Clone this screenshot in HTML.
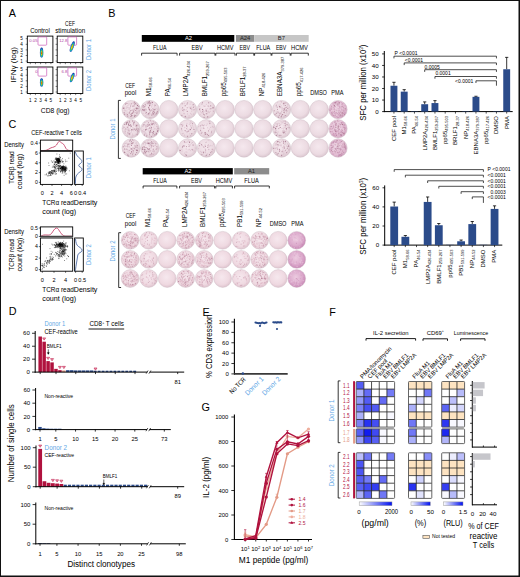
<!DOCTYPE html><html><head><meta charset="utf-8"><style>html,body{margin:0;padding:0;background:#fff;width:520px;height:577px;overflow:hidden}svg{display:block;font-family:"Liberation Sans",sans-serif}</style></head><body><svg width="520" height="577" viewBox="0 0 520 577" font-family="Liberation Sans, sans-serif"><defs><radialGradient id="jet" cx="50%" cy="55%" r="50%"><stop offset="0" stop-color="#e02010"/><stop offset="0.25" stop-color="#f0c010"/><stop offset="0.5" stop-color="#60c040"/><stop offset="0.75" stop-color="#10a0d0"/><stop offset="1" stop-color="#1030a0"/></radialGradient><radialGradient id="well" cx="45%" cy="42%" r="58%"><stop offset="0" stop-color="#f5e8ee"/><stop offset="0.72" stop-color="#ecdbe2"/><stop offset="1" stop-color="#dcc8d1"/></radialGradient><radialGradient id="well2" cx="45%" cy="42%" r="58%"><stop offset="0" stop-color="#f6e8ee"/><stop offset="0.72" stop-color="#efd9e1"/><stop offset="1" stop-color="#dfc5cf"/></radialGradient><radialGradient id="wellp" cx="45%" cy="42%" r="58%"><stop offset="0" stop-color="#f0dce8"/><stop offset="0.7" stop-color="#e6c4d8"/><stop offset="1" stop-color="#d4aac4"/></radialGradient><radialGradient id="wellp2" cx="45%" cy="42%" r="58%"><stop offset="0" stop-color="#eccbe0"/><stop offset="0.65" stop-color="#dcaacc"/><stop offset="1" stop-color="#c888b6"/></radialGradient><linearGradient id="cb"><stop offset="0" stop-color="#ffffff"/><stop offset="1" stop-color="#0010f0"/></linearGradient></defs><rect x="0" y="0" width="520" height="1" fill="#111"/>
<rect x="0" y="0" width="1" height="577" fill="#111"/>
<rect x="518.5" y="0" width="1.5" height="577" fill="#111"/>
<rect x="0" y="575.5" width="520" height="1.5" fill="#111"/>
<text x="8.8" y="16.8" font-size="10.8">A</text>
<text x="108.3" y="16.9" font-size="10.8">B</text>
<text x="8.6" y="127.8" font-size="10.8">C</text>
<text x="8.7" y="315.4" font-size="10.8">D</text>
<text x="202.4" y="315.8" font-size="10.8">E</text>
<text x="201.6" y="411.2" font-size="10.8">G</text>
<text x="329.2" y="315.6" font-size="10.8">F</text>
<text x="40" y="32.9" font-size="7" text-anchor="middle" textLength="19.6" lengthAdjust="spacingAndGlyphs">Control</text>
<text x="70" y="25.7" font-size="6.68" text-anchor="middle" textLength="9.8" lengthAdjust="spacingAndGlyphs">CEF</text>
<text x="70.2" y="32.9" font-size="7" text-anchor="middle" textLength="30" lengthAdjust="spacingAndGlyphs">stimulation</text>
<rect x="27.3" y="36.1" width="25.6" height="26.5" fill="none" stroke="#000" stroke-width="0.9"/>
<line x1="25.7" y1="61.1" x2="27.3" y2="61.1" stroke="#000" stroke-width="0.5"/>
<line x1="25.7" y1="55.5" x2="27.3" y2="55.5" stroke="#000" stroke-width="0.5"/>
<line x1="25.7" y1="49.9" x2="27.3" y2="49.9" stroke="#000" stroke-width="0.5"/>
<line x1="25.7" y1="44.3" x2="27.3" y2="44.3" stroke="#000" stroke-width="0.5"/>
<line x1="25.7" y1="38.7" x2="27.3" y2="38.7" stroke="#000" stroke-width="0.5"/>
<line x1="30.3" y1="62.6" x2="30.3" y2="64.2" stroke="#000" stroke-width="0.5"/>
<line x1="35.45" y1="62.6" x2="35.45" y2="64.2" stroke="#000" stroke-width="0.5"/>
<line x1="40.6" y1="62.6" x2="40.6" y2="64.2" stroke="#000" stroke-width="0.5"/>
<line x1="45.75" y1="62.6" x2="45.75" y2="64.2" stroke="#000" stroke-width="0.5"/>
<line x1="50.9" y1="62.6" x2="50.9" y2="64.2" stroke="#000" stroke-width="0.5"/>
<rect x="38" y="36.9" width="8.7" height="8.3" fill="none" stroke="#cc5ab8" stroke-width="0.7" rx="0.8"/>
<text x="37.5" y="42.2" font-size="4.2" text-anchor="end" fill="#b040a0">0.05</text>
<ellipse cx="41.6" cy="52.6" rx="1.7" ry="5.2" fill="url(#jet)"/>
<rect x="57.2" y="36.1" width="25.6" height="26.5" fill="none" stroke="#000" stroke-width="0.9"/>
<line x1="55.6" y1="61.1" x2="57.2" y2="61.1" stroke="#000" stroke-width="0.5"/>
<line x1="55.6" y1="55.5" x2="57.2" y2="55.5" stroke="#000" stroke-width="0.5"/>
<line x1="55.6" y1="49.9" x2="57.2" y2="49.9" stroke="#000" stroke-width="0.5"/>
<line x1="55.6" y1="44.3" x2="57.2" y2="44.3" stroke="#000" stroke-width="0.5"/>
<line x1="55.6" y1="38.7" x2="57.2" y2="38.7" stroke="#000" stroke-width="0.5"/>
<line x1="60.2" y1="62.6" x2="60.2" y2="64.2" stroke="#000" stroke-width="0.5"/>
<line x1="65.35" y1="62.6" x2="65.35" y2="64.2" stroke="#000" stroke-width="0.5"/>
<line x1="70.5" y1="62.6" x2="70.5" y2="64.2" stroke="#000" stroke-width="0.5"/>
<line x1="75.65" y1="62.6" x2="75.65" y2="64.2" stroke="#000" stroke-width="0.5"/>
<line x1="80.8" y1="62.6" x2="80.8" y2="64.2" stroke="#000" stroke-width="0.5"/>
<rect x="67.9" y="36.9" width="8.7" height="8.3" fill="none" stroke="#cc5ab8" stroke-width="0.7" rx="0.8"/>
<text x="67.4" y="42.2" font-size="4.2" text-anchor="end" fill="#b040a0">12.8</text>
<ellipse cx="72.2" cy="46.6" rx="1.6" ry="5.6" fill="url(#jet)" transform="rotate(20 72.2 46.6)"/>
<rect x="27.3" y="67" width="25.6" height="26.5" fill="none" stroke="#000" stroke-width="0.9"/>
<line x1="25.7" y1="92" x2="27.3" y2="92" stroke="#000" stroke-width="0.5"/>
<line x1="25.7" y1="86.4" x2="27.3" y2="86.4" stroke="#000" stroke-width="0.5"/>
<line x1="25.7" y1="80.8" x2="27.3" y2="80.8" stroke="#000" stroke-width="0.5"/>
<line x1="25.7" y1="75.2" x2="27.3" y2="75.2" stroke="#000" stroke-width="0.5"/>
<line x1="25.7" y1="69.6" x2="27.3" y2="69.6" stroke="#000" stroke-width="0.5"/>
<line x1="30.3" y1="93.5" x2="30.3" y2="95.1" stroke="#000" stroke-width="0.5"/>
<line x1="35.45" y1="93.5" x2="35.45" y2="95.1" stroke="#000" stroke-width="0.5"/>
<line x1="40.6" y1="93.5" x2="40.6" y2="95.1" stroke="#000" stroke-width="0.5"/>
<line x1="45.75" y1="93.5" x2="45.75" y2="95.1" stroke="#000" stroke-width="0.5"/>
<line x1="50.9" y1="93.5" x2="50.9" y2="95.1" stroke="#000" stroke-width="0.5"/>
<rect x="38" y="67.8" width="8.7" height="8.3" fill="none" stroke="#cc5ab8" stroke-width="0.7" rx="0.8"/>
<text x="37.5" y="73.1" font-size="4.2" text-anchor="end" fill="#b040a0">0</text>
<ellipse cx="41.6" cy="82.5" rx="1.7" ry="4.3" fill="url(#jet)"/>
<rect x="57.2" y="67" width="25.6" height="26.5" fill="none" stroke="#000" stroke-width="0.9"/>
<line x1="55.6" y1="92" x2="57.2" y2="92" stroke="#000" stroke-width="0.5"/>
<line x1="55.6" y1="86.4" x2="57.2" y2="86.4" stroke="#000" stroke-width="0.5"/>
<line x1="55.6" y1="80.8" x2="57.2" y2="80.8" stroke="#000" stroke-width="0.5"/>
<line x1="55.6" y1="75.2" x2="57.2" y2="75.2" stroke="#000" stroke-width="0.5"/>
<line x1="55.6" y1="69.6" x2="57.2" y2="69.6" stroke="#000" stroke-width="0.5"/>
<line x1="60.2" y1="93.5" x2="60.2" y2="95.1" stroke="#000" stroke-width="0.5"/>
<line x1="65.35" y1="93.5" x2="65.35" y2="95.1" stroke="#000" stroke-width="0.5"/>
<line x1="70.5" y1="93.5" x2="70.5" y2="95.1" stroke="#000" stroke-width="0.5"/>
<line x1="75.65" y1="93.5" x2="75.65" y2="95.1" stroke="#000" stroke-width="0.5"/>
<line x1="80.8" y1="93.5" x2="80.8" y2="95.1" stroke="#000" stroke-width="0.5"/>
<rect x="67.9" y="67.8" width="8.7" height="8.3" fill="none" stroke="#cc5ab8" stroke-width="0.7" rx="0.8"/>
<text x="67.4" y="73.1" font-size="4.2" text-anchor="end" fill="#b040a0">6.8</text>
<ellipse cx="72.2" cy="77.5" rx="1.6" ry="5" fill="url(#jet)" transform="rotate(20 72.2 77.5)"/>
<text x="22.9" y="62.7" font-size="4.6" text-anchor="end">1</text>
<text x="22.9" y="57.1" font-size="4.6" text-anchor="end">2</text>
<text x="22.9" y="51.5" font-size="4.6" text-anchor="end">3</text>
<text x="22.9" y="45.9" font-size="4.6" text-anchor="end">4</text>
<text x="22.9" y="40.3" font-size="4.6" text-anchor="end">5</text>
<text x="22.9" y="93.6" font-size="4.6" text-anchor="end">1</text>
<text x="22.9" y="88" font-size="4.6" text-anchor="end">2</text>
<text x="22.9" y="82.4" font-size="4.6" text-anchor="end">3</text>
<text x="22.9" y="76.8" font-size="4.6" text-anchor="end">4</text>
<text x="22.9" y="71.2" font-size="4.6" text-anchor="end">5</text>
<text x="30.3" y="102.2" font-size="4.6" text-anchor="middle">1</text>
<text x="35.45" y="102.2" font-size="4.6" text-anchor="middle">2</text>
<text x="40.6" y="102.2" font-size="4.6" text-anchor="middle">3</text>
<text x="45.75" y="102.2" font-size="4.6" text-anchor="middle">4</text>
<text x="50.9" y="102.2" font-size="4.6" text-anchor="middle">5</text>
<text x="60.2" y="102.2" font-size="4.6" text-anchor="middle">1</text>
<text x="65.35" y="102.2" font-size="4.6" text-anchor="middle">2</text>
<text x="70.5" y="102.2" font-size="4.6" text-anchor="middle">3</text>
<text x="75.65" y="102.2" font-size="4.6" text-anchor="middle">4</text>
<text x="80.8" y="102.2" font-size="4.6" text-anchor="middle">5</text>
<text x="55.2" y="112.7" font-size="7.42" text-anchor="middle" textLength="28.8" lengthAdjust="spacingAndGlyphs">CD8 (log)</text>
<text x="16" y="64.8" font-size="7.42" text-anchor="middle" transform="rotate(-90 16 64.8)" textLength="35.5" lengthAdjust="spacingAndGlyphs">IFN&#947; (log)</text>
<text x="91.2" y="49.5" font-size="7" text-anchor="middle" fill="#5fa8e6" transform="rotate(-90 91.2 49.5)" textLength="21" lengthAdjust="spacingAndGlyphs">Donor 1</text>
<text x="91.2" y="80.5" font-size="7" text-anchor="middle" fill="#5fa8e6" transform="rotate(-90 91.2 80.5)" textLength="21" lengthAdjust="spacingAndGlyphs">Donor 2</text>
<rect x="141.8" y="35" width="92.5" height="6.8" fill="#000"/>
<rect x="235.9" y="35" width="18.3" height="6.8" fill="#8c8c8c"/>
<rect x="254.2" y="35" width="54.5" height="6.8" fill="#c6c6c6"/>
<text x="188.5" y="40.4" font-size="5.8" text-anchor="middle" fill="#fff">A2</text>
<text x="245.1" y="40.4" font-size="5.8" text-anchor="middle" fill="#222">A24</text>
<text x="281.4" y="40.4" font-size="5.8" text-anchor="middle" fill="#222">B7</text>
<text x="153" y="49.7" font-size="6.36" textLength="13.5" lengthAdjust="spacingAndGlyphs">FLUA</text>
<text x="191.5" y="49.7" font-size="6.36" textLength="11.1" lengthAdjust="spacingAndGlyphs">EBV</text>
<text x="217" y="49.7" font-size="6.36" textLength="16.4" lengthAdjust="spacingAndGlyphs">HCMV</text>
<text x="239.5" y="49.7" font-size="6.36" textLength="10.5" lengthAdjust="spacingAndGlyphs">EBV</text>
<text x="256.3" y="49.7" font-size="6.36" textLength="13.9" lengthAdjust="spacingAndGlyphs">FLUA</text>
<text x="275.9" y="49.7" font-size="6.36" textLength="10.3" lengthAdjust="spacingAndGlyphs">EBV</text>
<text x="291" y="49.7" font-size="6.36" textLength="16.9" lengthAdjust="spacingAndGlyphs">HCMV</text>
<path d="M141.6 55.6V53.2H177.1V55.6" stroke="#000" stroke-width="0.8" fill="none"/>
<path d="M179.6 55.6V53.2H215V55.6" stroke="#000" stroke-width="0.8" fill="none"/>
<path d="M215.8 55.6V53.2H235V55.6" stroke="#000" stroke-width="0.8" fill="none"/>
<path d="M236.4 55.6V53.2H253.8V55.6" stroke="#000" stroke-width="0.8" fill="none"/>
<path d="M254.6 55.6V53.2H271.1V55.6" stroke="#000" stroke-width="0.8" fill="none"/>
<path d="M271.9 55.6V53.2H290.2V55.6" stroke="#000" stroke-width="0.8" fill="none"/>
<path d="M291 55.6V53.2H308.3V55.6" stroke="#000" stroke-width="0.8" fill="none"/>
<text x="130.2" y="87.6" font-size="6.36" text-anchor="middle" textLength="9.8" lengthAdjust="spacingAndGlyphs">CEF</text>
<text x="130.5" y="95.2" font-size="6.36" text-anchor="middle" textLength="11.6" lengthAdjust="spacingAndGlyphs">pool</text>
<text x="150.9" y="96.3" font-size="6.3" transform="rotate(-90 150.9 96.3)">M1<tspan font-size="4" dy="1.3">58-66</tspan></text>
<text x="169.7" y="96.3" font-size="6.3" transform="rotate(-90 169.7 96.3)">PA<tspan font-size="4" dy="1.3">46-54</tspan></text>
<text x="188.5" y="96.3" font-size="6.3" transform="rotate(-90 188.5 96.3)">LMP2A<tspan font-size="4" dy="1.3">426-434</tspan></text>
<text x="207.3" y="96.3" font-size="6.3" transform="rotate(-90 207.3 96.3)">BMLF1<tspan font-size="4" dy="1.3">259-267</tspan></text>
<text x="226.1" y="96.3" font-size="6.3" transform="rotate(-90 226.1 96.3)">pp65<tspan font-size="4" dy="1.3">495-503</tspan></text>
<text x="244.9" y="96.3" font-size="6.3" transform="rotate(-90 244.9 96.3)">BRLF1<tspan font-size="4" dy="1.3">28-37</tspan></text>
<text x="263.7" y="96.3" font-size="6.3" transform="rotate(-90 263.7 96.3)">NP<tspan font-size="4" dy="1.3">418-426</tspan></text>
<text x="282.5" y="96.3" font-size="6.3" transform="rotate(-90 282.5 96.3)">EBNA3A<tspan font-size="4" dy="1.3">379-387</tspan></text>
<text x="301.3" y="96.3" font-size="6.3" transform="rotate(-90 301.3 96.3)">pp65<tspan font-size="4" dy="1.3">417-426</tspan></text>
<text x="318.6" y="94.6" font-size="6.36" text-anchor="middle" textLength="16.8" lengthAdjust="spacingAndGlyphs">DMSO</text>
<text x="337.4" y="94.6" font-size="6.36" text-anchor="middle" textLength="12.2" lengthAdjust="spacingAndGlyphs">PMA</text>
<circle cx="131.2" cy="109.6" r="9.2" fill="url(#well)" stroke="#cdbcc4" stroke-width="0.45"/>
<path d="M129.8 112.5h0M129.9 107.8h0M126.3 108.5h0M136.7 111.7h0M136.5 110.9h0M133.5 110.7h0M124.5 113.0h0M134.0 112.4h0M125.6 103.8h0M126.6 107.2h0M133.0 109.3h0M134.0 106.1h0M133.0 111.8h0M128.5 116.6h0M133.9 115.3h0M127.9 105.7h0M129.2 109.0h0M134.7 111.0h0M128.9 104.7h0M128.7 115.4h0M126.9 110.9h0M133.1 102.9h0M131.4 115.9h0M123.5 108.4h0M130.6 105.2h0M134.0 109.2h0M124.9 113.2h0M134.6 114.3h0M137.8 111.3h0M131.8 103.3h0M134.5 106.3h0M129.0 103.6h0M126.3 106.9h0M135.5 102.8h0M124.5 110.7h0M137.7 112.2h0M126.2 103.0h0M133.1 105.6h0M126.1 114.1h0M136.8 110.4h0M132.6 112.1h0M138.0 112.2h0M134.0 112.6h0M125.2 114.5h0M136.1 112.3h0M123.8 107.2h0M134.5 102.6h0M130.2 114.9h0M126.3 115.7h0" stroke="#dcc0cd" stroke-opacity="0.7" stroke-width="1.3" stroke-linecap="round"/><path d="M134.3 108.8h0M133.0 113.2h0M131.8 115.3h0M127.6 107.3h0M136.6 109.7h0M126.9 114.2h0M137.8 107.6h0M124.7 109.0h0M130.3 107.9h0M137.1 105.3h0M136.4 104.3h0M127.1 112.9h0M136.5 113.6h0M133.2 110.4h0M132.1 112.8h0M130.2 111.2h0M134.4 109.6h0M135.2 112.6h0M138.9 110.8h0M128.8 107.5h0M131.1 114.5h0M129.3 111.8h0M136.0 102.9h0M125.6 110.8h0M133.5 111.0h0M128.9 113.2h0M132.8 106.7h0M139.2 110.8h0M128.1 109.0h0M129.9 109.2h0M123.1 108.2h0M135.7 104.4h0M130.8 114.6h0" stroke="#b48aa0" stroke-opacity="0.5" stroke-width="0.75" stroke-linecap="round"/><path d="M134.8 115.9h0M124.0 108.1h0M129.3 113.0h0M134.3 102.0h0M135.7 103.6h0M134.2 103.1h0M132.1 115.5h0M130.3 110.7h0M135.5 110.4h0M130.8 116.5h0M136.5 108.1h0M138.8 106.4h0M136.0 108.2h0M131.9 113.5h0M132.4 113.1h0M125.6 104.1h0M134.3 104.8h0M127.0 103.5h0M137.0 113.0h0M137.4 105.7h0M131.2 103.9h0M134.4 116.2h0M127.5 116.1h0M136.3 108.7h0M124.6 114.3h0M130.7 106.2h0M133.5 111.9h0M137.4 105.4h0M135.8 115.6h0M137.9 108.8h0M127.6 114.6h0M131.9 110.3h0M137.8 108.4h0M123.3 108.3h0M124.1 112.7h0M133.0 106.2h0M131.1 114.1h0M131.6 115.9h0" stroke="#7a3a58" stroke-opacity="0.75" stroke-width="0.7" stroke-linecap="round"/>
<circle cx="150" cy="109.6" r="9.2" fill="url(#well)" stroke="#cdbcc4" stroke-width="0.45"/>
<path d="M149.7 115.0h0M155.4 115.4h0M146.6 114.1h0M143.2 105.7h0M143.0 113.4h0M143.9 109.5h0M148.9 109.4h0M146.7 110.9h0M157.4 109.8h0M152.7 114.6h0M149.0 103.5h0M147.3 114.9h0M143.1 107.1h0M154.9 113.4h0M150.0 114.0h0M150.8 103.7h0M143.3 106.9h0M154.7 106.7h0M145.5 105.8h0M143.1 109.1h0M144.2 111.4h0M142.0 110.7h0M147.6 102.2h0M154.0 108.1h0M142.5 106.7h0M151.6 107.0h0M154.0 113.4h0M153.7 111.4h0M156.1 112.6h0M151.7 101.9h0M154.0 115.4h0M148.3 106.9h0M156.0 104.1h0M151.5 117.6h0M145.4 113.1h0M157.6 109.1h0M152.9 114.2h0M145.2 109.1h0M151.6 114.0h0M149.8 108.5h0M144.8 107.8h0M154.7 110.1h0M145.8 105.4h0M157.6 112.8h0M152.0 101.7h0M153.4 112.2h0M157.1 111.4h0M149.6 112.6h0M143.0 113.3h0M151.8 105.8h0M154.7 116.0h0M143.7 106.6h0M151.7 110.7h0M148.0 104.6h0" stroke="#dcc0cd" stroke-opacity="0.7" stroke-width="1.3" stroke-linecap="round"/><path d="M157.2 113.1h0M145.1 104.0h0M156.6 113.5h0M157.0 112.7h0M145.4 111.0h0M142.5 107.0h0M149.7 112.6h0M146.0 108.9h0M152.6 111.7h0M153.5 110.8h0M148.3 113.8h0M150.3 105.1h0M146.5 109.6h0M149.4 110.5h0M150.0 110.6h0M149.3 103.5h0M152.1 114.9h0M152.5 108.5h0M152.3 104.6h0M142.4 109.8h0M145.4 113.3h0M146.9 102.0h0M145.8 115.9h0M148.2 103.2h0M146.0 112.4h0M152.8 110.6h0M156.5 112.7h0M149.9 113.0h0M156.6 113.5h0M154.7 104.7h0M149.2 113.6h0M148.5 115.0h0M153.0 114.2h0M149.3 117.7h0M156.0 108.5h0M150.3 117.8h0" stroke="#b48aa0" stroke-opacity="0.5" stroke-width="0.75" stroke-linecap="round"/><path d="M148.2 114.2h0M155.1 109.6h0M144.2 110.5h0M151.8 115.2h0M154.3 109.7h0M154.4 112.4h0M151.2 109.9h0M148.7 113.4h0M144.8 106.5h0M150.0 102.9h0M148.3 102.0h0M146.4 112.6h0M153.2 109.3h0M148.9 103.0h0M157.3 111.7h0M155.1 105.5h0M149.2 102.2h0M153.8 114.2h0M142.4 109.4h0M152.5 102.5h0M143.2 105.6h0M147.2 103.3h0M150.2 111.1h0M153.3 113.3h0M156.0 114.2h0M143.9 107.2h0M145.2 104.7h0M149.5 109.6h0M152.1 102.7h0M143.9 109.5h0M148.8 107.8h0M149.7 105.4h0M153.8 111.5h0M149.5 105.9h0M149.5 101.4h0M144.9 109.8h0M143.2 110.5h0M150.7 103.1h0M148.6 107.8h0M152.5 112.9h0M149.8 105.0h0M149.2 109.2h0" stroke="#7a3a58" stroke-opacity="0.75" stroke-width="0.7" stroke-linecap="round"/>
<circle cx="168.8" cy="109.6" r="9.2" fill="url(#well)" stroke="#cdbcc4" stroke-width="0.45"/>
<circle cx="187.6" cy="109.6" r="9.2" fill="url(#well)" stroke="#cdbcc4" stroke-width="0.45"/>
<path d="M191.6 111.2h0M184.3 103.5h0M185.6 105.6h0M182.0 109.0h0M184.8 110.2h0M190.5 107.3h0M195.6 108.5h0M193.2 110.2h0M191.1 102.2h0M183.5 110.9h0M189.6 117.4h0M189.1 115.7h0M191.4 114.3h0M190.5 108.7h0M190.1 104.2h0M192.9 105.1h0M188.5 117.4h0M186.3 109.7h0M193.4 109.7h0M183.3 111.0h0" stroke="#dcc0cd" stroke-opacity="0.7" stroke-width="1.3" stroke-linecap="round"/><path d="M190.7 113.4h0M184.5 116.6h0M194.8 109.7h0M189.1 107.2h0M193.9 106.5h0M191.2 107.0h0M184.0 113.3h0M194.0 109.6h0M184.1 113.8h0M187.3 111.4h0M193.7 114.1h0M185.8 117.4h0M187.6 113.9h0" stroke="#b48aa0" stroke-opacity="0.5" stroke-width="0.75" stroke-linecap="round"/><path d="M184.0 109.4h0M181.9 115.4h0M193.2 104.6h0M182.2 103.8h0M193.3 107.4h0M187.2 107.8h0M187.0 104.1h0M187.7 102.9h0M187.2 111.4h0M190.3 108.3h0M182.8 110.4h0M185.5 116.4h0M191.8 109.0h0M185.1 105.8h0M182.7 107.8h0" stroke="#7a3a58" stroke-opacity="0.75" stroke-width="0.7" stroke-linecap="round"/>
<circle cx="206.4" cy="109.6" r="9.2" fill="url(#well)" stroke="#cdbcc4" stroke-width="0.45"/>
<path d="M208.1 112.5h0M208.5 117.2h0M202.5 109.7h0M213.3 105.0h0M203.5 110.6h0M207.3 111.9h0M205.0 111.7h0M206.7 113.8h0M199.3 106.3h0M206.4 104.3h0M201.2 112.7h0M202.9 113.0h0M210.4 111.3h0M209.3 109.0h0M199.8 109.5h0M208.9 106.7h0M205.9 113.7h0M201.9 112.9h0M213.7 107.4h0M207.3 108.7h0M213.2 111.0h0M210.9 106.1h0M206.3 109.5h0M200.2 114.6h0" stroke="#dcc0cd" stroke-opacity="0.7" stroke-width="1.3" stroke-linecap="round"/><path d="M209.9 102.8h0M210.5 108.9h0M208.9 111.7h0M199.6 108.6h0M213.0 107.1h0M202.0 103.8h0M200.5 111.2h0M213.5 111.4h0M207.3 117.5h0M203.6 106.0h0M209.3 112.6h0M201.9 104.4h0M208.1 111.0h0M200.1 108.6h0M203.4 112.1h0M205.7 109.1h0" stroke="#b48aa0" stroke-opacity="0.5" stroke-width="0.75" stroke-linecap="round"/><path d="M204.6 114.9h0M212.8 107.9h0M210.7 105.8h0M206.8 113.7h0M213.2 107.9h0M206.0 110.7h0M199.6 109.7h0M202.7 111.6h0M202.4 102.7h0M206.6 111.1h0M203.6 114.2h0M204.9 106.2h0M208.5 102.8h0M202.6 109.5h0M211.0 108.7h0M208.1 106.0h0M207.7 116.7h0M204.1 117.4h0M202.8 109.7h0" stroke="#7a3a58" stroke-opacity="0.75" stroke-width="0.7" stroke-linecap="round"/>
<circle cx="225.2" cy="109.6" r="9.2" fill="url(#well)" stroke="#cdbcc4" stroke-width="0.45"/>
<circle cx="244" cy="109.6" r="9.2" fill="url(#well)" stroke="#cdbcc4" stroke-width="0.45"/>
<circle cx="262.8" cy="109.6" r="9.2" fill="url(#well)" stroke="#cdbcc4" stroke-width="0.45"/>
<circle cx="281.6" cy="109.6" r="9.2" fill="url(#well)" stroke="#cdbcc4" stroke-width="0.45"/>
<path d="M282.5 114.9h0M277.5 102.6h0M284.8 113.7h0M283.5 117.6h0M282.8 111.1h0M286.4 111.5h0M287.9 104.9h0M280.7 101.4h0M285.9 107.6h0M284.8 117.0h0M281.6 108.1h0M279.0 105.2h0M278.2 113.0h0M281.8 110.0h0M280.7 114.4h0M284.4 108.8h0M285.3 108.8h0M276.9 115.5h0M284.0 104.7h0M287.0 111.3h0M276.1 115.3h0M283.4 114.3h0M282.8 108.7h0M275.3 113.6h0M281.8 107.9h0M283.6 110.1h0M285.3 107.6h0M281.5 101.7h0M279.3 113.3h0M287.9 107.9h0M281.1 116.6h0M279.8 113.6h0M288.8 109.8h0M287.3 106.3h0M282.8 109.1h0M282.2 115.3h0M289.4 107.4h0M278.5 112.3h0" stroke="#dcc0cd" stroke-opacity="0.7" stroke-width="1.3" stroke-linecap="round"/><path d="M276.3 112.1h0M284.8 108.1h0M283.9 102.9h0M284.8 103.1h0M277.9 106.6h0M279.5 114.1h0M282.1 107.3h0M283.9 116.4h0M281.6 111.7h0M287.6 110.9h0M277.8 116.9h0M287.7 104.1h0M281.4 112.0h0M286.4 112.9h0M280.2 104.2h0M282.1 114.9h0M276.6 104.9h0M281.5 102.0h0M280.1 107.1h0M284.0 105.8h0M277.0 107.5h0M281.3 105.9h0M281.7 113.7h0M286.1 116.0h0M277.4 107.4h0" stroke="#b48aa0" stroke-opacity="0.5" stroke-width="0.75" stroke-linecap="round"/><path d="M275.0 114.6h0M277.6 109.4h0M284.0 103.3h0M284.3 109.4h0M274.2 110.8h0M285.9 102.9h0M286.0 110.7h0M284.2 112.1h0M287.8 108.5h0M286.2 107.4h0M285.3 105.5h0M281.1 116.9h0M284.1 108.7h0M276.2 105.9h0M282.6 114.5h0M284.0 112.5h0M281.4 116.0h0M279.4 106.5h0M286.3 109.9h0M280.0 106.4h0M280.2 113.1h0M283.3 103.7h0M284.0 110.6h0M276.7 113.4h0M280.0 107.7h0M285.2 115.5h0M277.9 112.0h0M278.7 117.2h0M279.2 115.4h0" stroke="#7a3a58" stroke-opacity="0.75" stroke-width="0.7" stroke-linecap="round"/>
<circle cx="300.4" cy="109.6" r="9.2" fill="url(#well)" stroke="#cdbcc4" stroke-width="0.45"/>
<circle cx="319.2" cy="109.6" r="9.2" fill="url(#well)" stroke="#cdbcc4" stroke-width="0.45"/>
<circle cx="338" cy="109.6" r="9.2" fill="url(#wellp)" stroke="#cdbcc4" stroke-width="0.45"/>
<path d="M334.7 113.8h0M343.5 103.4h0M335.6 112.4h0M337.5 105.9h0M345.9 109.9h0M331.3 113.1h0M331.5 113.9h0M334.8 110.4h0M344.1 110.2h0M333.0 103.5h0M343.5 113.1h0M333.9 113.9h0M340.7 113.1h0M330.1 108.5h0M342.5 113.3h0M340.8 101.9h0M339.0 112.4h0M345.7 106.7h0M336.1 109.8h0M342.6 107.3h0M343.4 105.9h0M339.5 106.6h0M338.9 105.8h0M331.7 113.9h0M339.7 106.5h0M339.0 114.7h0M332.9 109.0h0M341.0 112.5h0M336.8 101.8h0M344.0 111.2h0M338.1 108.0h0M339.5 107.2h0M333.0 106.0h0M334.8 106.3h0M332.4 112.6h0M332.0 112.6h0M332.8 111.4h0M344.5 110.6h0M334.0 109.9h0M338.6 102.3h0M334.6 110.5h0M335.3 110.1h0M341.8 113.5h0M342.6 112.6h0M336.3 109.5h0M336.4 107.8h0M337.2 102.3h0M336.1 109.5h0M332.9 109.5h0M340.9 108.7h0M343.2 103.1h0M337.2 102.2h0M340.8 117.3h0M329.9 110.0h0M340.9 107.9h0M339.9 101.8h0M342.5 111.6h0M338.1 106.3h0M341.5 107.0h0M339.3 106.7h0M330.0 109.5h0M339.1 113.7h0M333.3 109.4h0M341.4 110.4h0M342.3 116.4h0M334.6 102.5h0M341.6 116.0h0M342.5 113.6h0M334.7 105.8h0M342.3 105.2h0M331.2 105.8h0M344.5 114.7h0M334.4 105.8h0M339.3 105.5h0M344.3 109.2h0M333.4 115.2h0M334.7 110.8h0M337.9 107.8h0M339.8 105.8h0M332.7 103.3h0M332.2 106.1h0M337.9 109.9h0M341.1 110.3h0M333.9 106.0h0M330.2 109.0h0M340.7 112.5h0M337.3 108.6h0M342.9 109.7h0M341.9 112.7h0M339.0 115.9h0M334.8 107.6h0M333.9 105.6h0M343.3 115.6h0M338.1 112.8h0M343.5 113.4h0M343.1 104.3h0M334.5 112.1h0M344.6 110.1h0M333.5 107.7h0M334.6 105.2h0M344.6 106.9h0M338.1 117.5h0M343.8 111.3h0M334.6 111.9h0M344.8 112.2h0M344.1 110.1h0M340.9 108.5h0M340.0 115.7h0M331.4 109.3h0M339.3 106.4h0M336.3 113.8h0M345.5 111.9h0" stroke="#d9a6c4" stroke-opacity="0.5" stroke-width="1.1" stroke-linecap="round"/><path d="M339.4 102.7h0M345.6 109.9h0M337.8 103.9h0M337.7 104.0h0M338.4 112.3h0M338.2 111.2h0M334.3 115.8h0M335.4 102.4h0M337.0 105.4h0M332.8 107.8h0M339.4 103.8h0M337.4 116.2h0M341.8 108.8h0M338.7 108.9h0M337.7 113.6h0M337.7 101.5h0M337.9 104.9h0M341.5 106.3h0M338.5 117.5h0M333.3 104.5h0M333.8 102.5h0M330.5 111.0h0M335.5 102.3h0M331.5 112.3h0M333.8 107.6h0M339.6 116.0h0M345.0 113.3h0M338.8 110.7h0M344.3 114.6h0M336.2 112.2h0M339.7 109.9h0M335.7 103.4h0M335.7 102.9h0M343.8 112.2h0M333.1 115.3h0M341.3 102.5h0M345.1 112.7h0M344.9 105.5h0M340.9 111.9h0M339.2 110.6h0M342.3 103.5h0M333.0 104.0h0M335.0 106.3h0M340.1 111.1h0M338.2 105.8h0M335.7 114.5h0M342.2 110.2h0M336.6 116.5h0M334.8 113.1h0M343.7 108.3h0M341.9 104.4h0M343.2 110.6h0M331.3 112.4h0M334.0 115.3h0M334.2 108.7h0M339.6 107.7h0M339.5 106.5h0M341.7 109.6h0M338.6 101.4h0M343.8 109.8h0M330.6 110.0h0M340.3 114.9h0M333.7 115.8h0M337.5 117.6h0M337.2 113.4h0M336.2 104.0h0M343.1 113.8h0M344.4 113.2h0M335.6 102.6h0M334.6 106.0h0M333.8 112.6h0M339.9 108.1h0M339.0 108.8h0M339.2 113.7h0M342.8 106.2h0M332.3 115.0h0M338.6 115.2h0M330.9 108.2h0M338.1 102.9h0M335.2 113.5h0" stroke="#b4709a" stroke-opacity="0.5" stroke-width="0.7" stroke-linecap="round"/><path d="M342.3 115.9h0M334.2 103.5h0M340.7 114.4h0M338.9 103.4h0M342.0 113.6h0M341.0 106.9h0M339.6 113.9h0M335.8 102.3h0M339.8 112.3h0M338.1 114.3h0M334.7 109.1h0M336.3 112.8h0M345.0 108.5h0M344.5 114.5h0M342.1 112.7h0M345.4 108.8h0M337.4 104.2h0M340.2 115.9h0M341.0 111.9h0M336.8 110.6h0M332.1 114.0h0M336.0 104.1h0M334.2 105.4h0M342.1 114.6h0M332.1 113.6h0M342.6 106.6h0M331.6 106.4h0M334.5 111.5h0M336.6 101.9h0M339.0 102.7h0M342.1 104.1h0M334.5 105.3h0M335.5 115.7h0M342.4 112.7h0M339.4 102.7h0M335.2 106.6h0M333.0 112.2h0M334.2 105.9h0M334.4 102.5h0M340.7 115.7h0M338.9 104.5h0M329.8 110.1h0M343.9 111.1h0M341.9 115.8h0M343.6 107.4h0M343.1 113.3h0M331.2 107.8h0M331.4 109.1h0" stroke="#83465f" stroke-opacity="0.55" stroke-width="0.6" stroke-linecap="round"/>
<circle cx="131.2" cy="128.8" r="9.2" fill="url(#well)" stroke="#cdbcc4" stroke-width="0.45"/>
<path d="M134.1 123.5h0M124.4 133.1h0M132.9 135.5h0M125.5 133.3h0M137.1 134.5h0M130.0 130.4h0M130.4 134.0h0M136.6 129.2h0M125.1 132.1h0M128.6 132.2h0M132.3 135.9h0M136.8 126.6h0M132.6 136.1h0M128.2 131.2h0M136.2 134.1h0M133.6 122.6h0M125.1 130.0h0M132.4 136.9h0M127.2 134.1h0M134.3 122.0h0M126.8 129.7h0M128.4 127.9h0M133.7 124.5h0M133.7 125.3h0M128.2 131.7h0M128.0 130.4h0M138.3 128.9h0M130.4 132.8h0M129.4 134.2h0M125.2 131.7h0M128.5 124.6h0M138.1 125.5h0M138.3 131.5h0M137.3 124.7h0M136.0 134.6h0M130.5 128.0h0M139.3 129.4h0M128.9 125.4h0M133.7 130.7h0M132.0 136.1h0M129.4 131.5h0M137.3 124.6h0M135.1 135.6h0M125.5 124.2h0M127.4 122.0h0M133.0 121.4h0M133.4 135.3h0M124.2 127.4h0M124.0 131.7h0" stroke="#dcc0cd" stroke-opacity="0.7" stroke-width="1.3" stroke-linecap="round"/><path d="M127.2 127.4h0M131.5 131.9h0M129.2 128.9h0M128.1 129.4h0M125.4 129.1h0M123.7 126.9h0M138.8 129.1h0M125.1 130.0h0M127.3 122.2h0M127.4 132.6h0M133.4 128.2h0M126.9 123.8h0M137.6 130.0h0M127.9 121.5h0M127.2 136.0h0M125.4 128.4h0M132.4 127.9h0M129.9 122.4h0M127.1 135.3h0M127.4 133.1h0M124.0 127.6h0M132.5 134.1h0M125.7 131.7h0M133.3 124.8h0M133.7 124.1h0M126.9 128.7h0M123.0 128.5h0M127.0 122.7h0M128.9 132.9h0M129.3 134.9h0M126.3 123.3h0M138.0 130.6h0M135.8 124.8h0" stroke="#b48aa0" stroke-opacity="0.5" stroke-width="0.75" stroke-linecap="round"/><path d="M135.5 130.2h0M134.8 128.9h0M136.9 125.7h0M127.2 122.6h0M136.7 125.3h0M126.3 124.4h0M129.1 122.8h0M129.6 125.3h0M128.4 123.9h0M131.4 126.2h0M131.9 130.2h0M132.4 121.0h0M128.4 124.6h0M134.4 122.2h0M127.3 127.2h0M129.5 133.9h0M128.9 133.8h0M126.2 122.6h0M137.1 130.9h0M134.0 129.5h0M133.5 123.0h0M136.0 126.1h0M136.3 129.3h0M124.5 124.4h0M136.9 128.1h0M128.9 130.2h0M128.8 125.8h0M131.8 129.6h0M138.1 129.0h0M137.1 134.4h0M137.8 132.9h0M132.0 129.6h0M130.4 124.8h0M130.8 125.2h0M138.1 131.1h0M129.5 121.3h0M130.9 126.4h0M126.4 123.7h0" stroke="#7a3a58" stroke-opacity="0.75" stroke-width="0.7" stroke-linecap="round"/>
<circle cx="150" cy="128.8" r="9.2" fill="url(#well)" stroke="#cdbcc4" stroke-width="0.45"/>
<path d="M142.2 130.8h0M149.8 136.9h0M149.8 127.9h0M156.7 129.4h0M151.0 126.7h0M147.3 135.4h0M153.9 135.5h0M148.0 129.0h0M145.8 133.5h0M143.7 131.4h0M154.5 134.7h0M145.6 133.8h0M146.3 124.9h0M144.5 133.6h0M156.9 126.3h0M145.9 127.0h0M157.6 131.8h0M147.8 121.6h0M146.8 134.4h0M157.5 127.7h0M146.3 126.1h0M143.0 132.2h0M145.1 133.6h0M143.7 124.1h0M151.6 124.7h0M154.3 128.8h0M144.4 131.8h0M153.1 121.6h0M157.3 130.8h0M152.9 121.6h0M146.1 126.9h0M154.4 122.8h0M146.8 121.5h0M148.6 130.8h0M143.0 126.3h0M152.2 135.6h0M153.7 127.1h0M144.7 124.5h0M146.3 129.6h0M149.8 136.0h0M151.5 123.4h0M156.4 132.7h0M150.6 124.8h0M143.1 125.0h0M154.5 124.8h0M143.7 129.7h0M151.4 132.2h0M152.9 135.1h0M145.9 133.5h0" stroke="#dcc0cd" stroke-opacity="0.7" stroke-width="1.3" stroke-linecap="round"/><path d="M145.1 132.2h0M151.0 130.2h0M155.1 128.7h0M155.2 132.9h0M150.8 125.6h0M146.0 126.0h0M148.8 128.7h0M158.1 130.5h0M153.9 124.5h0M146.1 127.1h0M151.0 123.5h0M156.9 126.4h0M153.4 121.4h0M150.0 130.4h0M151.1 132.2h0M151.6 129.7h0M142.8 126.1h0M142.2 130.9h0M151.8 127.7h0M145.7 125.8h0M155.9 134.4h0M149.7 135.0h0M144.9 122.5h0M147.5 124.2h0M146.9 129.9h0M158.1 127.0h0M150.3 130.4h0M149.8 133.7h0M156.5 124.3h0M150.9 127.3h0M151.6 122.0h0M145.0 122.2h0M153.0 129.9h0" stroke="#b48aa0" stroke-opacity="0.5" stroke-width="0.75" stroke-linecap="round"/><path d="M150.3 120.8h0M148.0 124.7h0M143.9 124.9h0M153.7 131.7h0M149.9 131.7h0M146.6 129.2h0M150.2 131.9h0M149.6 128.0h0M149.3 125.2h0M157.8 130.6h0M151.5 136.7h0M155.2 123.0h0M153.5 133.1h0M156.6 133.4h0M153.6 123.3h0M145.4 130.2h0M152.5 123.7h0M147.8 126.5h0M150.4 130.7h0M148.6 122.8h0M154.8 134.9h0M149.5 134.1h0M152.4 132.4h0M152.6 124.7h0M152.9 133.9h0M146.7 136.0h0M156.2 134.2h0M157.4 131.5h0M148.1 125.5h0M145.6 129.4h0M149.8 132.5h0M144.6 135.0h0M158.0 128.7h0M153.7 131.4h0M151.6 127.6h0M149.3 124.4h0M151.0 128.7h0M151.7 124.3h0" stroke="#7a3a58" stroke-opacity="0.75" stroke-width="0.7" stroke-linecap="round"/>
<circle cx="168.8" cy="128.8" r="9.2" fill="url(#well)" stroke="#cdbcc4" stroke-width="0.45"/>
<circle cx="187.6" cy="128.8" r="9.2" fill="url(#well)" stroke="#cdbcc4" stroke-width="0.45"/>
<path d="M187.8 129.1h0M190.6 123.6h0M189.7 133.8h0M190.9 126.8h0M184.8 127.5h0M190.7 135.4h0M186.7 125.2h0M189.8 130.0h0M183.1 125.1h0M187.0 132.5h0M182.3 124.3h0M190.0 122.9h0M188.2 130.8h0M187.0 123.5h0M187.3 126.9h0M189.4 124.3h0M191.8 122.3h0M186.6 128.8h0M192.4 125.7h0M190.6 125.7h0" stroke="#dcc0cd" stroke-opacity="0.7" stroke-width="1.3" stroke-linecap="round"/><path d="M190.6 135.8h0M185.3 131.3h0M183.2 133.4h0M193.6 129.0h0M182.0 130.8h0M192.7 133.6h0M190.7 121.7h0M184.6 135.1h0M182.3 133.7h0M194.8 131.7h0M193.2 127.1h0M181.6 128.3h0M186.4 128.5h0" stroke="#b48aa0" stroke-opacity="0.5" stroke-width="0.75" stroke-linecap="round"/><path d="M191.4 128.0h0M188.7 131.2h0M187.6 136.3h0M190.1 129.3h0M186.4 125.3h0M194.0 129.5h0M182.3 126.0h0M186.8 126.3h0M192.4 123.7h0M190.4 129.6h0M181.7 129.0h0M187.1 131.6h0M185.1 130.5h0M181.1 124.6h0M191.4 133.8h0" stroke="#7a3a58" stroke-opacity="0.75" stroke-width="0.7" stroke-linecap="round"/>
<circle cx="206.4" cy="128.8" r="9.2" fill="url(#well)" stroke="#cdbcc4" stroke-width="0.45"/>
<path d="M206.3 125.4h0M210.1 121.7h0M202.3 132.3h0M209.6 123.7h0M200.0 133.7h0M207.2 124.0h0M206.7 133.6h0M198.8 132.0h0M209.1 121.3h0M209.4 121.8h0M212.0 130.8h0M214.1 126.7h0M206.4 134.2h0M203.0 125.1h0M204.3 128.4h0M201.0 131.2h0M209.5 129.2h0M213.6 127.4h0" stroke="#dcc0cd" stroke-opacity="0.7" stroke-width="1.3" stroke-linecap="round"/><path d="M212.5 126.3h0M209.2 121.5h0M207.6 127.8h0M203.7 125.5h0M204.5 124.9h0M198.7 126.7h0M203.4 125.9h0M201.0 128.1h0M210.6 127.4h0M204.1 135.1h0M211.1 133.2h0M212.1 127.2h0" stroke="#b48aa0" stroke-opacity="0.5" stroke-width="0.75" stroke-linecap="round"/><path d="M205.7 134.4h0M203.3 128.1h0M208.5 130.9h0M205.0 133.9h0M205.4 132.8h0M211.6 132.0h0M209.9 123.3h0M200.3 125.9h0M208.5 135.5h0M200.4 130.3h0M202.1 125.1h0M204.9 132.6h0M207.5 134.6h0M201.7 133.1h0" stroke="#7a3a58" stroke-opacity="0.75" stroke-width="0.7" stroke-linecap="round"/>
<circle cx="225.2" cy="128.8" r="9.2" fill="url(#well)" stroke="#cdbcc4" stroke-width="0.45"/>
<circle cx="244" cy="128.8" r="9.2" fill="url(#well)" stroke="#cdbcc4" stroke-width="0.45"/>
<circle cx="262.8" cy="128.8" r="9.2" fill="url(#well)" stroke="#cdbcc4" stroke-width="0.45"/>
<path d="" stroke="#dcc0cd" stroke-opacity="0.7" stroke-width="1.3" stroke-linecap="round"/><path d="" stroke="#b48aa0" stroke-opacity="0.5" stroke-width="0.75" stroke-linecap="round"/><path d="" stroke="#7a3a58" stroke-opacity="0.75" stroke-width="0.7" stroke-linecap="round"/>
<circle cx="281.6" cy="128.8" r="9.2" fill="url(#well)" stroke="#cdbcc4" stroke-width="0.45"/>
<path d="M286.5 129.2h0M284.2 125.7h0M276.1 126.8h0M279.8 136.9h0M279.5 135.8h0M282.8 130.6h0M285.4 124.8h0M286.4 130.8h0M275.0 131.4h0M284.6 131.3h0M288.5 127.0h0M284.3 132.8h0M277.5 134.3h0M275.9 123.7h0M284.2 123.4h0M281.1 121.7h0M281.9 123.1h0M283.1 122.0h0M284.1 127.3h0M282.0 128.4h0M282.2 122.5h0M273.5 128.9h0M276.8 126.5h0M283.2 121.2h0M277.6 125.6h0M276.2 130.5h0M280.8 124.4h0M276.8 132.7h0M278.1 131.9h0M283.4 121.4h0M276.1 128.8h0" stroke="#dcc0cd" stroke-opacity="0.7" stroke-width="1.3" stroke-linecap="round"/><path d="M283.4 133.0h0M285.5 133.8h0M279.5 127.6h0M285.7 126.5h0M285.8 122.5h0M285.2 127.8h0M274.5 132.3h0M283.4 128.9h0M276.2 126.5h0M288.0 125.3h0M273.5 126.8h0M275.7 128.1h0M279.5 124.0h0M277.6 133.8h0M276.8 135.3h0M278.9 123.4h0M285.7 131.8h0M276.5 132.4h0M274.6 125.3h0M287.2 127.5h0M275.5 131.2h0" stroke="#b48aa0" stroke-opacity="0.5" stroke-width="0.75" stroke-linecap="round"/><path d="M286.5 128.7h0M274.2 127.4h0M283.8 132.9h0M289.1 127.8h0M278.8 128.6h0M287.0 124.6h0M285.1 121.3h0M285.7 125.3h0M284.1 132.5h0M275.7 128.4h0M282.9 132.1h0M277.2 124.1h0M276.6 135.4h0M280.5 127.5h0M275.3 132.7h0M279.2 135.3h0M286.2 128.9h0M285.1 123.5h0M279.8 125.6h0M275.4 128.9h0M280.9 135.4h0M273.5 127.2h0M276.9 126.4h0M284.0 131.1h0" stroke="#7a3a58" stroke-opacity="0.75" stroke-width="0.7" stroke-linecap="round"/>
<circle cx="300.4" cy="128.8" r="9.2" fill="url(#well)" stroke="#cdbcc4" stroke-width="0.45"/>
<circle cx="319.2" cy="128.8" r="9.2" fill="url(#well)" stroke="#cdbcc4" stroke-width="0.45"/>
<circle cx="338" cy="128.8" r="9.2" fill="url(#wellp)" stroke="#cdbcc4" stroke-width="0.45"/>
<path d="M338.2 126.1h0M340.8 130.8h0M330.5 127.7h0M332.3 123.9h0M338.9 129.2h0M338.6 124.1h0M336.9 124.0h0M340.1 132.5h0M344.4 133.4h0M333.7 126.4h0M333.1 130.4h0M345.4 131.4h0M330.9 124.8h0M331.9 131.2h0M338.0 130.5h0M345.0 125.6h0M334.9 136.0h0M339.8 124.6h0M331.5 123.9h0M329.9 129.0h0M338.2 134.0h0M337.2 125.0h0M335.2 136.0h0M330.6 129.5h0M338.1 132.3h0M335.7 131.6h0M342.4 128.0h0M335.4 127.7h0M333.0 127.7h0M336.3 130.0h0M343.4 134.1h0M335.6 132.1h0M339.6 132.9h0M338.1 130.3h0M335.5 124.6h0M341.9 134.6h0M341.6 131.2h0M339.5 126.2h0M330.9 131.4h0M339.1 125.7h0M333.7 134.4h0M332.2 134.5h0M340.1 136.6h0M334.0 128.7h0M335.1 129.7h0M336.9 124.7h0M343.1 125.0h0M335.2 131.8h0M335.0 126.4h0M340.0 126.7h0M331.9 128.3h0M337.1 136.0h0M333.0 133.3h0M333.8 126.9h0M336.1 130.4h0M341.4 135.7h0M335.1 134.9h0M342.8 132.7h0M334.2 133.3h0M337.4 130.8h0M336.5 132.5h0M342.9 133.8h0M336.9 134.0h0M344.1 124.8h0M343.7 123.6h0M340.9 132.0h0M344.7 130.1h0M335.5 124.6h0M332.3 132.3h0M336.7 124.9h0M340.8 124.8h0M335.6 126.2h0M343.9 134.1h0M337.3 121.8h0M339.6 129.2h0M339.9 131.9h0M336.3 133.6h0M342.5 129.9h0M335.7 126.1h0M341.3 123.5h0M337.1 124.7h0M331.7 131.5h0M337.8 129.0h0M341.7 122.5h0M337.6 130.5h0M341.9 123.7h0M341.9 130.0h0M343.7 133.5h0M340.0 136.5h0M338.0 126.4h0M336.2 123.9h0M337.9 121.2h0M337.5 131.2h0M343.1 127.0h0M344.2 125.9h0M337.5 121.3h0M334.1 124.8h0M344.5 131.1h0M332.7 131.4h0M340.7 127.5h0M338.1 127.1h0M335.8 121.7h0M337.6 134.9h0M344.5 127.5h0M334.0 127.7h0M342.6 130.6h0M334.8 130.8h0M336.9 131.6h0M336.2 122.3h0M338.3 132.9h0M332.5 128.3h0M342.5 126.9h0" stroke="#d9a6c4" stroke-opacity="0.5" stroke-width="1.1" stroke-linecap="round"/><path d="M335.6 136.2h0M341.9 133.6h0M334.2 135.3h0M331.1 126.6h0M341.3 134.7h0M333.4 125.5h0M338.8 121.3h0M341.4 131.7h0M335.6 131.7h0M342.1 130.4h0M340.3 135.4h0M335.4 129.7h0M335.4 133.9h0M335.8 131.4h0M338.8 129.2h0M345.2 128.4h0M344.1 132.3h0M344.2 128.0h0M342.5 132.5h0M334.7 130.3h0M337.3 128.6h0M343.8 125.6h0M332.4 123.0h0M335.6 125.4h0M338.1 131.9h0M345.2 130.1h0M340.4 125.0h0M340.6 134.9h0M342.5 122.2h0M341.6 135.2h0M341.5 122.5h0M336.3 132.0h0M340.1 124.6h0M333.8 133.3h0M332.8 134.3h0M338.1 130.5h0M332.0 126.1h0M341.0 122.5h0M344.7 124.3h0M332.1 129.0h0M340.5 132.6h0M335.9 127.7h0M336.7 125.7h0M330.3 131.7h0M339.4 129.7h0M334.6 130.1h0M337.9 128.4h0M342.1 122.3h0M339.2 123.5h0M336.6 135.4h0M332.6 128.3h0M335.1 133.5h0M334.2 122.3h0M340.8 126.9h0M336.4 134.1h0M333.5 126.9h0M338.8 131.1h0M335.5 133.8h0M345.8 127.4h0M343.4 122.7h0M344.3 127.2h0M338.8 126.9h0M335.1 123.0h0M336.2 134.8h0M343.5 127.1h0M335.3 125.2h0M333.7 135.3h0M341.6 129.4h0M335.6 123.8h0M343.8 132.2h0M333.6 133.4h0M332.8 131.8h0M333.2 126.7h0M340.7 131.1h0M342.7 124.9h0M343.9 133.8h0M337.9 131.4h0M333.9 128.0h0M331.8 129.2h0M338.9 135.0h0" stroke="#b4709a" stroke-opacity="0.5" stroke-width="0.7" stroke-linecap="round"/><path d="M342.5 132.7h0M336.0 127.6h0M336.1 130.0h0M330.8 131.7h0M331.3 126.6h0M338.1 126.0h0M345.0 128.4h0M344.1 133.3h0M335.3 131.0h0M344.0 127.3h0M338.5 125.8h0M338.3 126.8h0M338.4 133.8h0M344.4 129.4h0M339.0 133.2h0M336.6 123.6h0M343.0 124.6h0M342.3 124.3h0M344.7 125.0h0M341.5 135.0h0M334.1 134.9h0M334.8 122.0h0M341.6 132.3h0M337.4 120.7h0M337.7 127.1h0M335.9 127.2h0M330.9 126.6h0M344.1 134.0h0M336.1 125.1h0M339.9 134.0h0M341.3 123.4h0M338.9 129.6h0M343.7 133.5h0M340.4 134.5h0M336.3 135.5h0M335.7 130.9h0M342.3 124.5h0M335.2 121.9h0M338.9 128.5h0M336.2 131.5h0M330.2 128.7h0M338.5 127.3h0M341.1 135.6h0M335.8 124.1h0M334.7 129.3h0M340.9 124.5h0M342.5 124.2h0M342.2 131.0h0" stroke="#83465f" stroke-opacity="0.55" stroke-width="0.6" stroke-linecap="round"/>
<circle cx="131.2" cy="148" r="9.2" fill="url(#well)" stroke="#cdbcc4" stroke-width="0.45"/>
<path d="M132.8 155.7h0M129.7 147.1h0M133.6 152.4h0M125.0 149.3h0M127.4 151.2h0M137.5 148.2h0M130.6 149.0h0M123.2 150.1h0M134.2 148.9h0M129.1 144.2h0M130.3 153.8h0M130.7 154.2h0M123.2 146.6h0M132.7 147.9h0M124.4 145.3h0M136.3 142.8h0M126.8 143.1h0M128.3 151.3h0M133.4 140.6h0M137.5 145.4h0M128.8 154.8h0M130.8 142.1h0M128.0 144.3h0M126.2 146.3h0M135.7 149.8h0M127.5 155.4h0M126.2 148.6h0M131.4 152.0h0M129.4 150.5h0M138.9 148.4h0M125.9 149.6h0M127.1 146.1h0M132.2 149.9h0M129.7 152.4h0M130.3 141.9h0M135.7 146.1h0M136.8 145.0h0M134.3 149.7h0M124.0 144.0h0M126.7 153.7h0M124.2 151.4h0M136.5 150.4h0M134.7 145.4h0M131.1 149.3h0M133.4 151.7h0" stroke="#dcc0cd" stroke-opacity="0.7" stroke-width="1.3" stroke-linecap="round"/><path d="M130.1 144.3h0M128.2 150.2h0M125.0 143.4h0M129.0 145.0h0M130.4 139.9h0M129.3 146.6h0M134.0 140.8h0M129.5 150.6h0M133.5 153.6h0M135.9 143.3h0M134.6 146.2h0M127.9 154.4h0M128.1 143.7h0M129.1 143.6h0M136.2 149.9h0M137.5 149.9h0M128.2 153.0h0M127.8 145.6h0M130.3 148.2h0M136.8 145.2h0M133.2 147.8h0M125.9 143.4h0M130.0 150.2h0M132.9 150.6h0M131.5 145.5h0M133.3 143.0h0M125.0 146.5h0M124.9 145.7h0M127.4 145.2h0M131.0 143.8h0" stroke="#b48aa0" stroke-opacity="0.5" stroke-width="0.75" stroke-linecap="round"/><path d="M129.5 141.0h0M132.0 143.4h0M132.4 139.9h0M127.0 149.3h0M123.2 146.8h0M131.7 148.6h0M124.6 149.0h0M132.0 143.1h0M135.2 147.7h0M131.3 145.5h0M134.2 148.5h0M136.7 150.2h0M127.9 146.8h0M135.9 146.1h0M133.3 150.8h0M130.6 140.1h0M131.9 149.2h0M131.9 144.0h0M137.0 147.4h0M128.0 144.3h0M133.0 142.7h0M127.7 155.1h0M136.7 152.5h0M137.3 150.7h0M124.9 152.5h0M137.0 150.3h0M124.5 152.3h0M137.4 145.8h0M131.9 152.1h0M130.8 153.5h0M131.6 151.7h0M131.6 141.4h0M128.7 155.9h0M132.5 154.1h0M135.5 154.4h0" stroke="#7a3a58" stroke-opacity="0.75" stroke-width="0.7" stroke-linecap="round"/>
<circle cx="150" cy="148" r="9.2" fill="url(#well)" stroke="#cdbcc4" stroke-width="0.45"/>
<path d="M152.9 144.9h0M150.1 140.5h0M149.0 152.7h0M142.2 148.7h0M153.6 153.8h0M145.4 144.8h0M143.1 144.3h0M151.9 155.6h0M145.3 153.6h0M152.3 145.3h0M155.4 141.8h0M149.6 149.2h0M156.3 153.3h0M157.9 148.5h0M154.2 153.8h0M152.8 150.0h0M149.0 145.7h0M145.8 154.7h0M148.4 140.4h0M151.5 147.8h0M150.7 155.4h0M149.4 146.5h0M146.0 147.9h0M147.6 149.1h0M158.2 149.0h0M146.8 155.1h0M154.2 152.0h0M153.6 152.1h0M153.0 154.2h0M154.3 153.7h0M147.2 148.0h0M146.5 152.7h0M154.3 145.6h0M151.8 156.0h0M155.3 143.2h0M149.5 151.5h0M149.8 150.2h0M155.7 149.6h0M144.8 151.4h0M149.4 148.6h0M147.5 141.8h0M144.1 146.3h0M147.0 140.3h0M154.9 143.0h0M146.2 150.8h0M142.8 152.0h0M146.1 151.4h0M147.3 149.7h0M150.6 148.0h0" stroke="#dcc0cd" stroke-opacity="0.7" stroke-width="1.3" stroke-linecap="round"/><path d="M143.8 143.0h0M149.8 154.5h0M147.1 150.8h0M150.9 150.7h0M154.1 141.9h0M151.6 147.0h0M148.4 143.6h0M146.3 143.1h0M146.7 155.5h0M157.2 148.0h0M153.6 143.3h0M143.1 143.5h0M150.6 154.6h0M149.8 142.9h0M148.8 142.9h0M143.6 146.9h0M147.9 143.8h0M145.8 143.6h0M151.1 154.4h0M149.3 155.9h0M143.0 149.2h0M144.3 147.2h0M150.6 151.1h0M155.4 145.3h0M144.0 147.1h0M151.6 144.3h0M153.5 154.6h0M143.6 149.6h0M153.7 141.1h0M151.2 146.7h0M144.4 153.1h0M151.2 145.3h0M152.4 151.4h0" stroke="#b48aa0" stroke-opacity="0.5" stroke-width="0.75" stroke-linecap="round"/><path d="M154.0 151.0h0M152.0 142.3h0M147.6 148.7h0M143.4 153.1h0M148.1 142.8h0M142.7 149.0h0M150.2 144.8h0M147.9 143.4h0M146.0 147.5h0M146.7 151.5h0M149.2 148.8h0M151.9 154.0h0M153.3 149.2h0M149.1 143.7h0M148.2 151.6h0M151.3 145.8h0M145.0 142.2h0M151.6 153.2h0M151.7 141.7h0M148.8 149.3h0M145.3 149.8h0M148.9 143.6h0M144.4 151.7h0M151.8 143.4h0M145.3 152.2h0M153.2 146.3h0M156.9 146.7h0M145.3 152.9h0M148.9 149.9h0M150.2 142.9h0M144.2 147.1h0M155.9 143.8h0M156.3 149.0h0M144.5 149.3h0M152.9 143.5h0M142.3 149.3h0M144.6 150.1h0M142.5 147.4h0" stroke="#7a3a58" stroke-opacity="0.75" stroke-width="0.7" stroke-linecap="round"/>
<circle cx="168.8" cy="148" r="9.2" fill="url(#well)" stroke="#cdbcc4" stroke-width="0.45"/>
<circle cx="187.6" cy="148" r="9.2" fill="url(#well)" stroke="#cdbcc4" stroke-width="0.45"/>
<path d="M184.2 141.7h0M186.2 149.0h0M185.0 142.4h0M188.5 140.8h0M190.5 150.6h0M194.2 151.5h0M189.6 149.5h0M187.7 141.8h0M194.0 150.3h0M186.2 142.4h0M194.1 150.3h0M182.1 151.1h0M195.1 147.9h0M189.8 145.7h0M184.6 153.2h0M195.8 148.3h0M186.9 152.2h0M186.0 151.9h0" stroke="#dcc0cd" stroke-opacity="0.7" stroke-width="1.3" stroke-linecap="round"/><path d="M191.5 143.2h0M182.2 147.6h0M191.9 149.4h0M192.6 142.5h0M190.2 144.7h0M188.2 149.8h0M182.7 146.8h0M181.9 149.3h0M183.3 145.5h0M188.8 144.5h0M193.0 145.0h0M192.0 149.5h0" stroke="#b48aa0" stroke-opacity="0.5" stroke-width="0.75" stroke-linecap="round"/><path d="M182.4 146.9h0M183.3 146.1h0M186.5 155.3h0M185.8 154.8h0M189.7 142.0h0M179.9 150.3h0M180.3 150.6h0M192.7 149.9h0M186.4 146.6h0M189.0 146.3h0M184.7 146.0h0M193.1 145.1h0M189.4 142.4h0M184.5 141.9h0" stroke="#7a3a58" stroke-opacity="0.75" stroke-width="0.7" stroke-linecap="round"/>
<circle cx="206.4" cy="148" r="9.2" fill="url(#well)" stroke="#cdbcc4" stroke-width="0.45"/>
<path d="M205.3 151.7h0M208.1 145.3h0M209.7 146.1h0M208.5 149.5h0M208.1 140.1h0M200.6 151.4h0M206.0 155.9h0M205.1 145.0h0M212.9 150.4h0M213.7 150.0h0M205.3 151.9h0M202.3 145.7h0M203.4 146.8h0M210.4 145.5h0M208.2 145.3h0M208.9 140.2h0M205.2 148.9h0M201.6 152.5h0M207.4 154.0h0M211.1 151.1h0" stroke="#dcc0cd" stroke-opacity="0.7" stroke-width="1.3" stroke-linecap="round"/><path d="M205.7 142.6h0M205.2 145.5h0M207.8 145.4h0M213.7 144.2h0M212.0 145.8h0M205.2 152.7h0M206.4 142.2h0M208.7 146.9h0M198.7 148.7h0M201.4 144.5h0M209.0 149.6h0M205.4 155.8h0M208.6 144.7h0" stroke="#b48aa0" stroke-opacity="0.5" stroke-width="0.75" stroke-linecap="round"/><path d="M207.7 147.3h0M199.8 143.3h0M201.9 154.7h0M205.4 146.5h0M203.6 152.8h0M206.5 155.2h0M209.6 154.6h0M205.7 150.1h0M204.0 147.1h0M199.4 145.7h0M201.7 144.8h0M212.2 149.3h0M211.9 151.8h0M210.7 152.7h0M203.3 152.1h0" stroke="#7a3a58" stroke-opacity="0.75" stroke-width="0.7" stroke-linecap="round"/>
<circle cx="225.2" cy="148" r="9.2" fill="url(#well)" stroke="#cdbcc4" stroke-width="0.45"/>
<circle cx="244" cy="148" r="9.2" fill="url(#well)" stroke="#cdbcc4" stroke-width="0.45"/>
<circle cx="262.8" cy="148" r="9.2" fill="url(#well)" stroke="#cdbcc4" stroke-width="0.45"/>
<circle cx="281.6" cy="148" r="9.2" fill="url(#well)" stroke="#cdbcc4" stroke-width="0.45"/>
<path d="M279.9 145.1h0M285.5 155.1h0M277.9 154.6h0M285.6 143.9h0M283.1 150.0h0M283.7 146.0h0M275.5 148.1h0M285.8 151.8h0M284.7 153.2h0M276.6 147.8h0M283.3 153.0h0M282.5 150.8h0M282.1 155.7h0M273.8 147.9h0M289.6 148.8h0M274.2 148.5h0M275.4 145.1h0M282.5 155.1h0M284.0 151.5h0M286.7 149.0h0M277.1 147.5h0M283.5 146.5h0M278.1 146.1h0M275.5 143.9h0M281.1 146.0h0M281.8 154.4h0M283.3 147.8h0M276.5 143.3h0M283.5 143.5h0M283.7 142.8h0M282.4 147.6h0M286.6 146.0h0M279.5 149.4h0" stroke="#dcc0cd" stroke-opacity="0.7" stroke-width="1.3" stroke-linecap="round"/><path d="M281.8 155.1h0M280.2 145.1h0M279.9 150.6h0M282.8 151.7h0M277.6 155.2h0M289.0 147.9h0M275.8 148.7h0M283.0 140.2h0M281.7 141.4h0M283.7 154.2h0M285.8 141.9h0M287.5 151.9h0M279.6 150.7h0M288.3 146.5h0M281.5 145.0h0M285.4 140.9h0M287.5 144.0h0M285.3 141.5h0M277.0 145.1h0M284.9 141.5h0M284.7 144.7h0M287.5 146.5h0" stroke="#b48aa0" stroke-opacity="0.5" stroke-width="0.75" stroke-linecap="round"/><path d="M284.3 147.1h0M288.8 146.5h0M281.5 155.6h0M282.0 151.7h0M277.7 149.1h0M273.7 148.4h0M278.8 141.6h0M275.9 152.6h0M283.5 141.4h0M288.6 145.3h0M279.6 149.4h0M277.2 141.8h0M278.2 153.4h0M285.4 141.7h0M287.4 148.2h0M284.3 148.3h0M283.7 143.0h0M277.2 144.6h0M279.6 151.3h0M277.0 154.1h0M278.3 144.9h0M285.3 150.3h0M279.9 142.7h0M277.6 141.7h0M286.6 152.7h0M288.9 149.9h0" stroke="#7a3a58" stroke-opacity="0.75" stroke-width="0.7" stroke-linecap="round"/>
<circle cx="300.4" cy="148" r="9.2" fill="url(#well)" stroke="#cdbcc4" stroke-width="0.45"/>
<circle cx="319.2" cy="148" r="9.2" fill="url(#well)" stroke="#cdbcc4" stroke-width="0.45"/>
<circle cx="338" cy="148" r="9.2" fill="url(#wellp)" stroke="#cdbcc4" stroke-width="0.45"/>
<path d="M339.7 152.0h0M342.8 146.7h0M339.3 155.7h0M332.0 143.0h0M333.4 151.6h0M343.7 146.4h0M341.6 147.7h0M339.6 145.1h0M337.8 148.0h0M341.6 155.2h0M330.8 150.1h0M338.0 152.9h0M343.0 151.7h0M341.9 143.5h0M332.3 153.6h0M343.3 143.8h0M343.8 151.0h0M330.4 150.8h0M333.6 153.2h0M334.6 144.2h0M331.2 147.1h0M342.9 144.8h0M332.6 154.2h0M345.1 150.7h0M335.5 142.3h0M331.2 150.3h0M343.5 143.5h0M338.0 146.4h0M336.6 150.7h0M345.5 145.7h0M341.9 153.0h0M336.4 147.2h0M332.4 152.5h0M335.2 144.6h0M338.4 143.5h0M332.8 146.5h0M344.6 147.1h0M340.3 141.6h0M332.0 153.6h0M336.3 141.3h0M337.4 151.3h0M331.3 144.6h0M339.3 143.3h0M341.8 152.6h0M340.4 145.7h0M337.7 144.6h0M337.3 149.8h0M336.5 152.9h0M346.0 146.3h0M339.8 152.3h0M341.5 146.7h0M335.6 153.0h0M341.3 150.7h0M333.9 151.2h0M342.2 147.0h0M340.3 155.6h0M330.8 150.3h0M333.2 142.4h0M336.7 151.0h0M338.3 142.3h0M331.7 145.5h0M338.1 143.6h0M332.8 154.0h0M333.6 147.2h0M335.1 144.9h0M338.2 146.3h0M340.9 142.5h0M333.1 154.4h0M337.6 152.1h0M343.6 150.6h0M338.2 141.2h0M331.6 151.9h0M341.5 151.0h0M333.0 141.6h0M333.4 142.9h0M338.8 142.8h0M344.7 145.4h0M335.2 152.4h0M339.7 143.4h0M341.0 155.1h0M332.1 146.8h0M334.2 141.1h0M341.2 151.6h0M342.9 150.1h0M330.3 147.9h0M334.9 142.5h0M332.8 151.6h0M336.9 155.5h0M339.8 140.6h0M342.0 153.5h0M338.2 142.1h0M344.3 143.3h0M337.7 140.5h0M333.4 141.7h0M342.7 153.1h0M336.1 141.8h0M337.7 150.1h0M332.0 143.4h0M337.4 151.8h0M338.4 150.5h0M334.3 140.7h0M339.6 143.3h0M337.3 145.9h0M340.5 144.0h0M344.6 148.1h0M340.8 151.3h0M343.2 150.0h0M331.0 145.5h0M345.3 149.9h0M341.0 150.5h0M334.7 144.5h0M334.9 153.5h0" stroke="#d9a6c4" stroke-opacity="0.5" stroke-width="1.1" stroke-linecap="round"/><path d="M339.5 155.2h0M339.9 155.4h0M340.2 142.3h0M345.2 149.4h0M343.8 149.0h0M336.1 149.0h0M333.2 142.8h0M333.5 145.3h0M331.6 147.5h0M339.1 155.6h0M345.4 147.8h0M342.6 146.9h0M340.2 147.8h0M335.0 148.4h0M331.4 150.0h0M336.6 142.6h0M336.0 151.0h0M334.4 150.5h0M340.4 154.7h0M332.5 147.4h0M340.2 154.6h0M339.4 152.0h0M331.5 145.4h0M345.1 146.8h0M345.5 145.5h0M336.8 141.1h0M341.5 149.4h0M345.7 148.6h0M336.8 141.5h0M337.6 152.9h0M341.4 153.7h0M342.6 147.8h0M341.3 149.0h0M333.2 154.2h0M339.9 142.7h0M340.2 149.6h0M342.2 154.0h0M329.9 149.5h0M344.3 144.1h0M330.6 149.1h0M339.9 150.0h0M332.5 145.7h0M339.1 152.0h0M345.8 149.1h0M336.0 140.2h0M343.4 147.3h0M337.4 142.9h0M340.9 141.0h0M338.6 148.7h0M339.4 154.2h0M337.4 148.5h0M341.6 141.6h0M336.3 148.4h0M342.7 144.1h0M342.3 150.0h0M332.5 142.5h0M331.4 148.6h0M339.1 151.9h0M342.3 145.1h0M343.1 151.9h0M340.6 150.6h0M331.9 149.7h0M333.4 142.7h0M336.0 148.8h0M337.7 146.1h0M332.8 149.0h0M334.7 141.8h0M338.4 154.7h0M336.0 142.7h0M343.0 154.2h0M336.3 146.8h0M338.6 156.2h0M338.7 153.2h0M339.8 140.7h0M333.2 142.7h0M340.5 148.6h0M345.4 146.9h0M339.8 148.4h0M338.5 156.0h0M339.3 154.7h0" stroke="#b4709a" stroke-opacity="0.5" stroke-width="0.7" stroke-linecap="round"/><path d="M344.0 145.2h0M341.7 145.9h0M338.6 148.9h0M338.1 145.3h0M344.9 146.8h0M340.9 154.9h0M341.1 153.1h0M343.8 152.5h0M344.1 142.9h0M345.7 148.1h0M330.9 145.4h0M331.5 147.9h0M331.9 143.8h0M339.7 148.9h0M333.7 146.7h0M337.4 148.4h0M338.0 146.7h0M341.6 141.4h0M335.2 148.8h0M335.8 144.9h0M335.5 149.2h0M344.1 147.1h0M336.5 150.0h0M337.0 140.4h0M339.5 145.8h0M334.9 151.4h0M338.2 144.8h0M331.6 142.9h0M338.1 147.3h0M340.5 149.3h0M335.7 142.0h0M332.4 147.3h0M332.6 151.6h0M333.3 141.6h0M337.2 140.6h0M344.5 144.0h0M337.7 146.6h0M334.8 141.1h0M330.9 151.3h0M341.4 155.3h0M331.5 150.5h0M337.9 152.5h0M335.3 151.9h0M342.6 151.1h0M344.7 147.2h0M344.6 145.0h0M342.3 140.9h0M338.1 143.7h0" stroke="#83465f" stroke-opacity="0.55" stroke-width="0.6" stroke-linecap="round"/>
<path d="M120.8 100.4H118.4V158.4H120.8" stroke="#000" stroke-width="0.8" fill="none"/>
<text x="114.6" y="129" font-size="7" text-anchor="middle" fill="#5fa8e6" transform="rotate(-90 114.6 129)" textLength="21" lengthAdjust="spacingAndGlyphs">Donor 1</text>
<rect x="142.7" y="168.1" width="90.1" height="6.3" fill="#000"/>
<rect x="234.2" y="168.1" width="35" height="6.3" fill="#8c8c8c"/>
<text x="188" y="173.3" font-size="5.8" text-anchor="middle" fill="#fff">A2</text>
<text x="251.5" y="173.3" font-size="5.8" text-anchor="middle" fill="#222">A1</text>
<text x="153.3" y="182.7" font-size="6.36" textLength="13.5" lengthAdjust="spacingAndGlyphs">FLUA</text>
<text x="191" y="182.7" font-size="6.36" textLength="11" lengthAdjust="spacingAndGlyphs">EBV</text>
<text x="215.7" y="182.7" font-size="6.36" textLength="16.6" lengthAdjust="spacingAndGlyphs">HCMV</text>
<text x="244.3" y="182.7" font-size="6.36" textLength="14.5" lengthAdjust="spacingAndGlyphs">FLUA</text>
<path d="M143.1 188.4V186H176.9V188.4" stroke="#000" stroke-width="0.8" fill="none"/>
<path d="M179.6 188.4V186H214.6V188.4" stroke="#000" stroke-width="0.8" fill="none"/>
<path d="M215.8 188.4V186H232.4V188.4" stroke="#000" stroke-width="0.8" fill="none"/>
<path d="M234.6 188.4V186H269.3V188.4" stroke="#000" stroke-width="0.8" fill="none"/>
<text x="130.6" y="218.4" font-size="6.36" text-anchor="middle" textLength="9.8" lengthAdjust="spacingAndGlyphs">CEF</text>
<text x="130.6" y="226" font-size="6.36" text-anchor="middle" textLength="11.6" lengthAdjust="spacingAndGlyphs">pool</text>
<text x="149.6" y="227" font-size="6.3" transform="rotate(-90 149.6 227)">M1<tspan font-size="4" dy="1.3">58-66</tspan></text>
<text x="168.1" y="227" font-size="6.3" transform="rotate(-90 168.1 227)">PA<tspan font-size="4" dy="1.3">46-54</tspan></text>
<text x="186.6" y="227" font-size="6.3" transform="rotate(-90 186.6 227)">LMP2A<tspan font-size="4" dy="1.3">426-434</tspan></text>
<text x="205.1" y="227" font-size="6.3" transform="rotate(-90 205.1 227)">BMLF1<tspan font-size="4" dy="1.3">259-267</tspan></text>
<text x="223.6" y="227" font-size="6.3" transform="rotate(-90 223.6 227)">pp65<tspan font-size="4" dy="1.3">495-503</tspan></text>
<text x="242.1" y="227" font-size="6.3" transform="rotate(-90 242.1 227)">PB1<tspan font-size="4" dy="1.3">591-599</tspan></text>
<text x="260.6" y="227" font-size="6.3" transform="rotate(-90 260.6 227)">NP<tspan font-size="4" dy="1.3">44-52</tspan></text>
<text x="278.1" y="226.2" font-size="6.36" text-anchor="middle" textLength="16.8" lengthAdjust="spacingAndGlyphs">DMSO</text>
<text x="297.3" y="226.2" font-size="6.36" text-anchor="middle" textLength="12.2" lengthAdjust="spacingAndGlyphs">PMA</text>
<circle cx="130.2" cy="240.3" r="8.9" fill="url(#well2)" stroke="#cdbcc4" stroke-width="0.45"/>
<path d="M130.2 245.4h0M134.0 240.8h0M136.0 235.3h0M126.9 246.5h0M131.4 232.8h0M131.8 234.7h0M135.9 244.7h0M127.7 246.1h0M126.3 244.6h0M133.3 239.6h0M123.9 239.1h0M122.7 238.4h0M123.8 244.5h0M127.3 233.0h0M133.3 242.3h0M128.4 247.7h0M134.3 240.6h0M128.5 232.5h0M132.6 245.0h0M127.6 234.2h0M130.0 233.4h0M130.2 244.4h0M136.8 241.5h0M131.2 244.2h0M136.5 238.9h0M124.8 236.8h0M124.8 236.5h0M129.5 242.2h0M131.1 240.7h0M128.3 242.6h0M134.5 244.0h0M136.7 239.0h0M129.2 247.2h0M131.3 242.6h0M128.5 245.1h0M128.2 235.3h0M129.9 237.9h0M134.5 238.4h0M130.9 239.1h0M132.0 237.0h0M134.6 234.6h0M128.2 236.6h0M133.7 240.5h0M132.8 238.5h0M126.9 235.1h0M128.4 237.4h0M131.7 242.3h0M135.1 239.8h0M126.7 235.4h0M130.5 242.3h0M137.6 241.0h0M135.6 246.0h0M125.7 245.4h0M134.8 245.7h0M130.1 245.1h0M127.6 239.9h0M130.3 247.4h0M129.1 245.1h0M130.6 236.5h0M131.5 243.8h0" stroke="#e2bccb" stroke-opacity="0.7" stroke-width="1.4" stroke-linecap="round"/><path d="M126.6 243.5h0M126.7 236.0h0M131.4 239.0h0M126.4 234.0h0M130.3 241.7h0M127.7 241.3h0M123.7 242.0h0M132.5 241.8h0M126.9 240.7h0M130.8 245.6h0M131.7 241.7h0M126.7 244.5h0M135.7 238.0h0M133.6 241.9h0M130.0 234.3h0M135.6 234.6h0M131.9 238.2h0M135.6 238.3h0M130.4 243.6h0M132.6 237.5h0M133.8 242.4h0M135.0 237.8h0M129.9 238.1h0M125.9 241.6h0M132.0 246.6h0M128.4 242.4h0M135.7 239.7h0M130.6 241.1h0M126.9 235.6h0M135.6 241.1h0M129.8 234.4h0M130.8 245.9h0M125.1 236.3h0M134.6 246.0h0M136.7 238.0h0M133.2 236.5h0M133.0 238.3h0M131.1 246.4h0M132.1 239.0h0M130.5 241.8h0M127.4 241.4h0M132.7 246.8h0" stroke="#c48ca4" stroke-opacity="0.55" stroke-width="0.8" stroke-linecap="round"/><path d="M123.5 236.4h0M124.8 244.1h0M138.0 240.9h0M130.8 245.8h0M122.4 239.7h0M122.2 240.7h0M127.5 237.7h0M132.0 237.2h0M135.6 240.3h0M131.4 248.1h0M128.0 244.9h0M126.6 245.8h0M135.0 241.0h0M134.0 246.5h0M136.4 240.3h0M129.9 245.7h0M124.0 237.7h0M132.7 243.3h0M135.9 245.7h0M132.0 242.7h0M124.2 239.5h0M131.6 239.1h0M130.5 243.6h0M125.6 237.5h0M123.9 244.4h0M126.3 234.0h0M134.2 239.2h0M135.0 238.5h0M137.5 242.7h0M131.0 240.9h0M129.1 244.5h0M137.5 238.8h0M125.1 243.1h0M134.4 234.5h0M126.9 235.6h0M133.1 242.9h0" stroke="#94506e" stroke-opacity="0.65" stroke-width="0.65" stroke-linecap="round"/>
<circle cx="148.7" cy="240.3" r="8.9" fill="url(#well2)" stroke="#cdbcc4" stroke-width="0.45"/>
<path d="M145.4 235.2h0M151.1 233.1h0M152.1 239.5h0M155.4 243.8h0M145.6 238.8h0M147.3 236.5h0M149.1 245.1h0M142.2 239.3h0M154.9 243.4h0M144.8 236.4h0M145.3 234.0h0M154.2 240.6h0M145.8 234.2h0M146.7 237.6h0M155.6 238.5h0M149.3 245.5h0M152.2 239.3h0" stroke="#e2bccb" stroke-opacity="0.7" stroke-width="1.4" stroke-linecap="round"/><path d="M142.1 244.5h0M151.8 238.0h0M148.3 235.5h0M145.1 234.3h0M151.3 243.0h0M149.6 244.3h0M151.6 241.0h0M144.4 243.2h0M154.1 243.2h0M154.4 238.1h0M144.6 245.6h0M145.6 241.6h0" stroke="#c48ca4" stroke-opacity="0.55" stroke-width="0.8" stroke-linecap="round"/><path d="M147.6 240.4h0M147.3 237.4h0M143.3 246.0h0M149.5 233.0h0M144.7 235.3h0M146.5 232.7h0M151.0 246.9h0M147.4 244.1h0M151.4 234.7h0M153.1 234.2h0" stroke="#94506e" stroke-opacity="0.65" stroke-width="0.65" stroke-linecap="round"/>
<circle cx="167.2" cy="240.3" r="8.9" fill="url(#well2)" stroke="#cdbcc4" stroke-width="0.45"/>
<circle cx="185.7" cy="240.3" r="8.9" fill="url(#well2)" stroke="#cdbcc4" stroke-width="0.45"/>
<path d="M182.7 238.4h0M191.5 240.9h0M185.1 236.2h0M186.2 240.5h0M188.8 246.2h0M189.5 240.4h0M185.1 247.0h0M186.8 240.2h0M191.5 245.4h0M188.7 239.7h0M182.7 245.3h0M183.5 245.0h0M181.7 240.8h0M187.9 241.1h0M187.0 242.4h0M181.0 235.6h0M185.1 247.4h0M185.1 235.7h0M182.2 240.5h0M191.1 237.7h0M188.7 241.3h0M183.9 235.7h0M184.9 236.6h0M187.8 233.4h0M190.8 243.7h0M188.1 246.6h0M188.1 233.6h0M186.0 242.7h0M182.6 235.2h0M188.0 243.0h0M183.4 239.0h0M183.1 237.4h0M185.4 245.5h0M179.0 238.9h0M192.4 241.6h0M186.5 244.5h0M181.5 235.2h0M180.0 235.3h0M187.0 244.6h0M183.6 236.8h0M187.8 243.5h0M186.7 233.1h0M184.1 232.6h0M186.9 236.0h0M183.0 246.5h0M191.6 242.4h0M187.2 241.2h0M182.6 240.0h0M192.5 237.2h0M182.2 241.1h0M189.9 244.2h0M180.9 239.7h0M184.5 234.6h0M186.1 237.7h0M190.2 242.4h0" stroke="#e2bccb" stroke-opacity="0.7" stroke-width="1.4" stroke-linecap="round"/><path d="M181.7 240.7h0M183.9 237.0h0M183.4 245.3h0M184.1 233.5h0M182.0 244.2h0M192.6 236.9h0M183.8 238.5h0M179.6 242.1h0M185.4 241.8h0M193.3 239.4h0M189.5 244.3h0M182.5 237.3h0M192.0 243.2h0M186.4 235.1h0M190.0 242.9h0M192.2 244.7h0M189.8 241.7h0M186.0 237.4h0M187.4 241.6h0M188.7 245.3h0M187.3 237.4h0M188.9 246.5h0M181.5 242.4h0M188.5 243.1h0M188.4 239.8h0M185.3 247.2h0M191.6 235.5h0M178.0 241.6h0M182.3 237.7h0M179.1 241.8h0M185.4 237.4h0M188.4 247.6h0M191.3 244.8h0M183.6 243.7h0M185.5 245.8h0M188.8 240.1h0M188.5 236.7h0M188.9 246.4h0" stroke="#c48ca4" stroke-opacity="0.55" stroke-width="0.8" stroke-linecap="round"/><path d="M183.8 243.2h0M179.4 243.9h0M189.7 235.7h0M192.7 240.8h0M179.8 235.6h0M190.1 238.9h0M189.9 234.4h0M185.2 245.1h0M182.3 243.7h0M183.8 242.1h0M186.8 247.9h0M180.3 243.7h0M191.0 235.8h0M186.0 248.0h0M188.4 232.8h0M184.7 233.4h0M187.3 236.6h0M182.9 236.2h0M187.3 237.8h0M181.2 239.2h0M187.7 236.1h0M189.8 234.2h0M187.9 238.2h0M192.1 237.7h0M182.8 234.5h0M192.8 242.5h0M180.5 238.7h0M181.9 246.3h0M187.2 233.0h0M186.7 244.8h0M185.7 242.8h0M185.1 241.4h0M186.8 236.6h0" stroke="#94506e" stroke-opacity="0.65" stroke-width="0.65" stroke-linecap="round"/>
<circle cx="204.2" cy="240.3" r="8.9" fill="url(#well2)" stroke="#cdbcc4" stroke-width="0.45"/>
<path d="M206.1 241.2h0M204.0 236.7h0M199.3 241.5h0M206.7 232.9h0M201.9 246.2h0M208.5 236.9h0M209.7 236.3h0M201.4 247.2h0M201.9 239.1h0M198.0 236.5h0M198.7 239.7h0M197.7 244.1h0M202.4 237.2h0M201.1 244.0h0M210.6 238.6h0M209.6 245.7h0M210.2 241.6h0M198.0 243.1h0M202.0 241.3h0M197.0 239.2h0M205.4 235.7h0M205.4 247.1h0M205.4 236.8h0M210.1 235.0h0M199.7 242.3h0M202.3 232.8h0M205.5 244.5h0M200.9 246.3h0M206.5 245.8h0M197.7 240.3h0M209.1 246.4h0M210.2 240.3h0M205.2 237.0h0M209.2 237.1h0M204.6 232.9h0M199.2 246.2h0M204.5 241.5h0M196.6 240.2h0M210.5 235.7h0M196.5 239.8h0M201.4 239.2h0M199.3 235.0h0M198.7 243.2h0M204.0 244.5h0M199.2 243.1h0" stroke="#e2bccb" stroke-opacity="0.7" stroke-width="1.4" stroke-linecap="round"/><path d="M201.8 240.8h0M208.9 240.5h0M202.8 233.5h0M204.5 244.3h0M200.9 239.9h0M198.1 235.7h0M206.0 246.1h0M202.9 233.5h0M202.6 233.7h0M203.2 247.6h0M205.8 239.5h0M209.2 238.5h0M206.0 241.4h0M206.1 234.0h0M207.6 244.5h0M199.1 234.2h0M200.6 246.3h0M204.3 243.9h0M206.9 244.6h0M201.0 237.3h0M206.2 243.5h0M207.2 242.1h0M201.9 245.5h0M206.4 245.4h0M196.9 243.2h0M196.5 241.0h0M200.7 240.9h0M201.7 238.6h0M205.3 242.2h0M201.8 232.8h0M200.3 243.0h0" stroke="#c48ca4" stroke-opacity="0.55" stroke-width="0.8" stroke-linecap="round"/><path d="M200.0 242.5h0M202.4 235.6h0M208.5 246.4h0M203.6 240.0h0M208.2 234.8h0M200.3 245.3h0M208.6 237.9h0M200.2 242.1h0M198.1 238.1h0M203.5 232.5h0M207.2 244.1h0M208.4 234.6h0M198.6 236.8h0M200.0 246.9h0M199.4 238.8h0M205.3 242.8h0M209.9 236.0h0M208.7 241.1h0M198.6 241.0h0M199.3 246.0h0M200.8 245.0h0M210.0 237.6h0M199.6 241.0h0M199.5 244.4h0M205.1 236.3h0M200.8 243.9h0M199.2 246.1h0" stroke="#94506e" stroke-opacity="0.65" stroke-width="0.65" stroke-linecap="round"/>
<circle cx="222.7" cy="240.3" r="8.9" fill="url(#well2)" stroke="#cdbcc4" stroke-width="0.45"/>
<circle cx="241.2" cy="240.3" r="8.9" fill="url(#well2)" stroke="#cdbcc4" stroke-width="0.45"/>
<path d="M237.1 239.3h0M237.6 246.6h0M244.8 245.9h0M244.7 240.8h0M247.9 242.9h0M243.5 243.3h0M245.0 241.8h0M240.5 233.5h0M247.8 236.1h0M233.9 237.9h0M247.7 244.4h0M238.0 241.7h0" stroke="#e2bccb" stroke-opacity="0.7" stroke-width="1.4" stroke-linecap="round"/><path d="M241.1 232.9h0M239.4 241.9h0M246.0 235.3h0M234.7 235.8h0M243.0 240.7h0M242.0 241.1h0M239.6 234.2h0M243.7 242.4h0" stroke="#c48ca4" stroke-opacity="0.55" stroke-width="0.8" stroke-linecap="round"/><path d="M243.8 246.0h0M237.5 233.3h0M236.1 246.4h0M236.6 242.3h0M241.1 244.2h0M249.1 239.0h0M240.3 237.1h0" stroke="#94506e" stroke-opacity="0.65" stroke-width="0.65" stroke-linecap="round"/>
<circle cx="259.7" cy="240.3" r="8.9" fill="url(#well2)" stroke="#cdbcc4" stroke-width="0.45"/>
<path d="M261.0 243.1h0M255.6 245.8h0M265.1 242.4h0M259.1 239.0h0M253.1 242.9h0M254.9 237.8h0M264.3 236.1h0M257.1 244.6h0M266.7 237.7h0M264.9 237.2h0M261.8 242.9h0M254.8 244.7h0M266.9 240.5h0M261.0 234.7h0M266.8 240.6h0M254.1 243.7h0M253.5 237.4h0M253.1 244.6h0M267.1 238.2h0M256.3 237.3h0M256.7 243.2h0M265.6 236.3h0M261.4 233.3h0M266.3 239.9h0M256.8 246.6h0M259.2 246.5h0M263.7 246.5h0M255.5 240.6h0M261.7 239.2h0M266.0 237.3h0M263.8 245.9h0M252.9 236.9h0M255.2 237.6h0M261.9 239.3h0M260.1 237.8h0M259.3 243.0h0M263.4 236.5h0M259.1 236.3h0M258.9 233.9h0M264.3 243.5h0" stroke="#e2bccb" stroke-opacity="0.7" stroke-width="1.4" stroke-linecap="round"/><path d="M259.0 236.7h0M257.3 236.8h0M254.4 245.9h0M267.2 237.5h0M254.3 243.0h0M262.2 233.8h0M252.5 242.3h0M253.4 244.8h0M257.0 240.8h0M259.7 237.3h0M258.9 238.6h0M265.6 239.9h0M259.5 237.4h0M256.5 236.6h0M259.7 247.5h0M265.1 241.4h0M266.0 244.1h0M260.9 239.4h0M254.4 241.5h0M258.4 233.6h0M255.4 246.7h0M260.9 243.0h0M260.8 237.8h0M261.9 245.5h0M258.0 243.1h0M264.7 238.0h0M260.6 236.4h0M262.9 238.3h0" stroke="#c48ca4" stroke-opacity="0.55" stroke-width="0.8" stroke-linecap="round"/><path d="M264.9 236.8h0M266.6 239.0h0M255.7 236.0h0M263.0 236.1h0M265.9 244.7h0M262.0 234.1h0M259.6 236.4h0M252.6 242.0h0M267.2 238.5h0M263.2 245.9h0M254.9 238.6h0M261.2 242.9h0M254.2 241.3h0M259.2 245.1h0M253.1 238.0h0M257.0 238.6h0M263.4 237.1h0M267.4 238.3h0M263.6 245.0h0M264.6 239.3h0M255.4 239.0h0M263.3 240.9h0M262.7 243.3h0M255.6 235.9h0" stroke="#94506e" stroke-opacity="0.65" stroke-width="0.65" stroke-linecap="round"/>
<circle cx="278.2" cy="240.3" r="8.9" fill="url(#well2)" stroke="#cdbcc4" stroke-width="0.45"/>
<circle cx="296.7" cy="240.3" r="8.9" fill="url(#wellp2)" stroke="#cdbcc4" stroke-width="0.45"/>
<path d="M303.0 238.2h0M291.6 246.2h0M292.8 235.9h0M301.0 235.3h0M292.7 245.1h0M294.3 247.8h0M297.0 248.2h0M297.4 240.6h0M293.3 239.1h0M294.0 240.2h0M300.1 234.7h0M293.6 233.2h0M303.3 240.0h0M296.6 240.0h0M301.7 241.9h0M301.1 239.4h0M296.0 240.0h0M290.1 244.1h0M290.6 236.4h0M300.3 240.6h0M299.8 246.9h0" stroke="#f0d0e4" stroke-opacity="0.45" stroke-width="1.4" stroke-linecap="round"/><path d="M302.9 244.9h0M295.9 247.8h0M292.2 239.9h0M301.7 239.2h0M296.0 238.3h0M300.5 233.4h0M302.0 244.7h0M296.3 243.4h0M292.4 245.2h0M304.3 238.0h0M303.0 240.0h0M294.9 237.7h0M295.8 234.4h0M291.9 246.2h0M296.6 243.3h0" stroke="#c07aaa" stroke-opacity="0.35" stroke-width="1" stroke-linecap="round"/>
<circle cx="130.2" cy="259.4" r="8.9" fill="url(#well2)" stroke="#cdbcc4" stroke-width="0.45"/>
<path d="M131.9 262.0h0M124.1 255.6h0M133.2 264.2h0M124.9 256.7h0M125.2 262.5h0M132.1 259.6h0M126.8 261.2h0M130.4 255.5h0M132.0 255.9h0M134.8 262.4h0M126.7 262.4h0M130.6 255.6h0M126.7 253.0h0M124.8 261.1h0M135.7 256.5h0M131.1 261.3h0M134.2 261.7h0M135.7 262.8h0M126.3 261.5h0M122.5 258.8h0M130.3 262.5h0M128.6 263.7h0M135.9 255.8h0M127.3 260.8h0M132.9 260.2h0M133.9 254.1h0M133.7 264.7h0M135.5 261.4h0M128.9 261.6h0M129.9 252.6h0M126.9 259.2h0M127.7 254.8h0M128.9 257.3h0M130.6 259.1h0M131.1 264.4h0M131.0 261.6h0M127.1 252.0h0M128.1 263.0h0M128.4 256.1h0M124.8 263.3h0M127.3 260.7h0M135.5 261.9h0M137.9 258.9h0M134.8 262.7h0M126.7 259.7h0M127.5 254.5h0M131.8 255.4h0M136.8 256.5h0M127.2 259.9h0M127.4 259.7h0M127.6 253.3h0M123.2 255.7h0M136.7 261.3h0M131.0 256.8h0M129.4 261.1h0" stroke="#e2bccb" stroke-opacity="0.7" stroke-width="1.4" stroke-linecap="round"/><path d="M124.3 256.0h0M126.3 264.8h0M125.7 264.4h0M128.9 267.2h0M129.8 259.6h0M135.9 263.1h0M134.4 254.6h0M134.4 265.6h0M129.6 256.7h0M125.4 263.9h0M131.8 259.4h0M125.7 265.4h0M134.7 259.3h0M136.2 255.6h0M134.3 254.8h0M136.5 258.2h0M135.9 257.5h0M132.1 264.8h0M125.6 259.9h0M126.2 263.5h0M127.0 257.4h0M129.2 265.0h0M125.0 259.3h0M128.4 256.4h0M126.1 258.6h0M131.0 252.7h0M131.3 253.8h0M130.3 267.1h0M125.3 259.1h0M128.9 264.3h0M128.3 252.4h0M123.4 260.1h0M131.4 264.6h0M127.4 262.8h0M125.8 264.8h0M129.8 255.8h0M130.9 266.4h0M126.5 254.0h0" stroke="#c48ca4" stroke-opacity="0.55" stroke-width="0.8" stroke-linecap="round"/><path d="M125.8 254.4h0M129.9 261.4h0M129.3 260.5h0M135.8 258.0h0M126.4 252.5h0M131.5 255.8h0M128.8 261.7h0M132.1 252.8h0M125.4 259.8h0M129.5 264.9h0M128.4 252.0h0M134.5 253.3h0M125.4 261.3h0M127.1 266.7h0M131.5 262.3h0M128.7 266.9h0M133.0 255.7h0M134.7 253.3h0M127.1 260.9h0M130.9 254.6h0M135.8 264.6h0M125.5 261.3h0M126.9 257.1h0M135.2 260.0h0M129.6 260.0h0M125.4 264.4h0M126.9 265.1h0M127.7 257.0h0M136.7 260.2h0M126.9 256.6h0M132.5 266.4h0M133.5 257.3h0M125.0 256.3h0" stroke="#94506e" stroke-opacity="0.65" stroke-width="0.65" stroke-linecap="round"/>
<circle cx="148.7" cy="259.4" r="8.9" fill="url(#well2)" stroke="#cdbcc4" stroke-width="0.45"/>
<path d="M148.0 260.8h0M145.8 265.1h0M144.1 256.0h0M151.4 262.0h0M146.8 264.2h0M143.7 265.2h0M154.6 264.7h0M149.1 266.8h0M148.9 265.5h0M147.6 260.5h0M150.8 252.5h0M147.9 266.4h0M140.8 260.4h0M153.3 261.1h0M149.6 265.7h0M150.0 252.2h0M143.9 257.9h0M149.5 256.9h0M148.3 266.3h0M141.3 262.3h0" stroke="#e2bccb" stroke-opacity="0.7" stroke-width="1.4" stroke-linecap="round"/><path d="M153.3 262.3h0M148.8 259.8h0M150.7 260.7h0M145.1 263.3h0M144.4 259.2h0M147.0 253.9h0M152.0 259.0h0M143.1 259.0h0M143.6 264.8h0M150.6 266.7h0M145.8 263.0h0M144.2 255.4h0M148.2 261.7h0M153.4 258.1h0" stroke="#c48ca4" stroke-opacity="0.55" stroke-width="0.8" stroke-linecap="round"/><path d="M153.6 263.7h0M144.2 258.5h0M145.2 265.9h0M146.0 263.8h0M153.3 258.1h0M146.1 261.3h0M145.3 253.8h0M143.9 261.1h0M149.5 266.5h0M141.7 261.3h0M143.9 264.2h0M152.4 260.1h0" stroke="#94506e" stroke-opacity="0.65" stroke-width="0.65" stroke-linecap="round"/>
<circle cx="167.2" cy="259.4" r="8.9" fill="url(#well2)" stroke="#cdbcc4" stroke-width="0.45"/>
<path d="" stroke="#e2bccb" stroke-opacity="0.7" stroke-width="1.4" stroke-linecap="round"/><path d="" stroke="#c48ca4" stroke-opacity="0.55" stroke-width="0.8" stroke-linecap="round"/><path d="" stroke="#94506e" stroke-opacity="0.65" stroke-width="0.65" stroke-linecap="round"/>
<circle cx="185.7" cy="259.4" r="8.9" fill="url(#well2)" stroke="#cdbcc4" stroke-width="0.45"/>
<path d="M192.1 257.8h0M183.2 254.4h0M182.2 260.0h0M188.7 265.1h0M184.3 255.6h0M183.9 257.1h0M183.2 257.2h0M181.2 259.1h0M182.9 258.5h0M179.5 260.1h0M188.6 262.7h0M183.1 254.1h0M180.5 254.7h0M182.3 257.8h0M178.9 262.0h0M179.4 256.6h0M182.2 263.4h0M192.8 258.0h0M184.2 257.3h0M184.6 258.5h0M192.9 256.2h0M185.1 255.3h0M187.6 256.6h0M188.4 254.3h0M193.2 260.1h0M178.9 262.1h0M183.5 254.0h0M188.0 256.7h0M189.4 256.6h0M190.3 260.2h0M187.7 260.3h0M183.7 257.4h0M188.0 263.0h0M184.3 266.9h0M191.9 255.2h0M191.0 259.1h0M186.9 255.3h0M192.1 256.2h0M185.3 255.6h0M192.2 263.6h0M179.8 257.4h0M187.7 257.1h0M184.0 254.2h0M186.9 254.1h0M188.3 266.8h0M184.4 266.2h0M187.6 255.9h0M184.0 254.7h0M186.3 263.1h0M190.4 258.0h0" stroke="#e2bccb" stroke-opacity="0.7" stroke-width="1.4" stroke-linecap="round"/><path d="M180.0 259.0h0M192.5 260.6h0M185.5 251.9h0M183.4 262.3h0M181.8 265.0h0M182.9 255.1h0M182.6 258.9h0M190.5 256.7h0M178.6 259.1h0M187.9 265.8h0M181.3 265.1h0M189.2 261.7h0M182.0 255.2h0M181.3 263.7h0M186.8 264.6h0M192.8 259.5h0M185.5 266.7h0M179.8 257.4h0M183.7 257.4h0M186.4 255.1h0M190.3 254.0h0M182.5 252.9h0M179.6 261.9h0M189.0 258.4h0M189.8 262.4h0M182.6 259.2h0M187.0 266.7h0M183.3 261.4h0M188.2 264.9h0M187.7 264.5h0M180.5 258.2h0M178.4 259.2h0M193.4 260.2h0M186.2 260.9h0M186.4 253.4h0" stroke="#c48ca4" stroke-opacity="0.55" stroke-width="0.8" stroke-linecap="round"/><path d="M182.1 258.5h0M186.6 255.1h0M185.1 255.6h0M179.9 256.6h0M181.9 263.4h0M191.6 262.0h0M184.6 256.5h0M179.2 257.3h0M191.6 263.7h0M186.9 258.1h0M185.7 261.7h0M185.7 261.7h0M181.7 259.7h0M184.0 264.6h0M180.8 264.5h0M185.2 256.7h0M185.8 260.1h0M184.4 261.7h0M183.4 252.7h0M189.4 259.3h0M192.5 261.0h0M179.1 263.5h0M182.2 262.2h0M192.7 262.8h0M180.4 259.0h0M179.2 262.1h0M188.4 254.6h0M187.9 264.0h0M189.7 256.2h0M182.5 254.3h0" stroke="#94506e" stroke-opacity="0.65" stroke-width="0.65" stroke-linecap="round"/>
<circle cx="204.2" cy="259.4" r="8.9" fill="url(#well2)" stroke="#cdbcc4" stroke-width="0.45"/>
<path d="M198.3 260.9h0M204.4 265.4h0M205.7 257.7h0M199.1 264.9h0M205.1 259.3h0M199.8 254.8h0M207.2 254.8h0M207.2 262.6h0M202.6 252.8h0M206.0 265.6h0M200.6 254.0h0M209.5 260.1h0M201.4 264.9h0M202.7 261.8h0M202.1 255.6h0M205.3 255.1h0M197.3 257.4h0M209.3 263.9h0M211.2 262.6h0M210.9 260.5h0M201.9 261.9h0M199.7 262.9h0M201.8 260.8h0M199.9 258.8h0M209.0 258.4h0M200.7 260.9h0M208.7 258.5h0M199.8 253.6h0M198.8 263.7h0M203.7 262.0h0M209.4 260.8h0M206.7 256.8h0M197.7 262.0h0M203.7 262.5h0M199.0 258.8h0M211.2 256.5h0M204.6 265.4h0M202.9 260.1h0M197.0 262.0h0M202.2 265.2h0" stroke="#e2bccb" stroke-opacity="0.7" stroke-width="1.4" stroke-linecap="round"/><path d="M203.7 257.5h0M206.5 258.2h0M202.0 265.8h0M209.1 260.0h0M208.1 263.3h0M207.3 259.7h0M204.6 261.6h0M207.2 261.3h0M201.3 259.1h0M206.4 254.7h0M204.2 263.3h0M205.1 257.9h0M204.1 256.9h0M209.0 257.7h0M198.1 255.1h0M205.8 260.6h0M202.1 253.6h0M203.4 255.3h0M200.7 259.5h0M200.3 261.0h0M200.4 257.2h0M203.2 265.7h0M210.4 263.1h0M200.4 259.5h0M208.5 263.2h0M197.4 259.2h0M200.6 263.1h0M207.5 256.8h0" stroke="#c48ca4" stroke-opacity="0.55" stroke-width="0.8" stroke-linecap="round"/><path d="M211.7 258.5h0M212.0 258.9h0M203.9 266.6h0M201.4 257.1h0M210.6 259.3h0M206.4 253.8h0M210.7 263.0h0M206.0 263.0h0M201.6 257.0h0M197.6 261.0h0M209.6 263.1h0M208.6 262.8h0M200.3 254.0h0M207.6 260.3h0M209.0 258.2h0M199.8 261.6h0M201.9 252.9h0M201.2 255.3h0M199.0 257.0h0M207.2 266.6h0M211.1 257.9h0M209.7 259.1h0M206.3 256.1h0M203.9 252.6h0" stroke="#94506e" stroke-opacity="0.65" stroke-width="0.65" stroke-linecap="round"/>
<circle cx="222.7" cy="259.4" r="8.9" fill="url(#well2)" stroke="#cdbcc4" stroke-width="0.45"/>
<path d="" stroke="#e2bccb" stroke-opacity="0.7" stroke-width="1.4" stroke-linecap="round"/><path d="" stroke="#c48ca4" stroke-opacity="0.55" stroke-width="0.8" stroke-linecap="round"/><path d="" stroke="#94506e" stroke-opacity="0.65" stroke-width="0.65" stroke-linecap="round"/>
<circle cx="241.2" cy="259.4" r="8.9" fill="url(#well2)" stroke="#cdbcc4" stroke-width="0.45"/>
<path d="M248.0 256.7h0M244.2 256.6h0M242.5 254.0h0M239.3 263.9h0M243.4 252.4h0M244.9 254.0h0M242.7 262.2h0M237.8 257.9h0M239.9 261.6h0M245.0 265.0h0M242.4 266.7h0M237.7 265.9h0M239.9 263.3h0M240.5 259.9h0M236.7 261.3h0" stroke="#e2bccb" stroke-opacity="0.7" stroke-width="1.4" stroke-linecap="round"/><path d="M248.6 260.0h0M241.1 259.5h0M244.9 258.5h0M241.2 260.6h0M246.7 263.3h0M236.3 256.6h0M241.3 263.7h0M246.0 258.5h0M248.7 258.9h0M246.4 264.6h0" stroke="#c48ca4" stroke-opacity="0.55" stroke-width="0.8" stroke-linecap="round"/><path d="M247.9 260.3h0M243.6 253.2h0M234.3 257.2h0M244.5 264.2h0M240.7 264.4h0M243.6 265.7h0M234.9 256.3h0M236.9 254.9h0M247.6 256.0h0" stroke="#94506e" stroke-opacity="0.65" stroke-width="0.65" stroke-linecap="round"/>
<circle cx="259.7" cy="259.4" r="8.9" fill="url(#well2)" stroke="#cdbcc4" stroke-width="0.45"/>
<path d="M255.5 257.5h0M264.1 257.3h0M263.4 262.2h0M257.6 252.0h0M255.7 254.2h0M266.2 256.7h0M254.6 261.2h0M260.0 254.9h0M264.6 263.4h0M261.1 255.7h0M256.6 252.5h0M261.7 261.5h0M255.1 259.6h0M267.3 256.9h0M253.0 261.8h0M257.4 256.9h0M263.0 258.8h0M264.5 261.9h0M265.2 260.0h0M253.0 263.5h0M253.4 263.2h0M260.8 253.4h0M260.0 263.8h0M254.7 259.7h0M256.2 254.9h0M256.9 265.0h0M263.3 259.3h0M259.3 260.2h0M261.3 260.4h0M253.2 262.8h0M257.2 252.0h0M262.9 254.2h0M258.9 259.0h0M256.7 262.1h0M258.2 258.0h0M255.0 258.1h0M254.6 259.7h0M265.2 263.5h0M261.6 253.5h0M264.3 263.5h0M265.2 253.6h0M259.8 257.7h0" stroke="#e2bccb" stroke-opacity="0.7" stroke-width="1.4" stroke-linecap="round"/><path d="M264.4 254.9h0M258.4 267.0h0M263.2 252.7h0M259.8 265.5h0M256.5 262.4h0M260.1 253.1h0M256.8 264.5h0M265.1 256.8h0M264.9 256.3h0M261.1 259.3h0M253.9 260.9h0M258.6 251.6h0M255.7 255.5h0M255.8 255.0h0M257.5 251.9h0M264.2 259.8h0M261.1 258.0h0M260.1 258.0h0M255.4 253.7h0M260.1 264.3h0M260.7 266.0h0M253.6 258.3h0M256.9 264.9h0M266.5 257.4h0M263.5 258.2h0M254.8 258.9h0M255.6 265.3h0M262.4 264.7h0M260.9 251.8h0" stroke="#c48ca4" stroke-opacity="0.55" stroke-width="0.8" stroke-linecap="round"/><path d="M263.8 259.9h0M252.0 259.7h0M263.5 265.7h0M255.0 263.0h0M261.5 258.5h0M258.2 262.2h0M262.6 262.7h0M257.8 253.6h0M264.9 264.4h0M256.7 259.3h0M262.8 252.9h0M261.3 267.0h0M261.1 255.8h0M267.2 259.4h0M260.8 257.2h0M260.4 252.4h0M254.8 254.0h0M264.3 259.0h0M263.6 252.8h0M257.1 265.5h0M256.7 252.6h0M255.9 257.7h0M259.6 265.3h0M264.6 265.0h0M262.7 256.9h0" stroke="#94506e" stroke-opacity="0.65" stroke-width="0.65" stroke-linecap="round"/>
<circle cx="278.2" cy="259.4" r="8.9" fill="url(#well2)" stroke="#cdbcc4" stroke-width="0.45"/>
<circle cx="296.7" cy="259.4" r="8.9" fill="url(#wellp2)" stroke="#cdbcc4" stroke-width="0.45"/>
<path d="M294.6 253.2h0M301.8 264.3h0M297.2 255.0h0M300.2 261.9h0M297.4 254.0h0M298.0 256.5h0M300.4 262.3h0M299.0 257.2h0M302.9 262.5h0M302.2 262.9h0M300.1 261.4h0M292.8 253.0h0M292.2 262.3h0M301.3 260.3h0M297.1 266.5h0M295.1 252.5h0M290.1 258.1h0M300.2 263.0h0M295.6 263.5h0M296.4 255.7h0M294.8 263.2h0" stroke="#f0d0e4" stroke-opacity="0.45" stroke-width="1.4" stroke-linecap="round"/><path d="M300.9 254.6h0M291.8 260.0h0M303.5 255.7h0M291.0 261.3h0M299.3 256.3h0M296.6 262.0h0M289.7 259.3h0M299.6 263.8h0M302.2 259.1h0M291.3 264.3h0M300.5 256.3h0M301.3 263.9h0M296.2 251.7h0M294.3 255.7h0M292.4 259.0h0" stroke="#c07aaa" stroke-opacity="0.35" stroke-width="1" stroke-linecap="round"/>
<circle cx="130.2" cy="278.5" r="8.9" fill="url(#well2)" stroke="#cdbcc4" stroke-width="0.45"/>
<path d="M125.0 280.3h0M136.7 274.5h0M135.1 276.0h0M133.1 277.8h0M135.8 275.5h0M133.8 274.8h0M131.5 278.4h0M134.4 272.6h0M125.1 283.7h0M131.8 285.3h0M125.2 279.5h0M132.6 285.3h0M129.9 276.1h0M133.9 278.0h0M126.6 282.1h0M123.5 275.0h0M136.2 276.3h0M128.5 280.5h0M135.4 280.9h0M125.6 275.8h0M135.3 277.9h0M127.1 282.7h0M133.9 285.3h0M125.2 275.3h0M126.6 280.3h0M128.0 283.7h0M122.7 281.1h0M126.8 277.1h0M133.2 279.6h0M126.2 284.3h0M133.2 276.0h0M131.2 273.3h0M124.5 277.1h0M132.2 279.0h0M126.9 272.7h0M124.6 283.7h0M132.1 274.5h0M135.6 280.9h0M128.1 275.4h0M135.6 280.0h0M136.9 280.0h0M127.2 275.5h0M126.6 279.8h0M131.5 281.6h0M132.4 273.6h0M129.2 273.9h0M132.4 272.7h0M127.4 274.4h0M127.0 277.2h0M136.7 277.4h0M123.9 277.2h0M133.9 281.2h0M131.1 285.8h0M135.5 278.9h0M135.0 273.3h0" stroke="#e2bccb" stroke-opacity="0.7" stroke-width="1.4" stroke-linecap="round"/><path d="M129.3 274.2h0M130.9 285.2h0M128.2 285.0h0M126.1 284.1h0M123.7 275.3h0M135.1 278.1h0M131.0 278.4h0M131.2 277.5h0M125.4 277.1h0M130.8 274.0h0M132.0 285.3h0M123.6 276.3h0M128.7 278.6h0M130.7 274.8h0M130.0 278.5h0M129.8 285.0h0M130.8 272.1h0M123.8 280.9h0M128.4 275.3h0M124.2 277.1h0M129.7 275.0h0M128.5 282.8h0M134.1 281.2h0M129.4 272.5h0M133.4 284.6h0M135.3 283.1h0M131.7 280.5h0M130.1 284.2h0M129.3 286.0h0M134.1 276.9h0M130.2 271.8h0M126.5 277.0h0M137.6 276.1h0M134.8 278.9h0M128.7 281.7h0M123.3 281.7h0M137.4 279.6h0M129.9 279.4h0" stroke="#c48ca4" stroke-opacity="0.55" stroke-width="0.8" stroke-linecap="round"/><path d="M133.6 276.0h0M130.8 281.2h0M128.3 280.5h0M131.9 282.1h0M125.5 276.0h0M128.2 284.0h0M131.2 271.8h0M126.0 284.9h0M131.7 272.7h0M125.7 279.2h0M135.2 284.1h0M128.2 276.9h0M136.9 275.1h0M136.7 279.9h0M130.6 284.3h0M132.6 274.4h0M123.7 278.6h0M132.4 284.4h0M123.1 282.1h0M132.8 284.7h0M134.2 279.6h0M132.5 280.6h0M126.9 277.9h0M130.9 276.1h0M124.9 273.3h0M132.8 281.2h0M130.7 273.0h0M134.4 276.6h0M123.9 283.2h0M125.8 285.0h0M133.0 276.2h0M122.8 276.3h0M135.7 283.5h0" stroke="#94506e" stroke-opacity="0.65" stroke-width="0.65" stroke-linecap="round"/>
<circle cx="148.7" cy="278.5" r="8.9" fill="url(#well2)" stroke="#cdbcc4" stroke-width="0.45"/>
<path d="M149.7 271.7h0M146.7 277.0h0M151.2 277.8h0M150.1 271.8h0M146.0 284.5h0M142.8 282.2h0M156.1 280.6h0M143.3 283.3h0M141.6 279.8h0M146.8 284.1h0M154.2 279.4h0M155.2 282.0h0M146.4 273.8h0M156.4 277.2h0M150.9 277.9h0M146.8 272.0h0M147.9 277.9h0" stroke="#e2bccb" stroke-opacity="0.7" stroke-width="1.4" stroke-linecap="round"/><path d="M153.4 276.1h0M142.7 274.4h0M148.5 279.9h0M152.4 276.6h0M151.6 279.3h0M155.6 278.3h0M149.5 281.5h0M153.9 274.6h0M146.2 277.1h0M142.0 282.5h0M153.9 278.6h0M156.2 281.3h0" stroke="#c48ca4" stroke-opacity="0.55" stroke-width="0.8" stroke-linecap="round"/><path d="M154.9 283.3h0M152.4 272.8h0M155.1 280.3h0M143.1 278.7h0M152.2 283.0h0M149.6 275.8h0M152.4 274.9h0M148.3 282.4h0M142.5 280.1h0M141.9 275.3h0" stroke="#94506e" stroke-opacity="0.65" stroke-width="0.65" stroke-linecap="round"/>
<circle cx="167.2" cy="278.5" r="8.9" fill="url(#well2)" stroke="#cdbcc4" stroke-width="0.45"/>
<circle cx="185.7" cy="278.5" r="8.9" fill="url(#well2)" stroke="#cdbcc4" stroke-width="0.45"/>
<path d="M180.0 278.1h0M189.4 278.2h0M190.3 279.0h0M184.6 281.1h0M184.4 279.2h0M190.6 275.8h0M190.5 273.9h0M184.8 271.6h0M183.5 285.0h0M187.3 284.2h0M179.9 274.5h0M188.0 282.6h0M188.9 272.1h0M188.4 278.1h0M186.3 281.0h0M184.6 271.7h0M181.5 272.8h0M179.7 277.9h0M191.4 275.4h0M182.3 273.4h0M178.7 278.8h0M183.1 277.2h0M181.1 280.8h0M180.2 281.0h0M182.5 282.3h0M181.3 280.7h0M188.1 278.1h0M192.5 279.2h0M181.5 281.8h0M181.6 275.9h0M185.8 279.5h0M191.1 273.0h0M184.5 283.8h0M184.8 280.2h0M191.4 273.9h0M185.9 282.5h0M183.4 271.7h0M180.8 279.4h0M186.4 285.6h0M190.5 272.9h0M190.3 282.6h0M192.4 277.9h0M182.8 279.3h0M192.1 281.0h0M192.2 281.5h0M182.9 273.8h0M191.7 273.6h0M183.8 276.8h0M181.3 275.8h0M185.7 286.2h0" stroke="#e2bccb" stroke-opacity="0.7" stroke-width="1.4" stroke-linecap="round"/><path d="M185.4 275.7h0M186.3 283.1h0M181.6 276.5h0M179.0 281.2h0M188.5 284.7h0M181.9 285.3h0M190.1 277.1h0M183.6 276.9h0M180.4 281.9h0M182.7 274.9h0M188.5 279.1h0M182.6 277.3h0M183.5 284.4h0M190.4 275.1h0M185.5 284.6h0M184.6 285.5h0M188.0 281.9h0M178.6 281.4h0M187.5 281.5h0M188.2 281.2h0M183.2 282.9h0M186.0 273.4h0M180.7 279.3h0M186.9 271.0h0M178.8 282.0h0M185.7 286.4h0M179.2 277.5h0M182.6 281.3h0M190.7 284.2h0M181.5 283.7h0M180.1 279.9h0M186.6 281.7h0M182.3 284.2h0M185.3 278.4h0M184.4 273.4h0" stroke="#c48ca4" stroke-opacity="0.55" stroke-width="0.8" stroke-linecap="round"/><path d="M189.4 280.2h0M187.4 285.5h0M181.4 277.1h0M185.7 282.8h0M184.8 283.1h0M187.5 271.6h0M183.3 271.4h0M184.2 276.3h0M188.8 279.4h0M185.4 284.3h0M188.4 273.0h0M182.1 280.2h0M192.6 277.7h0M184.8 279.9h0M189.7 278.0h0M187.3 276.3h0M183.0 274.6h0M189.0 275.7h0M188.6 280.6h0M188.4 271.1h0M181.6 273.3h0M184.9 282.6h0M192.5 282.6h0M191.7 280.2h0M183.7 281.3h0M178.6 281.5h0M185.7 281.7h0M181.2 273.8h0M182.3 278.3h0M187.6 276.6h0" stroke="#94506e" stroke-opacity="0.65" stroke-width="0.65" stroke-linecap="round"/>
<circle cx="204.2" cy="278.5" r="8.9" fill="url(#well2)" stroke="#cdbcc4" stroke-width="0.45"/>
<path d="M206.0 282.0h0M198.7 278.0h0M197.8 276.2h0M208.5 275.1h0M211.2 280.4h0M208.7 279.0h0M208.1 283.4h0M204.8 275.7h0M202.2 285.6h0M203.2 276.1h0M201.4 271.9h0M201.6 280.2h0M201.8 274.7h0M206.4 280.9h0M201.9 280.1h0M199.7 282.4h0M199.4 276.9h0M204.9 276.2h0M200.5 285.3h0M209.3 272.7h0M204.8 272.7h0M205.6 272.6h0M207.2 281.2h0M210.3 282.8h0M202.0 283.1h0M201.7 277.9h0M202.2 271.6h0M206.3 271.3h0M202.9 281.3h0M204.7 271.9h0M201.0 281.9h0M208.4 284.5h0M197.2 280.3h0M201.8 282.3h0M197.3 277.9h0M207.7 275.3h0M202.4 273.7h0M208.7 273.2h0M199.7 276.9h0M203.1 285.9h0M205.6 274.3h0M207.2 280.3h0" stroke="#e2bccb" stroke-opacity="0.7" stroke-width="1.4" stroke-linecap="round"/><path d="M205.7 278.1h0M206.3 273.1h0M198.7 276.5h0M199.2 281.7h0M210.7 282.6h0M206.6 280.3h0M201.2 272.8h0M206.5 272.3h0M205.8 277.7h0M208.1 278.8h0M204.8 275.4h0M197.3 277.1h0M207.4 283.3h0M209.8 274.5h0M199.8 281.8h0M202.8 286.2h0M205.5 272.0h0M201.9 285.0h0M197.1 279.1h0M199.3 284.2h0M202.1 273.6h0M197.6 275.7h0M196.5 277.1h0M211.8 278.8h0M202.9 273.0h0M206.0 276.0h0M200.7 284.3h0M206.4 274.1h0M210.6 278.3h0" stroke="#c48ca4" stroke-opacity="0.55" stroke-width="0.8" stroke-linecap="round"/><path d="M206.9 279.3h0M209.6 281.3h0M202.4 282.2h0M202.1 279.2h0M210.4 274.5h0M199.2 276.6h0M202.0 284.3h0M199.7 285.0h0M210.8 276.6h0M205.2 276.6h0M207.6 281.8h0M207.9 282.2h0M211.5 277.9h0M207.8 277.5h0M204.4 279.7h0M203.9 280.4h0M199.9 277.7h0M201.4 273.2h0M200.6 276.0h0M203.6 271.9h0M203.0 273.1h0M200.0 279.5h0M209.5 279.9h0M201.6 276.2h0M209.0 272.7h0" stroke="#94506e" stroke-opacity="0.65" stroke-width="0.65" stroke-linecap="round"/>
<circle cx="222.7" cy="278.5" r="8.9" fill="url(#well2)" stroke="#cdbcc4" stroke-width="0.45"/>
<circle cx="241.2" cy="278.5" r="8.9" fill="url(#well2)" stroke="#cdbcc4" stroke-width="0.45"/>
<path d="M245.6 272.8h0M237.9 278.7h0M240.3 285.3h0M243.9 278.2h0M246.0 278.7h0M237.6 283.5h0M246.8 283.3h0M237.2 285.0h0M239.1 282.4h0M244.7 285.5h0M235.0 274.6h0M246.6 280.8h0" stroke="#e2bccb" stroke-opacity="0.7" stroke-width="1.4" stroke-linecap="round"/><path d="M240.4 270.6h0M243.6 277.5h0M235.6 284.2h0M233.6 276.8h0M241.2 279.8h0M245.1 277.1h0M236.7 276.7h0M234.4 274.9h0" stroke="#c48ca4" stroke-opacity="0.55" stroke-width="0.8" stroke-linecap="round"/><path d="M248.3 276.0h0M240.9 285.7h0M246.3 279.1h0M245.0 277.1h0M237.1 283.0h0M241.8 285.2h0M239.8 276.5h0" stroke="#94506e" stroke-opacity="0.65" stroke-width="0.65" stroke-linecap="round"/>
<circle cx="259.7" cy="278.5" r="8.9" fill="url(#well2)" stroke="#cdbcc4" stroke-width="0.45"/>
<path d="M261.6 277.5h0M258.1 274.0h0M261.1 280.3h0M266.9 278.4h0M252.8 280.3h0M267.3 277.0h0M255.6 277.6h0M251.8 277.6h0M258.9 272.0h0M262.5 274.2h0M252.8 275.8h0M262.0 285.5h0M265.5 279.4h0M257.0 277.1h0M264.4 276.0h0M261.7 283.2h0M255.3 275.7h0M262.1 278.5h0M259.0 275.7h0M259.5 285.7h0M264.5 272.8h0M260.0 279.0h0M259.9 272.3h0M259.0 279.3h0M256.2 280.1h0M253.0 274.3h0M260.3 280.6h0M258.8 276.0h0M260.6 283.7h0M264.2 278.1h0M257.5 283.5h0M262.4 282.8h0M258.3 274.2h0M260.7 275.2h0M264.8 282.3h0M252.4 280.7h0M265.2 282.7h0M257.3 274.2h0M264.0 283.0h0M260.0 273.0h0M253.2 279.6h0M255.7 275.2h0M261.8 283.5h0M252.5 276.2h0M265.7 278.3h0" stroke="#e2bccb" stroke-opacity="0.7" stroke-width="1.4" stroke-linecap="round"/><path d="M257.9 281.8h0M255.0 273.5h0M259.8 285.1h0M264.7 278.5h0M264.6 276.5h0M255.4 272.4h0M261.1 283.0h0M261.7 278.3h0M257.8 283.7h0M259.5 272.2h0M265.6 275.7h0M261.8 278.5h0M264.8 279.7h0M265.4 279.5h0M257.3 275.8h0M262.9 274.5h0M264.3 277.3h0M255.4 274.5h0M259.1 285.5h0M263.7 278.6h0M256.5 285.3h0M258.2 278.5h0M257.8 284.5h0M260.7 276.0h0M260.6 273.6h0M254.6 277.7h0M252.3 281.5h0M266.4 274.8h0M259.1 271.8h0M260.6 279.7h0M262.9 272.8h0" stroke="#c48ca4" stroke-opacity="0.55" stroke-width="0.8" stroke-linecap="round"/><path d="M256.7 275.2h0M258.9 286.1h0M258.6 278.3h0M257.2 282.5h0M266.9 281.8h0M265.6 274.4h0M264.9 278.6h0M264.9 282.9h0M262.3 271.9h0M260.4 275.8h0M262.1 278.7h0M263.7 272.4h0M255.8 278.1h0M261.4 276.3h0M259.5 278.8h0M264.8 277.9h0M260.6 271.4h0M252.8 274.6h0M260.9 270.9h0M261.9 278.0h0M259.7 274.7h0M257.6 282.7h0M261.7 278.4h0M257.1 279.6h0M265.3 278.4h0M258.0 273.0h0M260.2 273.9h0" stroke="#94506e" stroke-opacity="0.65" stroke-width="0.65" stroke-linecap="round"/>
<circle cx="278.2" cy="278.5" r="8.9" fill="url(#well2)" stroke="#cdbcc4" stroke-width="0.45"/>
<circle cx="296.7" cy="278.5" r="8.9" fill="url(#wellp2)" stroke="#cdbcc4" stroke-width="0.45"/>
<path d="M290.8 282.1h0M294.5 271.3h0M294.0 285.4h0M296.2 272.5h0M291.7 281.8h0M298.9 279.7h0M295.6 281.1h0M303.2 280.5h0M296.0 272.3h0M298.6 285.0h0M299.6 272.9h0M297.5 284.5h0M293.4 281.0h0M301.1 284.5h0M291.5 272.8h0M298.6 282.1h0M294.8 278.4h0M294.8 284.1h0M289.1 279.4h0M291.1 275.5h0M290.6 274.9h0" stroke="#f0d0e4" stroke-opacity="0.45" stroke-width="1.4" stroke-linecap="round"/><path d="M296.6 278.6h0M303.8 277.6h0M298.6 280.4h0M297.8 284.9h0M297.5 279.3h0M296.1 278.5h0M296.4 283.4h0M296.8 278.9h0M296.5 282.4h0M294.4 283.1h0M293.8 282.0h0M304.0 279.4h0M296.3 272.9h0M300.6 278.6h0M301.1 275.3h0" stroke="#c07aaa" stroke-opacity="0.35" stroke-width="1" stroke-linecap="round"/>
<path d="M121.1 232.7H118.7V287.5H121.1" stroke="#000" stroke-width="0.8" fill="none"/>
<text x="114.6" y="251" font-size="7" text-anchor="middle" fill="#5fa8e6" transform="rotate(-90 114.6 251)" textLength="21" lengthAdjust="spacingAndGlyphs">Donor 2</text>
<line x1="384.3" y1="51" x2="384.3" y2="112.1" stroke="#000" stroke-width="1"/>
<line x1="383.8" y1="111.6" x2="512.7" y2="111.6" stroke="#000" stroke-width="1"/>
<line x1="382.1" y1="111.6" x2="384.3" y2="111.6" stroke="#000" stroke-width="0.8"/>
<text x="378.7" y="113.8" font-size="6.2" text-anchor="end">0</text>
<line x1="382.1" y1="100.06" x2="384.3" y2="100.06" stroke="#000" stroke-width="0.8"/>
<text x="378.7" y="102.26" font-size="6.2" text-anchor="end">10</text>
<line x1="382.1" y1="88.52" x2="384.3" y2="88.52" stroke="#000" stroke-width="0.8"/>
<text x="378.7" y="90.72" font-size="6.2" text-anchor="end">20</text>
<line x1="382.1" y1="76.98" x2="384.3" y2="76.98" stroke="#000" stroke-width="0.8"/>
<text x="378.7" y="79.18" font-size="6.2" text-anchor="end">30</text>
<line x1="382.1" y1="65.44" x2="384.3" y2="65.44" stroke="#000" stroke-width="0.8"/>
<text x="378.7" y="67.64" font-size="6.2" text-anchor="end">40</text>
<line x1="382.1" y1="53.9" x2="384.3" y2="53.9" stroke="#000" stroke-width="0.8"/>
<text x="378.7" y="56.1" font-size="6.2" text-anchor="end">50</text>
<line x1="393.95" y1="111.6" x2="393.95" y2="113.6" stroke="#000" stroke-width="0.7"/>
<line x1="393.95" y1="82.29" x2="393.95" y2="85.75" stroke="#000" stroke-width="0.8"/>
<line x1="392.35" y1="82.29" x2="395.55" y2="82.29" stroke="#000" stroke-width="0.8"/>
<rect x="390.5" y="85.75" width="6.9" height="25.85" fill="#2b4b8a"/>
<line x1="404.2" y1="111.6" x2="404.2" y2="113.6" stroke="#000" stroke-width="0.7"/>
<line x1="404.2" y1="89.67" x2="404.2" y2="91.64" stroke="#000" stroke-width="0.8"/>
<line x1="402.6" y1="89.67" x2="405.8" y2="89.67" stroke="#000" stroke-width="0.8"/>
<rect x="400.75" y="91.64" width="6.9" height="19.96" fill="#2b4b8a"/>
<line x1="414.45" y1="111.6" x2="414.45" y2="113.6" stroke="#000" stroke-width="0.7"/>
<rect x="411" y="111.25" width="6.9" height="0.35" fill="#2b4b8a"/>
<line x1="424.7" y1="111.6" x2="424.7" y2="113.6" stroke="#000" stroke-width="0.7"/>
<line x1="424.7" y1="101.91" x2="424.7" y2="104.21" stroke="#000" stroke-width="0.8"/>
<line x1="423.1" y1="101.91" x2="426.3" y2="101.91" stroke="#000" stroke-width="0.8"/>
<rect x="421.25" y="104.21" width="6.9" height="7.39" fill="#2b4b8a"/>
<line x1="434.95" y1="111.6" x2="434.95" y2="113.6" stroke="#000" stroke-width="0.7"/>
<line x1="434.95" y1="100.64" x2="434.95" y2="103.06" stroke="#000" stroke-width="0.8"/>
<line x1="433.35" y1="100.64" x2="436.55" y2="100.64" stroke="#000" stroke-width="0.8"/>
<rect x="431.5" y="103.06" width="6.9" height="8.54" fill="#2b4b8a"/>
<line x1="445.2" y1="111.6" x2="445.2" y2="113.6" stroke="#000" stroke-width="0.7"/>
<line x1="455.45" y1="111.6" x2="455.45" y2="113.6" stroke="#000" stroke-width="0.7"/>
<line x1="465.7" y1="111.6" x2="465.7" y2="113.6" stroke="#000" stroke-width="0.7"/>
<rect x="462.25" y="111.25" width="6.9" height="0.35" fill="#2b4b8a"/>
<line x1="475.95" y1="111.6" x2="475.95" y2="113.6" stroke="#000" stroke-width="0.7"/>
<line x1="475.95" y1="96.25" x2="475.95" y2="96.83" stroke="#000" stroke-width="0.8"/>
<line x1="474.35" y1="96.25" x2="477.55" y2="96.25" stroke="#000" stroke-width="0.8"/>
<rect x="472.5" y="96.83" width="6.9" height="14.77" fill="#2b4b8a"/>
<line x1="486.2" y1="111.6" x2="486.2" y2="113.6" stroke="#000" stroke-width="0.7"/>
<line x1="496.45" y1="111.6" x2="496.45" y2="113.6" stroke="#000" stroke-width="0.7"/>
<rect x="493" y="111.25" width="6.9" height="0.35" fill="#2b4b8a"/>
<line x1="506.7" y1="111.6" x2="506.7" y2="113.6" stroke="#000" stroke-width="0.7"/>
<line x1="506.7" y1="57.36" x2="506.7" y2="69.25" stroke="#000" stroke-width="0.8"/>
<line x1="505.1" y1="57.36" x2="508.3" y2="57.36" stroke="#000" stroke-width="0.8"/>
<rect x="503.25" y="69.25" width="6.9" height="42.35" fill="#2b4b8a"/>
<path d="M393.95 58.4V56.2H496.45V58.4" stroke="#000" stroke-width="0.7" fill="none"/>
<text x="394.6" y="55" font-size="5">P &lt;0.0001</text>
<path d="M404.2 65.1V62.9H496.45V65.1" stroke="#000" stroke-width="0.7" fill="none"/>
<text x="404.8" y="61.7" font-size="5">&lt;0.0001</text>
<path d="M424.7 71.9V69.7H496.45V71.9" stroke="#000" stroke-width="0.7" fill="none"/>
<text x="424.6" y="68.5" font-size="5">0.0005</text>
<path d="M434.95 78.7V76.5H496.45V78.7" stroke="#000" stroke-width="0.7" fill="none"/>
<text x="435.4" y="75.3" font-size="5">0.0001</text>
<path d="M475.95 83V80.8H496.45V85.7" stroke="#000" stroke-width="0.7" fill="none"/>
<text x="473.3" y="83.4" font-size="5" text-anchor="end">&lt;0.0001</text>
<text x="395.85" y="116" font-size="6.0" text-anchor="end" transform="rotate(-90 395.85 116)">CEF pool</text>
<text x="406.1" y="116" font-size="6.0" text-anchor="end" transform="rotate(-90 406.1 116)">M1<tspan font-size="4.0" dy="1.3">58-66</tspan></text>
<text x="416.35" y="116" font-size="6.0" text-anchor="end" transform="rotate(-90 416.35 116)">PA<tspan font-size="4.0" dy="1.3">46-54</tspan></text>
<text x="426.6" y="116" font-size="6.0" text-anchor="end" transform="rotate(-90 426.6 116)">LMP2A<tspan font-size="4.0" dy="1.3">426-434</tspan></text>
<text x="436.85" y="116" font-size="6.0" text-anchor="end" transform="rotate(-90 436.85 116)">BMLF1<tspan font-size="4.0" dy="1.3">259-267</tspan></text>
<text x="447.1" y="116" font-size="6.0" text-anchor="end" transform="rotate(-90 447.1 116)">pp65<tspan font-size="4.0" dy="1.3">495-503</tspan></text>
<text x="457.35" y="116" font-size="6.0" text-anchor="end" transform="rotate(-90 457.35 116)">BRLF1<tspan font-size="4.0" dy="1.3">28-37</tspan></text>
<text x="467.6" y="116" font-size="6.0" text-anchor="end" transform="rotate(-90 467.6 116)">NP<tspan font-size="4.0" dy="1.3">418-426</tspan></text>
<text x="477.85" y="116" font-size="6.0" text-anchor="end" transform="rotate(-90 477.85 116)">EBNA3A<tspan font-size="4.0" dy="1.3">379-387</tspan></text>
<text x="488.1" y="116" font-size="6.0" text-anchor="end" transform="rotate(-90 488.1 116)">pp65<tspan font-size="4.0" dy="1.3">417-426</tspan></text>
<text x="498.35" y="116" font-size="6.0" text-anchor="end" transform="rotate(-90 498.35 116)">DMSO</text>
<text x="508.6" y="116" font-size="6.0" text-anchor="end" transform="rotate(-90 508.6 116)">PMA</text>
<text x="366.2" y="82.6" font-size="8.9" text-anchor="middle" transform="rotate(-90 366.2 82.6)" textLength="76.2" lengthAdjust="spacingAndGlyphs">SFC per million (x10<tspan font-size="5.2" dy="-3.2">3</tspan><tspan dy="3.2">)</tspan></text>
<line x1="384.7" y1="185.4" x2="384.7" y2="245.6" stroke="#000" stroke-width="1"/>
<line x1="384.2" y1="245.1" x2="502.3" y2="245.1" stroke="#000" stroke-width="1"/>
<line x1="382.5" y1="245.1" x2="384.7" y2="245.1" stroke="#000" stroke-width="0.8"/>
<text x="379.1" y="247.3" font-size="6.2" text-anchor="end">0</text>
<line x1="382.5" y1="226" x2="384.7" y2="226" stroke="#000" stroke-width="0.8"/>
<text x="379.1" y="228.2" font-size="6.2" text-anchor="end">20</text>
<line x1="382.5" y1="206.9" x2="384.7" y2="206.9" stroke="#000" stroke-width="0.8"/>
<text x="379.1" y="209.1" font-size="6.2" text-anchor="end">40</text>
<line x1="382.5" y1="187.8" x2="384.7" y2="187.8" stroke="#000" stroke-width="0.8"/>
<text x="379.1" y="190" font-size="6.2" text-anchor="end">60</text>
<line x1="394.2" y1="245.1" x2="394.2" y2="247.1" stroke="#000" stroke-width="0.7"/>
<line x1="394.2" y1="202.12" x2="394.2" y2="206.52" stroke="#000" stroke-width="0.8"/>
<line x1="392.6" y1="202.12" x2="395.8" y2="202.12" stroke="#000" stroke-width="0.8"/>
<rect x="390.3" y="206.52" width="7.8" height="38.58" fill="#2b4b8a"/>
<line x1="405.35" y1="245.1" x2="405.35" y2="247.1" stroke="#000" stroke-width="0.7"/>
<line x1="405.35" y1="235.55" x2="405.35" y2="236.79" stroke="#000" stroke-width="0.8"/>
<line x1="403.75" y1="235.55" x2="406.95" y2="235.55" stroke="#000" stroke-width="0.8"/>
<rect x="401.45" y="236.79" width="7.8" height="8.31" fill="#2b4b8a"/>
<line x1="416.5" y1="245.1" x2="416.5" y2="247.1" stroke="#000" stroke-width="0.7"/>
<line x1="427.65" y1="245.1" x2="427.65" y2="247.1" stroke="#000" stroke-width="0.7"/>
<line x1="427.65" y1="196.97" x2="427.65" y2="201.93" stroke="#000" stroke-width="0.8"/>
<line x1="426.05" y1="196.97" x2="429.25" y2="196.97" stroke="#000" stroke-width="0.8"/>
<rect x="423.75" y="201.93" width="7.8" height="43.17" fill="#2b4b8a"/>
<line x1="438.8" y1="245.1" x2="438.8" y2="247.1" stroke="#000" stroke-width="0.7"/>
<line x1="438.8" y1="223.52" x2="438.8" y2="225.24" stroke="#000" stroke-width="0.8"/>
<line x1="437.2" y1="223.52" x2="440.4" y2="223.52" stroke="#000" stroke-width="0.8"/>
<rect x="434.9" y="225.24" width="7.8" height="19.86" fill="#2b4b8a"/>
<line x1="449.95" y1="245.1" x2="449.95" y2="247.1" stroke="#000" stroke-width="0.7"/>
<rect x="446.05" y="244.81" width="7.8" height="0.29" fill="#2b4b8a"/>
<line x1="461.1" y1="245.1" x2="461.1" y2="247.1" stroke="#000" stroke-width="0.7"/>
<line x1="461.1" y1="240.04" x2="461.1" y2="241.28" stroke="#000" stroke-width="0.8"/>
<line x1="459.5" y1="240.04" x2="462.7" y2="240.04" stroke="#000" stroke-width="0.8"/>
<rect x="457.2" y="241.28" width="7.8" height="3.82" fill="#2b4b8a"/>
<line x1="472.25" y1="245.1" x2="472.25" y2="247.1" stroke="#000" stroke-width="0.7"/>
<line x1="472.25" y1="221.51" x2="472.25" y2="224.09" stroke="#000" stroke-width="0.8"/>
<line x1="470.65" y1="221.51" x2="473.85" y2="221.51" stroke="#000" stroke-width="0.8"/>
<rect x="468.35" y="224.09" width="7.8" height="21.01" fill="#2b4b8a"/>
<line x1="483.4" y1="245.1" x2="483.4" y2="247.1" stroke="#000" stroke-width="0.7"/>
<rect x="479.5" y="244.81" width="7.8" height="0.29" fill="#2b4b8a"/>
<line x1="494.55" y1="245.1" x2="494.55" y2="247.1" stroke="#000" stroke-width="0.7"/>
<line x1="494.55" y1="205.85" x2="494.55" y2="208.91" stroke="#000" stroke-width="0.8"/>
<line x1="492.95" y1="205.85" x2="496.15" y2="205.85" stroke="#000" stroke-width="0.8"/>
<rect x="490.65" y="208.91" width="7.8" height="36.19" fill="#2b4b8a"/>
<path d="M394.2 171.8V169.6H483.4V171.8" stroke="#000" stroke-width="0.7" fill="none"/>
<text x="487.6" y="171.4" font-size="5">P &lt;0.0001</text>
<path d="M405.35 177.4V175.2H483.4V177.4" stroke="#000" stroke-width="0.7" fill="none"/>
<text x="487.6" y="177" font-size="5">&lt;0.0001</text>
<path d="M427.65 183V180.8H483.4V183" stroke="#000" stroke-width="0.7" fill="none"/>
<text x="487.6" y="182.6" font-size="5">&lt;0.0001</text>
<path d="M438.8 188.5V186.3H483.4V188.5" stroke="#000" stroke-width="0.7" fill="none"/>
<text x="487.6" y="188.1" font-size="5">&lt;0.0001</text>
<path d="M461.1 193.9V191.7H483.4V193.9" stroke="#000" stroke-width="0.7" fill="none"/>
<text x="490.6" y="193.5" font-size="5">0.0003</text>
<path d="M472.25 199.1V196.9H483.4V202.9" stroke="#000" stroke-width="0.7" fill="none"/>
<text x="487.6" y="198.7" font-size="5">&lt;0.0001</text>
<text x="396.1" y="249.6" font-size="6.0" text-anchor="end" transform="rotate(-90 396.1 249.6)">CEF pool</text>
<text x="407.25" y="249.6" font-size="6.0" text-anchor="end" transform="rotate(-90 407.25 249.6)">M1<tspan font-size="4.0" dy="1.3">58-66</tspan></text>
<text x="418.4" y="249.6" font-size="6.0" text-anchor="end" transform="rotate(-90 418.4 249.6)">PA<tspan font-size="4.0" dy="1.3">46-54</tspan></text>
<text x="429.55" y="249.6" font-size="6.0" text-anchor="end" transform="rotate(-90 429.55 249.6)">LMP2A<tspan font-size="4.0" dy="1.3">426-434</tspan></text>
<text x="440.7" y="249.6" font-size="6.0" text-anchor="end" transform="rotate(-90 440.7 249.6)">BMLF1<tspan font-size="4.0" dy="1.3">259-267</tspan></text>
<text x="451.85" y="249.6" font-size="6.0" text-anchor="end" transform="rotate(-90 451.85 249.6)">pp65<tspan font-size="4.0" dy="1.3">495-503</tspan></text>
<text x="463" y="249.6" font-size="6.0" text-anchor="end" transform="rotate(-90 463 249.6)">PB1<tspan font-size="4.0" dy="1.3">591-599</tspan></text>
<text x="474.15" y="249.6" font-size="6.0" text-anchor="end" transform="rotate(-90 474.15 249.6)">NP<tspan font-size="4.0" dy="1.3">44-52</tspan></text>
<text x="485.3" y="249.6" font-size="6.0" text-anchor="end" transform="rotate(-90 485.3 249.6)">DMSO</text>
<text x="496.45" y="249.6" font-size="6.0" text-anchor="end" transform="rotate(-90 496.45 249.6)">PMA</text>
<text x="366.2" y="216.3" font-size="8.9" text-anchor="middle" transform="rotate(-90 366.2 216.3)" textLength="77" lengthAdjust="spacingAndGlyphs">SFC per million (x10<tspan font-size="5.2" dy="-3.2">3</tspan><tspan dy="3.2">)</tspan></text>
<text x="56.5" y="135.4" font-size="6.78" text-anchor="middle" textLength="50.5" lengthAdjust="spacingAndGlyphs">CEF-reactive T cells</text>
<rect x="40.4" y="140.1" width="32.3" height="10.8" fill="none" stroke="#000" stroke-width="0.9"/>
<path d="M41 150.6 L46 150.4 C48 150 49 148.6 51 147.8 C53 147.2 55 147 56.5 145 C57.5 143.5 58.5 141.4 59.3 141.3 C60.3 141.4 61 142.8 62.5 143.4 C64 144 64.8 146.5 66 148.5 C67 150 68 150.6 72 150.6" stroke="#c0305a" stroke-width="0.8" fill="none"/>
<line x1="40.4" y1="150.9" x2="72.7" y2="150.9" stroke="#444" stroke-width="1.4"/>
<rect x="40.4" y="151" width="32.3" height="33.4" fill="none" stroke="#000" stroke-width="0.9"/>
<rect x="74.6" y="151" width="8.7" height="33.4" fill="none" stroke="#000" stroke-width="0.9"/>
<path d="M75.4 152 C76 155 78 157 80.5 159 C82.5 160.5 82.3 162.5 80 163.8 C78.3 164.8 78.3 166.2 80 167 C82.5 168.2 82.6 170 80.5 171.5 C78 173.2 76 175 75.6 178 L75.4 183.8" stroke="#3a5a9a" stroke-width="0.8" fill="none"/>
<path d="M58.9 163.0h0M58.8 160.1h0M56.8 160.0h0M59.1 161.4h0M57.0 158.7h0M57.1 158.8h0M58.0 160.7h0M60.6 161.2h0M60.0 158.6h0M60.1 161.9h0M58.8 161.6h0M59.0 163.2h0M59.3 158.3h0M56.2 162.1h0M58.2 162.2h0M57.9 159.4h0M57.9 160.7h0M58.5 159.6h0M58.9 161.4h0M57.2 158.6h0M56.0 159.4h0M58.3 159.5h0M57.6 160.1h0M58.3 161.2h0M59.3 161.2h0M59.6 159.4h0M59.0 161.1h0M57.1 159.2h0M58.8 160.6h0M56.8 159.3h0M60.1 162.0h0M58.4 162.2h0M57.2 159.9h0M59.4 160.2h0M57.0 160.9h0M60.2 157.4h0M58.5 158.7h0M57.9 158.4h0M61.4 160.2h0M58.4 159.5h0M57.1 159.5h0M58.5 162.8h0M58.6 162.6h0M57.0 160.2h0M57.8 158.2h0M62.7 161.1h0M58.6 159.4h0M57.6 158.8h0M59.5 160.1h0M58.1 160.6h0M56.8 160.4h0M58.1 161.0h0M57.8 160.3h0M58.9 161.9h0M57.5 161.5h0M57.1 159.9h0M58.5 160.6h0M55.3 158.4h0M58.1 161.6h0M57.5 162.3h0M56.2 160.0h0M58.9 160.6h0M58.6 161.7h0M57.3 161.0h0M59.6 160.4h0M55.6 158.1h0M57.3 158.7h0M58.8 159.4h0M61.2 161.9h0M56.8 159.7h0M60.1 161.7h0M57.1 161.5h0M57.7 163.3h0M57.6 161.1h0M59.0 160.0h0M58.1 161.9h0M58.9 160.5h0M58.8 162.9h0M59.4 161.3h0M58.7 158.4h0M58.5 159.8h0M59.2 159.8h0M58.8 159.1h0M59.4 159.7h0M58.3 161.2h0M57.9 160.3h0M59.6 163.1h0M56.2 158.7h0M59.1 161.9h0M57.7 160.4h0M58.1 163.4h0M58.1 158.7h0M56.5 158.2h0M59.8 160.2h0M60.6 161.8h0M58.8 161.4h0M59.2 161.9h0M57.1 159.4h0M57.7 160.4h0M58.0 158.7h0M57.5 162.6h0M60.8 159.8h0M58.8 160.5h0M57.3 161.1h0M58.2 162.6h0M58.8 160.1h0M55.2 159.5h0M59.3 159.7h0M59.3 161.6h0M56.2 159.6h0M58.7 161.5h0M58.5 160.4h0M57.9 159.9h0M58.3 159.0h0M59.1 160.1h0M58.9 159.9h0M58.8 160.7h0M59.4 161.3h0M59.4 160.4h0M58.2 160.0h0M60.8 168.0h0M65.2 170.0h0M61.6 168.8h0M64.6 166.9h0M63.9 169.2h0M64.6 169.2h0M59.9 165.2h0M66.9 168.6h0M65.6 170.8h0M63.4 167.0h0M65.8 169.0h0M64.2 169.4h0M65.0 170.4h0M60.5 166.1h0M63.5 168.7h0M64.7 168.6h0M62.9 171.5h0M65.8 170.7h0M65.1 167.8h0M63.0 168.5h0M61.1 167.0h0M63.5 166.9h0M64.2 169.4h0M62.8 168.0h0M64.3 169.5h0M63.9 166.9h0M60.2 171.1h0M62.0 167.9h0M59.8 166.9h0M61.8 169.5h0M58.2 165.8h0M62.4 167.8h0M61.7 167.7h0M60.2 168.5h0M65.4 169.2h0M62.2 170.3h0M64.1 167.3h0M62.1 167.5h0M63.1 170.3h0M61.9 168.2h0M63.4 166.9h0M62.3 169.3h0M65.3 166.2h0M64.5 168.4h0M65.6 169.9h0M66.9 169.6h0M62.5 167.3h0M60.5 169.0h0M64.2 169.9h0M63.9 166.5h0M62.4 168.1h0M63.5 169.8h0M65.9 169.4h0M59.3 166.5h0M59.2 166.9h0M60.9 168.6h0M62.8 170.1h0M65.2 168.3h0M65.0 168.9h0M64.1 170.7h0M61.0 168.2h0M66.1 168.0h0M63.6 168.9h0M62.4 166.6h0M61.9 167.0h0M65.2 169.3h0M64.5 167.1h0M64.1 169.0h0M65.2 167.9h0M64.7 170.8h0M66.6 167.8h0M61.1 166.2h0M65.0 169.7h0M63.8 167.5h0M65.6 171.3h0M63.1 168.4h0M65.4 169.7h0M65.7 168.4h0M63.8 168.2h0M62.1 168.0h0M62.7 169.2h0M62.6 168.6h0M61.7 166.6h0M65.9 167.6h0M66.6 170.5h0M58.9 167.0h0M62.4 168.5h0M62.9 167.7h0M65.6 168.8h0M65.0 167.9h0M61.9 170.3h0M62.7 166.9h0M62.9 170.1h0M62.9 167.5h0M64.4 170.2h0M62.8 168.1h0M62.5 172.4h0M62.8 171.1h0M62.9 169.1h0M59.4 168.3h0M63.3 168.2h0M62.4 166.5h0M60.4 168.4h0M62.0 168.3h0M62.9 167.8h0M61.8 171.1h0M61.1 167.5h0M62.6 166.9h0M61.4 169.6h0M65.0 169.1h0M69.3 170.8h0M65.5 167.8h0M65.2 171.3h0M62.5 171.1h0M61.7 166.7h0M63.1 167.4h0M64.4 167.2h0M63.4 165.8h0M63.1 170.1h0M62.7 169.0h0M65.3 167.3h0M60.8 168.3h0M63.7 168.3h0M61.4 170.1h0M61.0 167.9h0M63.1 169.6h0M62.4 167.3h0M67.0 168.0h0M64.7 168.6h0M62.3 168.4h0M56.6 166.8h0M48.7 163.0h0M57.8 162.6h0M56.2 173.8h0M63.9 170.4h0M58.3 165.2h0M62.3 166.0h0M54.7 167.5h0M54.2 162.1h0M62.5 162.0h0M57.3 166.4h0M58.4 161.1h0M56.7 164.6h0M64.2 171.7h0M54.9 168.2h0M59.8 166.3h0M56.7 164.8h0M52.2 162.0h0M60.7 172.2h0M63.9 166.8h0M59.6 158.2h0M56.6 161.2h0M60.4 161.1h0M53.9 160.9h0M58.9 169.4h0M54.3 171.4h0M58.1 163.2h0M58.7 166.3h0M60.4 168.2h0M65.1 172.6h0M55.3 168.1h0M60.1 163.3h0M54.9 162.3h0M49.0 165.5h0M56.8 170.1h0M55.6 165.6h0M60.0 170.2h0M58.6 162.7h0M65.1 171.6h0M62.2 173.3h0M62.4 169.1h0M59.2 168.8h0M52.3 167.2h0M54.2 166.4h0M54.0 167.4h0M55.8 174.3h0M58.2 168.0h0M54.4 164.0h0M57.3 164.9h0M56.0 162.4h0M60.2 165.5h0M54.7 166.4h0M54.7 164.5h0M55.8 162.2h0M56.7 162.8h0M53.2 165.8h0M56.5 160.5h0M56.2 166.2h0M59.0 167.8h0M58.4 168.4h0M55.8 162.6h0M59.6 165.3h0M57.6 168.3h0M60.8 171.4h0M55.2 163.9h0M59.4 161.6h0M53.2 166.7h0M55.4 162.1h0M60.3 168.8h0M60.7 165.9h0M56.5 164.5h0M58.6 159.2h0M55.1 167.7h0M54.8 164.9h0M58.0 168.0h0M55.9 161.5h0M66.1 166.3h0M63.4 161.7h0M57.9 165.4h0M64.1 175.3h0M54.2 169.9h0M49.3 172.7h0M50.1 173.5h0M49.4 173.3h0M55.6 172.2h0M46.4 173.9h0M50.5 174.6h0M50.6 175.3h0M52.5 173.7h0M49.2 173.3h0M54.3 171.8h0M46.4 174.8h0M52.0 173.0h0M49.8 175.5h0M51.9 174.0h0M52.6 172.0h0M50.6 171.5h0M53.9 172.2h0M54.1 170.7h0M48.8 173.4h0M50.7 172.9h0M54.2 170.0h0M50.2 174.0h0M54.0 173.9h0M53.0 170.7h0M48.7 173.0h0M51.7 172.7h0M51.3 171.8h0M51.0 172.7h0M53.2 171.8h0M49.3 172.2h0M55.6 170.3h0M51.0 172.7h0M54.6 170.5h0M52.0 172.0h0M53.1 170.4h0M52.1 173.5h0M54.8 171.6h0M52.3 174.0h0M53.5 173.2h0M48.2 172.8h0M53.7 171.0h0M50.3 171.9h0M55.6 169.0h0M51.8 170.6h0M51.1 175.5h0M58.2 168.5h0M48.8 175.9h0M49.2 171.5h0M52.5 170.7h0M47.6 175.9h0M49.5 172.2h0M52.0 172.0h0M54.6 171.0h0M55.9 171.6h0M56.4 171.4h0M51.7 173.0h0M51.6 170.6h0M48.3 175.0h0M45.1 174.8h0M52.5 162.3h0M54.0 164.2h0M58.9 161.4h0M60.5 157.4h0M58.4 165.6h0M66.2 168.8h0M68.8 158.2h0M64.1 172.9h0M62.4 158.7h0M62.4 161.8h0M56.3 168.9h0M59.0 158.0h0M56.1 173.5h0M55.1 166.6h0M61.1 170.3h0M58.5 158.8h0M56.3 158.0h0M58.2 170.2h0M63.9 163.8h0M63.7 166.1h0M66.7 173.9h0M58.3 163.5h0M59.0 170.2h0M62.3 168.5h0M65.4 161.7h0M60.9 171.4h0M65.5 169.3h0M58.5 161.9h0M55.1 161.7h0M59.7 156.5h0M66.9 161.3h0M61.6 167.4h0M56.9 154.0h0M65.8 167.2h0M58.6 169.7h0M65.3 160.0h0M59.6 154.8h0M58.6 171.1h0M55.2 167.4h0M51.3 160.9h0M65.6 174.0h0M62.8 168.5h0M70.2 153.2h0" stroke="#000" stroke-opacity="0.7" stroke-width="0.8" stroke-linecap="round"/>
<line x1="38.8" y1="182.4" x2="40.4" y2="182.4" stroke="#000" stroke-width="0.6"/>
<text x="37.8" y="184.2" font-size="5.2" text-anchor="end">0</text>
<line x1="38.8" y1="172.6" x2="40.4" y2="172.6" stroke="#000" stroke-width="0.6"/>
<text x="37.8" y="174.4" font-size="5.2" text-anchor="end">2</text>
<line x1="38.8" y1="162.8" x2="40.4" y2="162.8" stroke="#000" stroke-width="0.6"/>
<text x="37.8" y="164.6" font-size="5.2" text-anchor="end">4</text>
<line x1="38.8" y1="153" x2="40.4" y2="153" stroke="#000" stroke-width="0.6"/>
<text x="37.8" y="154.8" font-size="5.2" text-anchor="end">6</text>
<line x1="42.3" y1="184.4" x2="42.3" y2="186" stroke="#000" stroke-width="0.6"/>
<text x="42.3" y="195.2" font-size="5.6" text-anchor="middle">0</text>
<line x1="52" y1="184.4" x2="52" y2="186" stroke="#000" stroke-width="0.6"/>
<text x="52" y="195.2" font-size="5.6" text-anchor="middle">2</text>
<line x1="61.6" y1="184.4" x2="61.6" y2="186" stroke="#000" stroke-width="0.6"/>
<text x="61.6" y="195.2" font-size="5.6" text-anchor="middle">4</text>
<line x1="71.2" y1="184.4" x2="71.2" y2="186" stroke="#000" stroke-width="0.6"/>
<text x="71.2" y="195.2" font-size="5.6" text-anchor="middle">6</text>
<line x1="38.8" y1="143" x2="40.4" y2="143" stroke="#000" stroke-width="0.6"/>
<text x="37.8" y="144.8" font-size="5.2" text-anchor="end">0.4</text>
<line x1="75.6" y1="184.4" x2="75.6" y2="186" stroke="#000" stroke-width="0.6"/>
<text x="75.6" y="195.2" font-size="5.6" text-anchor="middle">0</text>
<line x1="82.2" y1="184.4" x2="82.2" y2="186" stroke="#000" stroke-width="0.6"/>
<text x="82.2" y="195.2" font-size="5.6" text-anchor="middle">0.4</text>
<text x="4.2" y="147" font-size="7.42" textLength="19.8" lengthAdjust="spacingAndGlyphs">Density</text>
<text x="13.6" y="167.6" font-size="7.42" text-anchor="middle" transform="rotate(-90 13.6 167.6)" textLength="32.7" lengthAdjust="spacingAndGlyphs">TCR&#946; read</text>
<text x="21.9" y="171.5" font-size="7.42" text-anchor="middle" transform="rotate(-90 21.9 171.5)" textLength="35.4" lengthAdjust="spacingAndGlyphs">count (log)</text>
<text x="90.6" y="167.7" font-size="7" text-anchor="middle" fill="#5fa8e6" transform="rotate(-90 90.6 167.7)" textLength="21" lengthAdjust="spacingAndGlyphs">Donor 1</text>
<text x="42.3" y="205.4" font-size="7.42" textLength="31.5" lengthAdjust="spacingAndGlyphs">TCR&#945; read</text>
<text x="73.8" y="205.4" font-size="7.42" textLength="23.6" lengthAdjust="spacingAndGlyphs">Density</text>
<text x="42.3" y="213.5" font-size="7.42" textLength="33.9" lengthAdjust="spacingAndGlyphs">count (log)</text>
<rect x="40.4" y="226.9" width="32.3" height="9.6" fill="none" stroke="#000" stroke-width="0.9"/>
<path d="M41 236.2 C42.5 235 44.5 234.8 47 235 C49 235.2 50 235 51.5 233.5 C53 231.5 54.5 228.2 56.5 228 C58 228 59 230.5 60.5 232.5 C62 234.5 63 236 65 236.2 L72 236.2" stroke="#c0305a" stroke-width="0.8" fill="none"/>
<line x1="40.4" y1="236.5" x2="72.7" y2="236.5" stroke="#444" stroke-width="1.4"/>
<rect x="40.4" y="238" width="32.3" height="33.2" fill="none" stroke="#000" stroke-width="0.9"/>
<rect x="74.6" y="238" width="8.7" height="33.2" fill="none" stroke="#000" stroke-width="0.9"/>
<path d="M75.5 239 C76 243 76.3 245 78.5 246.5 C81 248 82.5 249.5 82 251 C81.5 252.5 78.5 252.5 77.8 255 C77.2 258 76.8 262 76.2 265 C75.8 267.5 75.6 269 75.4 270.8" stroke="#3a5a9a" stroke-width="0.8" fill="none"/>
<path d="M55.5 247.5h0M67.8 246.3h0M60.7 245.6h0M60.6 244.4h0M60.5 245.0h0M62.5 246.2h0M63.4 246.1h0M57.7 246.9h0M52.7 245.0h0M61.5 244.5h0M66.0 244.0h0M57.1 244.4h0M61.8 246.3h0M60.9 246.1h0M58.5 244.3h0M60.9 243.4h0M61.1 244.7h0M62.5 243.9h0M59.0 244.4h0M59.5 243.8h0M59.8 243.4h0M62.1 246.2h0M60.5 245.0h0M58.0 243.8h0M59.9 244.0h0M57.1 245.3h0M60.5 244.7h0M58.2 245.0h0M58.5 244.5h0M61.1 246.2h0M62.8 244.5h0M64.1 243.8h0M60.0 246.9h0M67.5 245.7h0M59.5 244.7h0M57.0 244.8h0M59.3 244.1h0M64.0 244.3h0M65.5 246.6h0M62.4 244.5h0M59.1 242.5h0M61.3 244.9h0M61.7 244.4h0M62.0 243.3h0M54.2 245.5h0M63.7 241.1h0M64.3 244.9h0M60.1 243.1h0M57.6 246.0h0M58.4 245.1h0M60.1 247.9h0M63.1 243.5h0M59.2 243.6h0M56.5 244.1h0M63.7 245.4h0M62.5 245.1h0M59.3 245.3h0M60.3 247.8h0M65.8 246.0h0M62.3 242.6h0M60.2 248.4h0M58.2 246.2h0M64.1 244.8h0M59.9 244.6h0M62.9 245.3h0M64.9 247.0h0M60.5 248.7h0M59.6 244.3h0M59.9 244.0h0M59.3 245.1h0M63.1 243.2h0M56.5 244.0h0M59.7 245.8h0M58.3 247.1h0M59.0 244.8h0M60.7 246.8h0M61.4 245.3h0M59.0 245.4h0M61.7 244.8h0M60.5 242.7h0M59.0 246.7h0M64.7 245.3h0M54.3 247.4h0M60.0 248.6h0M59.3 246.5h0M58.8 247.0h0M63.9 243.9h0M64.3 249.2h0M59.9 243.5h0M61.3 244.7h0M56.2 243.6h0M61.2 243.2h0M63.7 246.0h0M60.0 247.1h0M57.9 246.0h0M56.6 244.6h0M62.4 244.6h0M60.2 246.1h0M64.9 247.2h0M61.9 244.9h0M56.4 247.3h0M66.0 242.5h0M63.0 245.3h0M62.6 245.7h0M60.0 245.2h0M60.4 246.8h0M59.8 244.4h0M62.4 246.2h0M61.8 245.6h0M64.8 246.9h0M61.1 244.9h0M62.4 242.8h0M59.0 244.2h0M61.0 244.7h0M67.6 246.5h0M61.7 248.3h0M60.5 244.8h0M64.1 246.5h0M63.2 247.0h0M59.5 244.3h0M58.5 245.2h0M63.4 243.9h0M59.0 243.3h0M66.3 246.6h0M61.2 243.6h0M57.6 244.2h0M60.6 243.5h0M59.9 246.8h0M60.6 245.3h0M54.5 244.6h0M60.1 244.2h0M56.5 244.9h0M57.6 244.3h0M55.9 244.9h0M63.2 244.2h0M61.5 243.2h0M62.2 246.0h0M59.4 246.3h0M58.0 245.1h0M65.4 245.4h0M57.3 246.6h0M62.1 244.9h0M55.3 242.4h0M56.1 247.0h0M61.4 244.1h0M63.8 247.3h0M58.1 245.7h0M55.8 245.5h0M65.8 243.5h0M60.7 244.3h0M60.3 245.3h0M61.3 246.4h0M62.0 246.7h0M63.5 246.8h0M58.6 245.7h0M59.5 244.0h0M66.2 245.9h0M60.7 242.3h0M59.9 246.2h0M59.9 244.4h0M64.8 245.0h0M59.6 245.0h0M59.8 246.6h0M62.2 245.2h0M59.5 244.8h0M65.4 245.0h0M62.4 243.1h0M61.5 246.2h0M64.2 245.8h0M62.2 245.7h0M64.8 256.1h0M62.9 250.1h0M63.8 251.4h0M63.9 253.5h0M62.8 251.2h0M63.2 248.9h0M63.1 249.8h0M63.5 252.1h0M62.1 249.8h0M62.6 250.7h0M62.2 254.5h0M64.5 247.9h0M64.5 254.6h0M64.9 251.6h0M62.3 257.0h0M61.8 249.1h0M62.7 253.1h0M60.3 250.9h0M66.7 249.9h0M64.2 249.9h0M59.3 254.2h0M65.3 248.9h0M58.8 254.6h0M61.9 252.9h0M60.3 253.2h0M61.4 255.5h0M62.8 254.5h0M62.4 247.1h0M58.4 256.6h0M64.4 253.4h0M62.4 248.1h0M61.5 254.2h0M65.4 249.6h0M61.3 251.3h0M64.7 253.2h0M58.7 258.2h0M60.6 250.1h0M59.2 252.9h0M67.4 255.6h0M59.9 252.6h0M62.9 253.3h0M61.5 249.2h0M61.7 251.3h0M58.8 255.4h0M59.4 250.2h0M65.7 252.7h0M65.6 250.7h0M61.7 252.9h0M59.6 256.3h0M63.1 251.3h0M58.6 254.9h0M66.0 253.8h0M64.4 250.3h0M62.8 253.7h0M62.9 254.9h0M61.1 247.6h0M57.4 253.7h0M59.6 256.2h0M64.8 250.9h0M63.7 251.9h0M62.9 251.0h0M61.7 256.1h0M62.0 252.8h0M65.0 253.3h0M61.7 253.7h0M60.4 254.3h0M63.2 252.0h0M62.9 253.2h0M57.2 254.0h0M62.7 251.1h0M60.5 253.3h0M65.9 249.6h0M61.2 252.2h0M60.0 255.4h0M60.4 256.2h0M64.4 252.6h0M64.7 250.8h0M58.8 254.8h0M63.9 247.6h0M60.0 257.0h0M63.4 255.3h0M63.9 251.7h0M63.4 254.0h0M62.5 252.0h0M63.2 251.2h0M67.6 247.1h0M59.3 251.4h0M64.7 249.9h0M62.9 251.7h0M63.1 248.4h0M47.4 260.6h0M51.4 259.9h0M42.0 263.9h0M49.3 262.5h0M50.1 259.4h0M51.5 254.3h0M44.9 261.7h0M42.9 266.0h0M48.2 261.7h0M46.5 263.5h0M50.2 258.6h0M50.8 257.5h0M54.2 254.4h0M45.9 260.8h0M47.2 264.3h0M44.0 267.5h0M52.8 258.5h0M44.7 265.4h0M50.9 259.1h0M57.1 253.4h0M41.7 265.5h0M49.4 263.4h0M52.2 257.0h0M45.2 261.1h0M50.2 261.2h0M49.4 260.7h0M51.1 258.8h0M50.0 261.4h0M52.3 259.1h0M47.4 263.0h0M53.6 257.4h0M42.8 264.0h0M46.4 262.5h0M43.9 266.1h0M42.6 268.3h0M49.8 256.8h0M42.1 265.7h0M48.2 260.4h0M47.1 262.2h0M42.4 265.5h0M56.3 254.0h0M42.9 266.2h0M52.6 259.9h0M44.5 263.7h0M47.9 261.0h0M48.7 262.8h0M49.3 260.3h0M46.2 265.9h0M42.0 269.4h0M50.1 259.9h0M44.0 267.6h0M52.0 260.0h0M55.6 252.4h0M47.5 261.1h0M44.1 264.3h0M49.3 261.3h0M55.3 245.5h0M59.4 255.0h0M68.5 256.6h0M56.2 246.3h0M57.2 255.7h0M59.0 258.6h0M50.0 248.6h0M57.1 245.9h0M52.5 258.8h0M57.8 251.5h0M52.7 252.2h0M55.9 246.7h0M60.7 245.7h0M63.6 250.3h0M42.6 244.3h0M57.8 247.7h0M66.8 258.8h0M68.5 256.4h0M64.1 249.0h0M63.8 249.8h0M55.8 245.3h0M56.4 254.0h0M55.7 246.5h0M61.4 256.5h0M55.6 255.9h0M61.9 247.1h0M55.9 242.8h0M49.9 254.1h0M50.9 253.9h0M58.2 241.8h0M53.2 259.5h0M56.2 252.6h0M51.9 244.1h0M46.6 266.3h0M55.0 247.7h0M56.7 242.4h0M64.4 260.5h0M51.6 253.6h0M50.7 256.3h0M51.1 251.3h0M63.9 254.6h0M54.1 244.5h0M46.6 258.0h0M59.1 252.3h0" stroke="#000" stroke-opacity="0.7" stroke-width="0.8" stroke-linecap="round"/>
<line x1="38.8" y1="269.6" x2="40.4" y2="269.6" stroke="#000" stroke-width="0.6"/>
<text x="37.8" y="271.4" font-size="5.2" text-anchor="end">0</text>
<line x1="38.8" y1="258.1" x2="40.4" y2="258.1" stroke="#000" stroke-width="0.6"/>
<text x="37.8" y="259.9" font-size="5.2" text-anchor="end">2</text>
<line x1="38.8" y1="246.6" x2="40.4" y2="246.6" stroke="#000" stroke-width="0.6"/>
<text x="37.8" y="248.4" font-size="5.2" text-anchor="end">4</text>
<line x1="42.3" y1="271.2" x2="42.3" y2="272.8" stroke="#000" stroke-width="0.6"/>
<text x="42.3" y="282" font-size="5.6" text-anchor="middle">0</text>
<line x1="54" y1="271.2" x2="54" y2="272.8" stroke="#000" stroke-width="0.6"/>
<text x="54" y="282" font-size="5.6" text-anchor="middle">2</text>
<line x1="65.6" y1="271.2" x2="65.6" y2="272.8" stroke="#000" stroke-width="0.6"/>
<text x="65.6" y="282" font-size="5.6" text-anchor="middle">4</text>
<line x1="38.8" y1="236.5" x2="40.4" y2="236.5" stroke="#000" stroke-width="0.6"/>
<text x="37.8" y="238.3" font-size="5.2" text-anchor="end">0</text>
<line x1="38.8" y1="228" x2="40.4" y2="228" stroke="#000" stroke-width="0.6"/>
<text x="37.8" y="229.8" font-size="5.2" text-anchor="end">0.5</text>
<line x1="75.6" y1="271.2" x2="75.6" y2="272.8" stroke="#000" stroke-width="0.6"/>
<text x="75.6" y="282" font-size="5.6" text-anchor="middle">0</text>
<line x1="82.2" y1="271.2" x2="82.2" y2="272.8" stroke="#000" stroke-width="0.6"/>
<text x="82.2" y="282" font-size="5.6" text-anchor="middle">0.5</text>
<text x="4.2" y="234" font-size="7.42" textLength="19.8" lengthAdjust="spacingAndGlyphs">Density</text>
<text x="13.6" y="255" font-size="7.42" text-anchor="middle" transform="rotate(-90 13.6 255)" textLength="31.4" lengthAdjust="spacingAndGlyphs">TCR&#946; read</text>
<text x="21.9" y="254.5" font-size="7.42" text-anchor="middle" transform="rotate(-90 21.9 254.5)" textLength="34" lengthAdjust="spacingAndGlyphs">count (log)</text>
<text x="90.6" y="254.6" font-size="7" text-anchor="middle" fill="#5fa8e6" transform="rotate(-90 90.6 254.6)" textLength="21" lengthAdjust="spacingAndGlyphs">Donor 2</text>
<text x="42.3" y="291.6" font-size="7.42" textLength="31.5" lengthAdjust="spacingAndGlyphs">TCR&#945; read</text>
<text x="73.8" y="291.6" font-size="7.42" textLength="23.6" lengthAdjust="spacingAndGlyphs">Density</text>
<text x="42.3" y="300.9" font-size="7.42" textLength="33.9" lengthAdjust="spacingAndGlyphs">count (log)</text>
<text x="44.5" y="326.1" font-size="7" fill="#5fa8e6" textLength="20.8" lengthAdjust="spacingAndGlyphs">Donor 1</text>
<text x="44.5" y="333.6" font-size="6.78" textLength="33.2" lengthAdjust="spacingAndGlyphs">CEF-reactive</text>
<text x="89.5" y="326" font-size="6.78" textLength="34.5" lengthAdjust="spacingAndGlyphs">CD8<tspan font-size="3.8" dy="-2.4">+</tspan><tspan dy="2.4"> T cells</tspan></text>
<line x1="88.5" y1="329" x2="124.2" y2="329" stroke="#000" stroke-width="0.9"/>
<line x1="35.2" y1="331" x2="35.2" y2="372.7" stroke="#000" stroke-width="1"/>
<line x1="32" y1="372.1" x2="35.2" y2="372.1" stroke="#000" stroke-width="0.8"/>
<text x="29.8" y="374.2" font-size="6" text-anchor="end">0</text>
<line x1="32" y1="359.16" x2="35.2" y2="359.16" stroke="#000" stroke-width="0.8"/>
<text x="29.8" y="361.26" font-size="6" text-anchor="end">20</text>
<line x1="32" y1="346.22" x2="35.2" y2="346.22" stroke="#000" stroke-width="0.8"/>
<text x="29.8" y="348.32" font-size="6" text-anchor="end">40</text>
<line x1="32" y1="333.28" x2="35.2" y2="333.28" stroke="#000" stroke-width="0.8"/>
<text x="29.8" y="335.38" font-size="6" text-anchor="end">60</text>
<rect x="38.43" y="336.52" width="3.5" height="35.59" fill="#b0123e"/>
<rect x="42.38" y="341.69" width="3.5" height="30.41" fill="#b0123e"/>
<rect x="46.33" y="361.1" width="3.5" height="11" fill="#b0123e"/>
<rect x="50.28" y="362.4" width="3.5" height="9.71" fill="#b0123e"/>
<rect x="54.23" y="368.87" width="3.5" height="3.24" fill="#b0123e"/>
<rect x="58.18" y="370.16" width="3.5" height="1.94" fill="#b0123e"/>
<rect x="62.13" y="370.48" width="3.5" height="1.62" fill="#e39a86"/>
<rect x="66.08" y="370.16" width="3.5" height="1.94" fill="#2b4b8a"/>
<rect x="70.03" y="370.16" width="3.5" height="1.94" fill="#2b4b8a"/>
<rect x="73.98" y="370.42" width="3.5" height="1.68" fill="#2b4b8a"/>
<rect x="77.92" y="370.42" width="3.5" height="1.68" fill="#2b4b8a"/>
<rect x="81.88" y="370.42" width="3.5" height="1.68" fill="#2b4b8a"/>
<rect x="85.83" y="370.42" width="3.5" height="1.68" fill="#2b4b8a"/>
<rect x="89.78" y="370.42" width="3.5" height="1.68" fill="#2b4b8a"/>
<rect x="93.73" y="370.7" width="2.9" height="1.4" fill="#2b4b8a"/>
<rect x="97.68" y="370.7" width="2.9" height="1.4" fill="#2b4b8a"/>
<rect x="101.63" y="370.7" width="2.9" height="1.4" fill="#2b4b8a"/>
<rect x="105.58" y="370.7" width="2.9" height="1.4" fill="#2b4b8a"/>
<rect x="109.53" y="370.7" width="2.9" height="1.4" fill="#2b4b8a"/>
<rect x="113.48" y="370.7" width="2.9" height="1.4" fill="#2b4b8a"/>
<rect x="117.43" y="370.7" width="2.9" height="1.4" fill="#2b4b8a"/>
<rect x="121.38" y="370.7" width="2.9" height="1.4" fill="#2b4b8a"/>
<rect x="125.33" y="370.7" width="2.9" height="1.4" fill="#2b4b8a"/>
<rect x="129.28" y="370.7" width="2.9" height="1.4" fill="#2b4b8a"/>
<rect x="133.23" y="370.7" width="2.9" height="1.4" fill="#2b4b8a"/>
<line x1="34.7" y1="372.1" x2="147.3" y2="372.1" stroke="#000" stroke-width="1"/>
<line x1="149.7" y1="372.1" x2="184.2" y2="372.1" stroke="#000" stroke-width="1"/>
<line x1="146.1" y1="373.7" x2="148.1" y2="370.5" stroke="#000" stroke-width="0.7"/>
<line x1="148.9" y1="373.7" x2="150.9" y2="370.5" stroke="#000" stroke-width="0.7"/>
<line x1="40.2" y1="372.1" x2="40.2" y2="374.1" stroke="#000" stroke-width="0.8"/>
<line x1="56" y1="372.1" x2="56" y2="374.1" stroke="#000" stroke-width="0.8"/>
<line x1="75.75" y1="372.1" x2="75.75" y2="374.1" stroke="#000" stroke-width="0.8"/>
<line x1="95.5" y1="372.1" x2="95.5" y2="374.1" stroke="#000" stroke-width="0.8"/>
<line x1="115.25" y1="372.1" x2="115.25" y2="374.1" stroke="#000" stroke-width="0.8"/>
<line x1="135" y1="372.1" x2="135" y2="374.1" stroke="#000" stroke-width="0.8"/>
<line x1="177.7" y1="372.1" x2="177.7" y2="374.1" stroke="#000" stroke-width="0.8"/>
<text x="177.7" y="383.8" font-size="5.8" text-anchor="middle">81</text>
<path d="M42.65 337.89L45.65 337.89L44.15 340.14Z" fill="#f0a0b0" stroke="#c02050" stroke-width="0.6"/>
<path d="M46.6 357.3L49.6 357.3L48.1 359.55Z" fill="#f0a0b0" stroke="#c02050" stroke-width="0.6"/>
<path d="M50.55 358.6L53.55 358.6L52.05 360.85Z" fill="#f0a0b0" stroke="#c02050" stroke-width="0.6"/>
<path d="M58.45 366.36L61.45 366.36L59.95 368.61Z" fill="#f0a0b0" stroke="#c02050" stroke-width="0.6"/>
<path d="M62.4 366.36L65.4 366.36L63.9 368.61Z" fill="#f0a0b0" stroke="#c02050" stroke-width="0.6"/>
<path d="M94 367.98L97 367.98L95.5 370.23Z" fill="#f0a0b0" stroke="#c02050" stroke-width="0.6"/>
<text x="46.7" y="348" font-size="5.51" textLength="15" lengthAdjust="spacingAndGlyphs">BMLF1</text>
<line x1="48.3" y1="349.3" x2="48.3" y2="354" stroke="#000" stroke-width="0.6"/>
<path d="M47.3 352.6L48.3 354.4L49.3 352.6Z" stroke="#000" stroke-width="0.3" fill="#000"/>
<text x="44.4" y="397.7" font-size="5.09" textLength="28.8" lengthAdjust="spacingAndGlyphs">Non-reactive</text>
<line x1="35.6" y1="388" x2="35.6" y2="430.2" stroke="#000" stroke-width="1"/>
<line x1="32.4" y1="429.6" x2="35.6" y2="429.6" stroke="#000" stroke-width="0.8"/>
<text x="30.2" y="431.7" font-size="6" text-anchor="end">0</text>
<line x1="32.4" y1="416.4" x2="35.6" y2="416.4" stroke="#000" stroke-width="0.8"/>
<text x="30.2" y="418.5" font-size="6" text-anchor="end">20</text>
<line x1="32.4" y1="403.2" x2="35.6" y2="403.2" stroke="#000" stroke-width="0.8"/>
<text x="30.2" y="405.3" font-size="6" text-anchor="end">40</text>
<line x1="32.4" y1="390" x2="35.6" y2="390" stroke="#000" stroke-width="0.8"/>
<text x="30.2" y="392.1" font-size="6" text-anchor="end">60</text>
<rect x="38.23" y="426.96" width="3.5" height="2.64" fill="#2b4b8a"/>
<rect x="42.18" y="428.28" width="3.5" height="1.32" fill="#2b4b8a"/>
<rect x="46.12" y="428.61" width="3.5" height="0.99" fill="#2b4b8a"/>
<rect x="50.08" y="428.74" width="3.5" height="0.86" fill="#2b4b8a"/>
<rect x="54.03" y="428.74" width="3.5" height="0.86" fill="#2b4b8a"/>
<rect x="57.98" y="428.74" width="3.5" height="0.86" fill="#2b4b8a"/>
<line x1="35.1" y1="429.6" x2="147.1" y2="429.6" stroke="#000" stroke-width="1"/>
<line x1="149.5" y1="429.6" x2="170.8" y2="429.6" stroke="#000" stroke-width="1"/>
<line x1="145.9" y1="431.2" x2="147.9" y2="428" stroke="#000" stroke-width="0.7"/>
<line x1="148.7" y1="431.2" x2="150.7" y2="428" stroke="#000" stroke-width="0.7"/>
<line x1="40" y1="429.6" x2="40" y2="431.6" stroke="#000" stroke-width="0.8"/>
<text x="40" y="441.2" font-size="5.8" text-anchor="middle">1</text>
<line x1="55.8" y1="429.6" x2="55.8" y2="431.6" stroke="#000" stroke-width="0.8"/>
<text x="55.8" y="441.2" font-size="5.8" text-anchor="middle">5</text>
<line x1="75.55" y1="429.6" x2="75.55" y2="431.6" stroke="#000" stroke-width="0.8"/>
<text x="75.55" y="441.2" font-size="5.8" text-anchor="middle">10</text>
<line x1="95.3" y1="429.6" x2="95.3" y2="431.6" stroke="#000" stroke-width="0.8"/>
<text x="95.3" y="441.2" font-size="5.8" text-anchor="middle">15</text>
<line x1="115.05" y1="429.6" x2="115.05" y2="431.6" stroke="#000" stroke-width="0.8"/>
<text x="115.05" y="441.2" font-size="5.8" text-anchor="middle">20</text>
<line x1="134.8" y1="429.6" x2="134.8" y2="431.6" stroke="#000" stroke-width="0.8"/>
<text x="134.8" y="441.2" font-size="5.8" text-anchor="middle">25</text>
<line x1="164.3" y1="429.6" x2="164.3" y2="431.6" stroke="#000" stroke-width="0.8"/>
<text x="164.3" y="441.2" font-size="5.8" text-anchor="middle">73</text>
<text x="44.6" y="450.2" font-size="7" fill="#5fa8e6" textLength="22.5" lengthAdjust="spacingAndGlyphs">Donor 2</text>
<text x="44.6" y="457.2" font-size="6.15" textLength="29.5" lengthAdjust="spacingAndGlyphs">CEF-reactive</text>
<line x1="36" y1="445.5" x2="36" y2="487.3" stroke="#000" stroke-width="1"/>
<line x1="32.8" y1="486.7" x2="36" y2="486.7" stroke="#000" stroke-width="0.8"/>
<text x="30.6" y="488.8" font-size="6" text-anchor="end">0</text>
<line x1="32.8" y1="467.2" x2="36" y2="467.2" stroke="#000" stroke-width="0.8"/>
<text x="30.6" y="469.3" font-size="6" text-anchor="end">50</text>
<line x1="32.8" y1="447.7" x2="36" y2="447.7" stroke="#000" stroke-width="0.8"/>
<text x="30.6" y="449.8" font-size="6" text-anchor="end">100</text>
<rect x="38.29" y="448.87" width="3.78" height="37.83" fill="#b0123e"/>
<rect x="42.52" y="481.24" width="3.78" height="5.46" fill="#b0123e"/>
<rect x="46.75" y="482.8" width="3.78" height="3.9" fill="#b0123e"/>
<rect x="50.98" y="483.19" width="3.78" height="3.51" fill="#b0123e"/>
<rect x="55.21" y="483.58" width="3.78" height="3.12" fill="#b0123e"/>
<rect x="59.44" y="483.97" width="3.78" height="2.73" fill="#b0123e"/>
<rect x="63.67" y="484.7" width="3.18" height="2" fill="#2b4b8a"/>
<rect x="67.9" y="484.7" width="3.18" height="2" fill="#2b4b8a"/>
<rect x="72.12" y="484.7" width="3.18" height="2" fill="#2b4b8a"/>
<rect x="76.36" y="484.7" width="3.18" height="2" fill="#2b4b8a"/>
<rect x="80.59" y="484.7" width="3.18" height="2" fill="#2b4b8a"/>
<rect x="84.82" y="484.7" width="3.18" height="2" fill="#2b4b8a"/>
<rect x="89.05" y="484.7" width="3.18" height="2" fill="#2b4b8a"/>
<rect x="93.28" y="484.7" width="3.18" height="2" fill="#2b4b8a"/>
<rect x="97.51" y="484.7" width="3.18" height="2" fill="#2b4b8a"/>
<rect x="101.74" y="484.7" width="3.18" height="2" fill="#2b4b8a"/>
<rect x="105.97" y="484.7" width="3.18" height="2" fill="#2b4b8a"/>
<rect x="110.2" y="484.7" width="3.18" height="2" fill="#2b4b8a"/>
<rect x="114.43" y="484.7" width="3.18" height="2" fill="#2b4b8a"/>
<rect x="118.66" y="484.7" width="3.18" height="2" fill="#2b4b8a"/>
<rect x="122.89" y="484.7" width="3.18" height="2" fill="#2b4b8a"/>
<rect x="127.12" y="484.7" width="3.18" height="2" fill="#2b4b8a"/>
<rect x="131.35" y="484.7" width="3.18" height="2" fill="#2b4b8a"/>
<rect x="135.58" y="484.7" width="3.18" height="2" fill="#2b4b8a"/>
<rect x="139.81" y="484.7" width="3.18" height="2" fill="#2b4b8a"/>
<rect x="144.04" y="484.7" width="3.18" height="2" fill="#2b4b8a"/>
<line x1="35.5" y1="486.7" x2="147.6" y2="486.7" stroke="#000" stroke-width="1"/>
<line x1="150" y1="486.7" x2="184.2" y2="486.7" stroke="#000" stroke-width="1"/>
<line x1="146.4" y1="488.3" x2="148.4" y2="485.1" stroke="#000" stroke-width="0.7"/>
<line x1="149.2" y1="488.3" x2="151.2" y2="485.1" stroke="#000" stroke-width="0.7"/>
<line x1="40.2" y1="486.7" x2="40.2" y2="488.7" stroke="#000" stroke-width="0.8"/>
<line x1="57.12" y1="486.7" x2="57.12" y2="488.7" stroke="#000" stroke-width="0.8"/>
<line x1="78.27" y1="486.7" x2="78.27" y2="488.7" stroke="#000" stroke-width="0.8"/>
<line x1="99.42" y1="486.7" x2="99.42" y2="488.7" stroke="#000" stroke-width="0.8"/>
<line x1="120.57" y1="486.7" x2="120.57" y2="488.7" stroke="#000" stroke-width="0.8"/>
<line x1="141.72" y1="486.7" x2="141.72" y2="488.7" stroke="#000" stroke-width="0.8"/>
<line x1="177.7" y1="486.7" x2="177.7" y2="488.7" stroke="#000" stroke-width="0.8"/>
<text x="177.7" y="497.7" font-size="5.8" text-anchor="middle">89</text>
<path d="M38.7 445.07L41.7 445.07L40.2 447.32Z" fill="#f0a0b0" stroke="#c02050" stroke-width="0.6"/>
<path d="M51.39 479.39L54.39 479.39L52.89 481.64Z" fill="#f0a0b0" stroke="#c02050" stroke-width="0.6"/>
<path d="M55.62 479.78L58.62 479.78L57.12 482.03Z" fill="#f0a0b0" stroke="#c02050" stroke-width="0.6"/>
<path d="M59.85 480.17L62.85 480.17L61.35 482.42Z" fill="#f0a0b0" stroke="#c02050" stroke-width="0.6"/>
<text x="102.7" y="478" font-size="5.51" textLength="14.5" lengthAdjust="spacingAndGlyphs">BMLF1</text>
<line x1="103.8" y1="479.5" x2="103.8" y2="484.5" stroke="#000" stroke-width="0.6"/>
<path d="M102.8 483.2L103.8 485L104.8 483.2Z" stroke="#000" stroke-width="0.3" fill="#000"/>
<text x="44.6" y="509.6" font-size="5.09" textLength="28.8" lengthAdjust="spacingAndGlyphs">Non-reactive</text>
<line x1="35.8" y1="502.5" x2="35.8" y2="544.4" stroke="#000" stroke-width="1"/>
<line x1="32.6" y1="543.8" x2="35.8" y2="543.8" stroke="#000" stroke-width="0.8"/>
<text x="30.4" y="545.9" font-size="6" text-anchor="end">0</text>
<line x1="32.6" y1="524.2" x2="35.8" y2="524.2" stroke="#000" stroke-width="0.8"/>
<text x="30.4" y="526.3" font-size="6" text-anchor="end">50</text>
<line x1="32.6" y1="504.6" x2="35.8" y2="504.6" stroke="#000" stroke-width="0.8"/>
<text x="30.4" y="506.7" font-size="6" text-anchor="end">100</text>
<rect x="38.09" y="543.02" width="3.78" height="0.78" fill="#2b4b8a"/>
<rect x="42.31" y="543.21" width="3.78" height="0.59" fill="#2b4b8a"/>
<rect x="46.55" y="543.21" width="3.78" height="0.59" fill="#2b4b8a"/>
<line x1="35.3" y1="543.8" x2="147.8" y2="543.8" stroke="#000" stroke-width="1"/>
<line x1="150.2" y1="543.8" x2="185.8" y2="543.8" stroke="#000" stroke-width="1"/>
<line x1="146.6" y1="545.4" x2="148.6" y2="542.2" stroke="#000" stroke-width="0.7"/>
<line x1="149.4" y1="545.4" x2="151.4" y2="542.2" stroke="#000" stroke-width="0.7"/>
<line x1="40" y1="543.8" x2="40" y2="545.8" stroke="#000" stroke-width="0.8"/>
<text x="40" y="555.8" font-size="5.8" text-anchor="middle">1</text>
<line x1="56.92" y1="543.8" x2="56.92" y2="545.8" stroke="#000" stroke-width="0.8"/>
<text x="56.92" y="555.8" font-size="5.8" text-anchor="middle">5</text>
<line x1="78.07" y1="543.8" x2="78.07" y2="545.8" stroke="#000" stroke-width="0.8"/>
<text x="78.07" y="555.8" font-size="5.8" text-anchor="middle">10</text>
<line x1="99.22" y1="543.8" x2="99.22" y2="545.8" stroke="#000" stroke-width="0.8"/>
<text x="99.22" y="555.8" font-size="5.8" text-anchor="middle">15</text>
<line x1="120.37" y1="543.8" x2="120.37" y2="545.8" stroke="#000" stroke-width="0.8"/>
<text x="120.37" y="555.8" font-size="5.8" text-anchor="middle">20</text>
<line x1="141.52" y1="543.8" x2="141.52" y2="545.8" stroke="#000" stroke-width="0.8"/>
<text x="141.52" y="555.8" font-size="5.8" text-anchor="middle">25</text>
<line x1="179.3" y1="543.8" x2="179.3" y2="545.8" stroke="#000" stroke-width="0.8"/>
<text x="179.3" y="555.6" font-size="5.8" text-anchor="middle">98</text>
<text x="14.3" y="443.3" font-size="9.01" text-anchor="middle" transform="rotate(-90 14.3 443.3)" textLength="77.8" lengthAdjust="spacingAndGlyphs">Number of single cells</text>
<text x="67.4" y="567.2" font-size="8.59" textLength="67.6" lengthAdjust="spacingAndGlyphs">Distinct clonotypes</text>
<line x1="234.4" y1="318.7" x2="234.4" y2="374.6" stroke="#000" stroke-width="1.1"/>
<line x1="234" y1="373.9" x2="287.7" y2="373.9" stroke="#3a3a3a" stroke-width="1.7"/>
<line x1="231.4" y1="373.9" x2="234.4" y2="373.9" stroke="#000" stroke-width="0.8"/>
<text x="228.8" y="376" font-size="6" text-anchor="end">0</text>
<line x1="231.4" y1="363.52" x2="234.4" y2="363.52" stroke="#000" stroke-width="0.8"/>
<text x="228.8" y="365.62" font-size="6" text-anchor="end">20</text>
<line x1="231.4" y1="353.14" x2="234.4" y2="353.14" stroke="#000" stroke-width="0.8"/>
<text x="228.8" y="355.24" font-size="6" text-anchor="end">40</text>
<line x1="231.4" y1="342.76" x2="234.4" y2="342.76" stroke="#000" stroke-width="0.8"/>
<text x="228.8" y="344.86" font-size="6" text-anchor="end">60</text>
<line x1="231.4" y1="332.38" x2="234.4" y2="332.38" stroke="#000" stroke-width="0.8"/>
<text x="228.8" y="334.48" font-size="6" text-anchor="end">80</text>
<line x1="231.4" y1="322" x2="234.4" y2="322" stroke="#000" stroke-width="0.8"/>
<text x="228.8" y="324.1" font-size="6" text-anchor="end">100</text>
<text x="212.3" y="346.3" font-size="8.27" text-anchor="middle" transform="rotate(-90 212.3 346.3)" textLength="63.3" lengthAdjust="spacingAndGlyphs">% CD3 expression</text>
<circle cx="242.9" cy="373.6" r="1.25" fill="#2b4b8a"/>
<circle cx="255.5" cy="322.52" r="1.05" fill="#2b4b8a"/>
<circle cx="256.5" cy="322.78" r="1.05" fill="#2b4b8a"/>
<circle cx="257.5" cy="323.04" r="1.05" fill="#2b4b8a"/>
<circle cx="258.5" cy="323.3" r="1.05" fill="#2b4b8a"/>
<circle cx="259.5" cy="323.04" r="1.05" fill="#2b4b8a"/>
<circle cx="260.5" cy="323.56" r="1.05" fill="#2b4b8a"/>
<circle cx="261.5" cy="322.78" r="1.05" fill="#2b4b8a"/>
<circle cx="262.5" cy="322.52" r="1.05" fill="#2b4b8a"/>
<circle cx="263.5" cy="323.04" r="1.05" fill="#2b4b8a"/>
<circle cx="264.5" cy="323.3" r="1.05" fill="#2b4b8a"/>
<circle cx="265.5" cy="322.78" r="1.05" fill="#2b4b8a"/>
<circle cx="266.5" cy="322.52" r="1.05" fill="#2b4b8a"/>
<circle cx="260" cy="325.89" r="1.05" fill="#2b4b8a"/>
<circle cx="273.3" cy="322.26" r="1.05" fill="#2b4b8a"/>
<circle cx="274.3" cy="322.52" r="1.05" fill="#2b4b8a"/>
<circle cx="275.3" cy="322.26" r="1.05" fill="#2b4b8a"/>
<circle cx="276.3" cy="322.62" r="1.05" fill="#2b4b8a"/>
<circle cx="277.3" cy="322.42" r="1.05" fill="#2b4b8a"/>
<circle cx="278.3" cy="322.31" r="1.05" fill="#2b4b8a"/>
<circle cx="279.3" cy="322.52" r="1.05" fill="#2b4b8a"/>
<circle cx="280.3" cy="322.21" r="1.05" fill="#2b4b8a"/>
<circle cx="281.3" cy="322.42" r="1.05" fill="#2b4b8a"/>
<circle cx="277" cy="329.01" r="1.05" fill="#2b4b8a"/>
<text x="246.2" y="380" font-size="6.57" text-anchor="end" transform="rotate(-45 246.2 380)" textLength="20" lengthAdjust="spacingAndGlyphs">No TCR</text>
<text x="264" y="379.5" font-size="6.89" text-anchor="end" fill="#5fa8e6" transform="rotate(-45 264 379.5)" textLength="23" lengthAdjust="spacingAndGlyphs">Donor 1</text>
<text x="281" y="379.5" font-size="6.89" text-anchor="end" fill="#5fa8e6" transform="rotate(-45 281 379.5)" textLength="23" lengthAdjust="spacingAndGlyphs">Donor 2</text>
<rect x="356.2" y="381.5" width="7.68" height="7.6" fill="#535cf4"/>
<rect x="363.88" y="381.5" width="7.68" height="7.6" fill="#ffffff"/>
<rect x="371.56" y="381.5" width="7.68" height="7.6" fill="#ffffff"/>
<rect x="379.24" y="381.5" width="7.68" height="7.6" fill="#ffffff"/>
<rect x="386.92" y="381.5" width="7.68" height="7.6" fill="#ffffff"/>
<rect x="356.2" y="389.1" width="7.68" height="7.6" fill="#abb0fa"/>
<rect x="363.88" y="389.1" width="7.68" height="7.6" fill="#646bf5"/>
<rect x="371.56" y="389.1" width="7.68" height="7.6" fill="#ffffff"/>
<rect x="379.24" y="389.1" width="7.68" height="7.6" fill="#ffffff"/>
<rect x="386.92" y="389.1" width="7.68" height="7.6" fill="#747bf6"/>
<rect x="356.2" y="396.7" width="7.68" height="7.6" fill="#9399f8"/>
<rect x="363.88" y="396.7" width="7.68" height="7.6" fill="#535cf4"/>
<rect x="371.56" y="396.7" width="7.68" height="7.6" fill="#ffffff"/>
<rect x="379.24" y="396.7" width="7.68" height="7.6" fill="#646bf5"/>
<rect x="386.92" y="396.7" width="7.68" height="7.6" fill="#ffffff"/>
<rect x="356.2" y="404.3" width="7.68" height="7.6" fill="#7c82f7"/>
<rect x="363.88" y="404.3" width="7.68" height="7.6" fill="#454ef3"/>
<rect x="371.56" y="404.3" width="7.68" height="7.6" fill="#535cf4"/>
<rect x="379.24" y="404.3" width="7.68" height="7.6" fill="#ffffff"/>
<rect x="386.92" y="404.3" width="7.68" height="7.6" fill="#ffffff"/>
<rect x="356.2" y="411.9" width="7.68" height="7.6" fill="#abb0fa"/>
<rect x="363.88" y="411.9" width="7.68" height="7.6" fill="#ffffff"/>
<rect x="371.56" y="411.9" width="7.68" height="7.6" fill="#ffffff"/>
<rect x="379.24" y="411.9" width="7.68" height="7.6" fill="#ffffff"/>
<rect x="386.92" y="411.9" width="7.68" height="7.6" fill="#f8f8ff"/>
<rect x="356.2" y="419.5" width="7.68" height="7.6" fill="#7c82f7"/>
<rect x="363.88" y="419.5" width="7.68" height="7.6" fill="#2833f2"/>
<rect x="371.56" y="419.5" width="7.68" height="7.6" fill="#454ef3"/>
<rect x="379.24" y="419.5" width="7.68" height="7.6" fill="#ffffff"/>
<rect x="386.92" y="419.5" width="7.68" height="7.6" fill="#ffffff"/>
<line x1="363.88" y1="381.5" x2="363.88" y2="427.1" stroke="#222" stroke-width="0.8"/>
<line x1="371.56" y1="381.5" x2="371.56" y2="427.1" stroke="#222" stroke-width="0.8"/>
<line x1="379.24" y1="381.5" x2="379.24" y2="427.1" stroke="#222" stroke-width="0.8"/>
<line x1="386.92" y1="381.5" x2="386.92" y2="427.1" stroke="#222" stroke-width="0.8"/>
<line x1="356.2" y1="389.1" x2="394.6" y2="389.1" stroke="#222" stroke-width="0.8"/>
<line x1="356.2" y1="396.7" x2="394.6" y2="396.7" stroke="#222" stroke-width="0.8"/>
<line x1="356.2" y1="404.3" x2="394.6" y2="404.3" stroke="#222" stroke-width="0.8"/>
<line x1="356.2" y1="411.9" x2="394.6" y2="411.9" stroke="#222" stroke-width="0.8"/>
<line x1="356.2" y1="419.5" x2="394.6" y2="419.5" stroke="#222" stroke-width="0.8"/>
<rect x="356.2" y="381.5" width="38.4" height="45.6" fill="none" stroke="#555" stroke-width="0.9" rx="0.8"/>
<rect x="356.2" y="428.9" width="7.68" height="7.35" fill="#5860f4"/>
<rect x="363.88" y="428.9" width="7.68" height="7.35" fill="#101cf0"/>
<rect x="371.56" y="428.9" width="7.68" height="7.35" fill="#4049f3"/>
<rect x="379.24" y="428.9" width="7.68" height="7.35" fill="#f8f8ff"/>
<rect x="386.92" y="428.9" width="7.68" height="7.35" fill="#ffffff"/>
<rect x="356.2" y="436.25" width="7.68" height="7.35" fill="#9399f8"/>
<rect x="363.88" y="436.25" width="7.68" height="7.35" fill="#3b45f3"/>
<rect x="371.56" y="436.25" width="7.68" height="7.35" fill="#5860f4"/>
<rect x="379.24" y="436.25" width="7.68" height="7.35" fill="#f8f8ff"/>
<rect x="386.92" y="436.25" width="7.68" height="7.35" fill="#ffffff"/>
<line x1="363.88" y1="428.9" x2="363.88" y2="443.6" stroke="#222" stroke-width="0.8"/>
<line x1="371.56" y1="428.9" x2="371.56" y2="443.6" stroke="#222" stroke-width="0.8"/>
<line x1="379.24" y1="428.9" x2="379.24" y2="443.6" stroke="#222" stroke-width="0.8"/>
<line x1="386.92" y1="428.9" x2="386.92" y2="443.6" stroke="#222" stroke-width="0.8"/>
<line x1="356.2" y1="436.25" x2="394.6" y2="436.25" stroke="#222" stroke-width="0.8"/>
<rect x="356.2" y="428.9" width="38.4" height="14.7" fill="none" stroke="#555" stroke-width="0.9" rx="0.8"/>
<rect x="356.2" y="452.8" width="7.68" height="7.6" fill="#bcbffb"/>
<rect x="363.88" y="452.8" width="7.68" height="7.6" fill="#7077f6"/>
<rect x="371.56" y="452.8" width="7.68" height="7.6" fill="#ffffff"/>
<rect x="379.24" y="452.8" width="7.68" height="7.6" fill="#ffffff"/>
<rect x="386.92" y="452.8" width="7.68" height="7.6" fill="#747bf6"/>
<rect x="356.2" y="460.4" width="7.68" height="7.6" fill="#4c55f4"/>
<rect x="363.88" y="460.4" width="7.68" height="7.6" fill="#ffffff"/>
<rect x="371.56" y="460.4" width="7.68" height="7.6" fill="#ffffff"/>
<rect x="379.24" y="460.4" width="7.68" height="7.6" fill="#ffffff"/>
<rect x="386.92" y="460.4" width="7.68" height="7.6" fill="#ffffff"/>
<rect x="356.2" y="468" width="7.68" height="7.6" fill="#4c55f4"/>
<rect x="363.88" y="468" width="7.68" height="7.6" fill="#ffffff"/>
<rect x="371.56" y="468" width="7.68" height="7.6" fill="#ffffff"/>
<rect x="379.24" y="468" width="7.68" height="7.6" fill="#ffffff"/>
<rect x="386.92" y="468" width="7.68" height="7.6" fill="#ffffff"/>
<rect x="356.2" y="475.6" width="7.68" height="7.6" fill="#5860f4"/>
<rect x="363.88" y="475.6" width="7.68" height="7.6" fill="#747bf6"/>
<rect x="371.56" y="475.6" width="7.68" height="7.6" fill="#ffffff"/>
<rect x="379.24" y="475.6" width="7.68" height="7.6" fill="#646bf5"/>
<rect x="386.92" y="475.6" width="7.68" height="7.6" fill="#ffffff"/>
<rect x="356.2" y="483.2" width="7.68" height="7.6" fill="#5860f4"/>
<rect x="363.88" y="483.2" width="7.68" height="7.6" fill="#4049f3"/>
<rect x="371.56" y="483.2" width="7.68" height="7.6" fill="#343ef2"/>
<rect x="379.24" y="483.2" width="7.68" height="7.6" fill="#ffffff"/>
<rect x="386.92" y="483.2" width="7.68" height="7.6" fill="#ffffff"/>
<rect x="356.2" y="490.8" width="7.68" height="7.6" fill="#abb0fa"/>
<rect x="363.88" y="490.8" width="7.68" height="7.6" fill="#5c65f5"/>
<rect x="371.56" y="490.8" width="7.68" height="7.6" fill="#ffffff"/>
<rect x="379.24" y="490.8" width="7.68" height="7.6" fill="#7077f6"/>
<rect x="386.92" y="490.8" width="7.68" height="7.6" fill="#ffffff"/>
<line x1="363.88" y1="452.8" x2="363.88" y2="498.4" stroke="#222" stroke-width="0.8"/>
<line x1="371.56" y1="452.8" x2="371.56" y2="498.4" stroke="#222" stroke-width="0.8"/>
<line x1="379.24" y1="452.8" x2="379.24" y2="498.4" stroke="#222" stroke-width="0.8"/>
<line x1="386.92" y1="452.8" x2="386.92" y2="498.4" stroke="#222" stroke-width="0.8"/>
<line x1="356.2" y1="460.4" x2="394.6" y2="460.4" stroke="#222" stroke-width="0.8"/>
<line x1="356.2" y1="468" x2="394.6" y2="468" stroke="#222" stroke-width="0.8"/>
<line x1="356.2" y1="475.6" x2="394.6" y2="475.6" stroke="#222" stroke-width="0.8"/>
<line x1="356.2" y1="483.2" x2="394.6" y2="483.2" stroke="#222" stroke-width="0.8"/>
<line x1="356.2" y1="490.8" x2="394.6" y2="490.8" stroke="#222" stroke-width="0.8"/>
<rect x="356.2" y="452.8" width="38.4" height="45.6" fill="none" stroke="#555" stroke-width="0.9" rx="0.8"/>
<rect x="408.5" y="381.5" width="7.77" height="7.6" fill="#fde3c1"/>
<rect x="416.27" y="381.5" width="7.77" height="7.6" fill="#fde3c1"/>
<rect x="424.04" y="381.5" width="7.77" height="7.6" fill="#fde3c1"/>
<rect x="408.5" y="389.1" width="7.77" height="7.6" fill="#ffffff"/>
<rect x="416.27" y="389.1" width="7.77" height="7.6" fill="#ffffff"/>
<rect x="424.04" y="389.1" width="7.77" height="7.6" fill="#7077f6"/>
<rect x="408.5" y="396.7" width="7.77" height="7.6" fill="#ffffff"/>
<rect x="416.27" y="396.7" width="7.77" height="7.6" fill="#d4d6fc"/>
<rect x="424.04" y="396.7" width="7.77" height="7.6" fill="#ffffff"/>
<rect x="408.5" y="404.3" width="7.77" height="7.6" fill="#abb0fa"/>
<rect x="416.27" y="404.3" width="7.77" height="7.6" fill="#ffffff"/>
<rect x="424.04" y="404.3" width="7.77" height="7.6" fill="#ffffff"/>
<rect x="408.5" y="411.9" width="7.77" height="7.6" fill="#fde3c1"/>
<rect x="416.27" y="411.9" width="7.77" height="7.6" fill="#fde3c1"/>
<rect x="424.04" y="411.9" width="7.77" height="7.6" fill="#fde3c1"/>
<rect x="408.5" y="419.5" width="7.77" height="7.6" fill="#7077f6"/>
<rect x="416.27" y="419.5" width="7.77" height="7.6" fill="#ffffff"/>
<rect x="424.04" y="419.5" width="7.77" height="7.6" fill="#ffffff"/>
<line x1="416.27" y1="381.5" x2="416.27" y2="427.1" stroke="#222" stroke-width="0.8"/>
<line x1="424.04" y1="381.5" x2="424.04" y2="427.1" stroke="#222" stroke-width="0.8"/>
<line x1="408.5" y1="389.1" x2="431.81" y2="389.1" stroke="#222" stroke-width="0.8"/>
<line x1="408.5" y1="396.7" x2="431.81" y2="396.7" stroke="#222" stroke-width="0.8"/>
<line x1="408.5" y1="404.3" x2="431.81" y2="404.3" stroke="#222" stroke-width="0.8"/>
<line x1="408.5" y1="411.9" x2="431.81" y2="411.9" stroke="#222" stroke-width="0.8"/>
<line x1="408.5" y1="419.5" x2="431.81" y2="419.5" stroke="#222" stroke-width="0.8"/>
<rect x="408.5" y="381.5" width="23.31" height="45.6" fill="none" stroke="#555" stroke-width="0.9" rx="0.8"/>
<rect x="408.5" y="428.9" width="7.77" height="7.35" fill="#7077f6"/>
<rect x="416.27" y="428.9" width="7.77" height="7.35" fill="#ffffff"/>
<rect x="424.04" y="428.9" width="7.77" height="7.35" fill="#ffffff"/>
<rect x="408.5" y="436.25" width="7.77" height="7.35" fill="#abb0fa"/>
<rect x="416.27" y="436.25" width="7.77" height="7.35" fill="#ffffff"/>
<rect x="424.04" y="436.25" width="7.77" height="7.35" fill="#ffffff"/>
<line x1="416.27" y1="428.9" x2="416.27" y2="443.6" stroke="#222" stroke-width="0.8"/>
<line x1="424.04" y1="428.9" x2="424.04" y2="443.6" stroke="#222" stroke-width="0.8"/>
<line x1="408.5" y1="436.25" x2="431.81" y2="436.25" stroke="#222" stroke-width="0.8"/>
<rect x="408.5" y="428.9" width="23.31" height="14.7" fill="none" stroke="#555" stroke-width="0.9" rx="0.8"/>
<rect x="408.5" y="452.8" width="7.77" height="7.6" fill="#ffffff"/>
<rect x="416.27" y="452.8" width="7.77" height="7.6" fill="#ffffff"/>
<rect x="424.04" y="452.8" width="7.77" height="7.6" fill="#888ef8"/>
<rect x="408.5" y="460.4" width="7.77" height="7.6" fill="#fde3c1"/>
<rect x="416.27" y="460.4" width="7.77" height="7.6" fill="#fde3c1"/>
<rect x="424.04" y="460.4" width="7.77" height="7.6" fill="#fde3c1"/>
<rect x="408.5" y="468" width="7.77" height="7.6" fill="#fde3c1"/>
<rect x="416.27" y="468" width="7.77" height="7.6" fill="#fde3c1"/>
<rect x="424.04" y="468" width="7.77" height="7.6" fill="#fde3c1"/>
<rect x="408.5" y="475.6" width="7.77" height="7.6" fill="#ffffff"/>
<rect x="416.27" y="475.6" width="7.77" height="7.6" fill="#cfd2fc"/>
<rect x="424.04" y="475.6" width="7.77" height="7.6" fill="#ffffff"/>
<rect x="408.5" y="483.2" width="7.77" height="7.6" fill="#2833f2"/>
<rect x="416.27" y="483.2" width="7.77" height="7.6" fill="#ffffff"/>
<rect x="424.04" y="483.2" width="7.77" height="7.6" fill="#ffffff"/>
<rect x="408.5" y="490.8" width="7.77" height="7.6" fill="#ffffff"/>
<rect x="416.27" y="490.8" width="7.77" height="7.6" fill="#e2e4fd"/>
<rect x="424.04" y="490.8" width="7.77" height="7.6" fill="#ffffff"/>
<line x1="416.27" y1="452.8" x2="416.27" y2="498.4" stroke="#222" stroke-width="0.8"/>
<line x1="424.04" y1="452.8" x2="424.04" y2="498.4" stroke="#222" stroke-width="0.8"/>
<line x1="408.5" y1="460.4" x2="431.81" y2="460.4" stroke="#222" stroke-width="0.8"/>
<line x1="408.5" y1="468" x2="431.81" y2="468" stroke="#222" stroke-width="0.8"/>
<line x1="408.5" y1="475.6" x2="431.81" y2="475.6" stroke="#222" stroke-width="0.8"/>
<line x1="408.5" y1="483.2" x2="431.81" y2="483.2" stroke="#222" stroke-width="0.8"/>
<line x1="408.5" y1="490.8" x2="431.81" y2="490.8" stroke="#222" stroke-width="0.8"/>
<rect x="408.5" y="452.8" width="23.31" height="45.6" fill="none" stroke="#555" stroke-width="0.9" rx="0.8"/>
<rect x="441.7" y="381.5" width="7.63" height="7.6" fill="#fde3c1"/>
<rect x="449.33" y="381.5" width="7.63" height="7.6" fill="#fde3c1"/>
<rect x="456.96" y="381.5" width="7.63" height="7.6" fill="#fde3c1"/>
<rect x="441.7" y="389.1" width="7.63" height="7.6" fill="#ffffff"/>
<rect x="449.33" y="389.1" width="7.63" height="7.6" fill="#ffffff"/>
<rect x="456.96" y="389.1" width="7.63" height="7.6" fill="#b7bbfa"/>
<rect x="441.7" y="396.7" width="7.63" height="7.6" fill="#ffffff"/>
<rect x="449.33" y="396.7" width="7.63" height="7.6" fill="#bcbffb"/>
<rect x="456.96" y="396.7" width="7.63" height="7.6" fill="#ffffff"/>
<rect x="441.7" y="404.3" width="7.63" height="7.6" fill="#5c65f5"/>
<rect x="449.33" y="404.3" width="7.63" height="7.6" fill="#ecedfe"/>
<rect x="456.96" y="404.3" width="7.63" height="7.6" fill="#d4d6fc"/>
<rect x="441.7" y="411.9" width="7.63" height="7.6" fill="#fde3c1"/>
<rect x="449.33" y="411.9" width="7.63" height="7.6" fill="#fde3c1"/>
<rect x="456.96" y="411.9" width="7.63" height="7.6" fill="#fde3c1"/>
<rect x="441.7" y="419.5" width="7.63" height="7.6" fill="#2d37f2"/>
<rect x="449.33" y="419.5" width="7.63" height="7.6" fill="#f8f8ff"/>
<rect x="456.96" y="419.5" width="7.63" height="7.6" fill="#f8f8ff"/>
<line x1="449.33" y1="381.5" x2="449.33" y2="427.1" stroke="#222" stroke-width="0.8"/>
<line x1="456.96" y1="381.5" x2="456.96" y2="427.1" stroke="#222" stroke-width="0.8"/>
<line x1="441.7" y1="389.1" x2="464.59" y2="389.1" stroke="#222" stroke-width="0.8"/>
<line x1="441.7" y1="396.7" x2="464.59" y2="396.7" stroke="#222" stroke-width="0.8"/>
<line x1="441.7" y1="404.3" x2="464.59" y2="404.3" stroke="#222" stroke-width="0.8"/>
<line x1="441.7" y1="411.9" x2="464.59" y2="411.9" stroke="#222" stroke-width="0.8"/>
<line x1="441.7" y1="419.5" x2="464.59" y2="419.5" stroke="#222" stroke-width="0.8"/>
<rect x="441.7" y="381.5" width="22.89" height="45.6" fill="none" stroke="#555" stroke-width="0.9" rx="0.8"/>
<rect x="441.7" y="428.9" width="7.63" height="7.35" fill="#1c27f1"/>
<rect x="449.33" y="428.9" width="7.63" height="7.35" fill="#ffffff"/>
<rect x="456.96" y="428.9" width="7.63" height="7.35" fill="#ffffff"/>
<rect x="441.7" y="436.25" width="7.63" height="7.35" fill="#b3b6fa"/>
<rect x="449.33" y="436.25" width="7.63" height="7.35" fill="#ffffff"/>
<rect x="456.96" y="436.25" width="7.63" height="7.35" fill="#ffffff"/>
<line x1="449.33" y1="428.9" x2="449.33" y2="443.6" stroke="#222" stroke-width="0.8"/>
<line x1="456.96" y1="428.9" x2="456.96" y2="443.6" stroke="#222" stroke-width="0.8"/>
<line x1="441.7" y1="436.25" x2="464.59" y2="436.25" stroke="#222" stroke-width="0.8"/>
<rect x="441.7" y="428.9" width="22.89" height="14.7" fill="none" stroke="#555" stroke-width="0.9" rx="0.8"/>
<rect x="441.7" y="452.8" width="7.63" height="7.6" fill="#ffffff"/>
<rect x="449.33" y="452.8" width="7.63" height="7.6" fill="#ecedfe"/>
<rect x="456.96" y="452.8" width="7.63" height="7.6" fill="#bcbffb"/>
<rect x="441.7" y="460.4" width="7.63" height="7.6" fill="#fde3c1"/>
<rect x="449.33" y="460.4" width="7.63" height="7.6" fill="#fde3c1"/>
<rect x="456.96" y="460.4" width="7.63" height="7.6" fill="#fde3c1"/>
<rect x="441.7" y="468" width="7.63" height="7.6" fill="#fde3c1"/>
<rect x="449.33" y="468" width="7.63" height="7.6" fill="#fde3c1"/>
<rect x="456.96" y="468" width="7.63" height="7.6" fill="#fde3c1"/>
<rect x="441.7" y="475.6" width="7.63" height="7.6" fill="#ffffff"/>
<rect x="449.33" y="475.6" width="7.63" height="7.6" fill="#dbddfd"/>
<rect x="456.96" y="475.6" width="7.63" height="7.6" fill="#f8f8ff"/>
<rect x="441.7" y="483.2" width="7.63" height="7.6" fill="#343ef2"/>
<rect x="449.33" y="483.2" width="7.63" height="7.6" fill="#ffffff"/>
<rect x="456.96" y="483.2" width="7.63" height="7.6" fill="#ffffff"/>
<rect x="441.7" y="490.8" width="7.63" height="7.6" fill="#f8f8ff"/>
<rect x="449.33" y="490.8" width="7.63" height="7.6" fill="#b7bbfa"/>
<rect x="456.96" y="490.8" width="7.63" height="7.6" fill="#f8f8ff"/>
<line x1="449.33" y1="452.8" x2="449.33" y2="498.4" stroke="#222" stroke-width="0.8"/>
<line x1="456.96" y1="452.8" x2="456.96" y2="498.4" stroke="#222" stroke-width="0.8"/>
<line x1="441.7" y1="460.4" x2="464.59" y2="460.4" stroke="#222" stroke-width="0.8"/>
<line x1="441.7" y1="468" x2="464.59" y2="468" stroke="#222" stroke-width="0.8"/>
<line x1="441.7" y1="475.6" x2="464.59" y2="475.6" stroke="#222" stroke-width="0.8"/>
<line x1="441.7" y1="483.2" x2="464.59" y2="483.2" stroke="#222" stroke-width="0.8"/>
<line x1="441.7" y1="490.8" x2="464.59" y2="490.8" stroke="#222" stroke-width="0.8"/>
<rect x="441.7" y="452.8" width="22.89" height="45.6" fill="none" stroke="#555" stroke-width="0.9" rx="0.8"/>
<text x="373" y="334.6" font-size="6.25" textLength="35.5" lengthAdjust="spacingAndGlyphs">IL-2 secretion</text>
<path d="M366 340.6V338.6H415.6V340.6" stroke="#000" stroke-width="0.9" fill="none"/>
<text x="426.8" y="334.6" font-size="5.9">CD69<tspan font-size="3.6" dy="-2.2">+</tspan></text>
<path d="M423 340.8V338.8H447.5V340.8" stroke="#000" stroke-width="0.9" fill="none"/>
<text x="453.7" y="334.6" font-size="6.25" textLength="34.5" lengthAdjust="spacingAndGlyphs">Luminescence</text>
<path d="M460.6 340.8V338.8H485V340.8" stroke="#000" stroke-width="0.9" fill="none"/>
<text x="362.44" y="378.9" font-size="6" transform="rotate(-45 362.44 378.9)">PMA/Ionomycin</text>
<text x="370.12" y="378.9" font-size="6" transform="rotate(-45 370.12 378.9)">CEF pool</text>
<text x="377.8" y="378.9" font-size="6" transform="rotate(-45 377.8 378.9)">FluA M1</text>
<text x="385.48" y="378.9" font-size="6" transform="rotate(-45 385.48 378.9)">EBV BMLF1</text>
<text x="393.16" y="378.9" font-size="6" transform="rotate(-45 393.16 378.9)">EBV LMP2A</text>
<text x="414.78" y="378.9" font-size="6" transform="rotate(-45 414.78 378.9)">FluA M1</text>
<text x="422.55" y="378.9" font-size="6" transform="rotate(-45 422.55 378.9)">EBV BMLF1</text>
<text x="430.32" y="378.9" font-size="6" transform="rotate(-45 430.32 378.9)">EBV LMP2A</text>
<text x="447.91" y="378.9" font-size="6" transform="rotate(-45 447.91 378.9)">FluA M1</text>
<text x="455.54" y="378.9" font-size="6" transform="rotate(-45 455.54 378.9)">EBV BMLF1</text>
<text x="463.17" y="378.9" font-size="6" transform="rotate(-45 463.17 378.9)">EBV LMP2A</text>
<text x="343.1" y="387.6" font-size="7" fill="#b0123e" textLength="6.5" lengthAdjust="spacingAndGlyphs">1.1</text>
<text x="343.1" y="458.9" font-size="7" fill="#b0123e" textLength="6.5" lengthAdjust="spacingAndGlyphs">2.1</text>
<text x="343.1" y="395.2" font-size="7" fill="#b0123e" textLength="6.5" lengthAdjust="spacingAndGlyphs">1.2</text>
<text x="343.1" y="466.5" font-size="7" fill="#b0123e" textLength="6.5" lengthAdjust="spacingAndGlyphs">2.2</text>
<text x="343.1" y="402.8" font-size="7" fill="#b0123e" textLength="6.5" lengthAdjust="spacingAndGlyphs">1.3</text>
<text x="343.1" y="474.1" font-size="7" fill="#b0123e" textLength="6.5" lengthAdjust="spacingAndGlyphs">2.3</text>
<text x="343.1" y="410.4" font-size="7" fill="#b0123e" textLength="6.5" lengthAdjust="spacingAndGlyphs">1.4</text>
<text x="343.1" y="481.7" font-size="7" fill="#b0123e" textLength="6.5" lengthAdjust="spacingAndGlyphs">2.4</text>
<text x="343.1" y="418" font-size="7" fill="#b0123e" textLength="6.5" lengthAdjust="spacingAndGlyphs">1.5</text>
<text x="343.1" y="489.3" font-size="7" fill="#b0123e" textLength="6.5" lengthAdjust="spacingAndGlyphs">2.5</text>
<text x="343.1" y="425.6" font-size="7" fill="#b0123e" textLength="6.5" lengthAdjust="spacingAndGlyphs">1.6</text>
<text x="343.1" y="496.9" font-size="7" fill="#b0123e" textLength="6.5" lengthAdjust="spacingAndGlyphs">2.6</text>
<text x="343.1" y="434.88" font-size="7" fill="#e39a86" textLength="6.5" lengthAdjust="spacingAndGlyphs">1.7</text>
<text x="343.1" y="442.22" font-size="7" fill="#e39a86" textLength="6.5" lengthAdjust="spacingAndGlyphs">1.8</text>
<rect x="353.1" y="381.2" width="1.9" height="45.9" fill="#b0123e"/>
<rect x="353.1" y="428.9" width="1.9" height="14.7" fill="#e39a86"/>
<rect x="353.1" y="452.8" width="1.9" height="45.6" fill="#b0123e"/>
<path d="M340.4 380.9H338.2V442.7H340.4" stroke="#000" stroke-width="0.8" fill="none"/>
<path d="M340.4 452.4H338.2V498.0H340.4" stroke="#000" stroke-width="0.8" fill="none"/>
<text x="333.8" y="410.5" font-size="7" text-anchor="middle" fill="#5fa8e6" transform="rotate(-90 333.8 410.5)" textLength="22" lengthAdjust="spacingAndGlyphs">Donor 1</text>
<text x="333.8" y="475.2" font-size="7" text-anchor="middle" fill="#5fa8e6" transform="rotate(-90 333.8 475.2)" textLength="22" lengthAdjust="spacingAndGlyphs">Donor 2</text>
<rect x="359.2" y="501.9" width="32.8" height="3.8" fill="url(#cb)" stroke="#999" stroke-width="0.5"/>
<rect x="411" y="501.9" width="19.3" height="3.8" fill="url(#cb)" stroke="#999" stroke-width="0.5"/>
<rect x="443.7" y="501.9" width="19.3" height="3.8" fill="url(#cb)" stroke="#999" stroke-width="0.5"/>
<text x="358.9" y="513.8" font-size="6.2" text-anchor="middle">0</text>
<text x="398.1" y="513.8" font-size="6.57" text-anchor="end" textLength="13.2" lengthAdjust="spacingAndGlyphs">2000</text>
<text x="411.2" y="513.8" font-size="6.2" text-anchor="middle">0</text>
<text x="430.4" y="513.8" font-size="6.2" text-anchor="middle">50</text>
<text x="443.5" y="513.8" font-size="6.2" text-anchor="middle">0</text>
<text x="463" y="513.8" font-size="6.2" text-anchor="middle">1.5</text>
<text x="375.2" y="525.6" font-size="8.48" text-anchor="middle" textLength="27.2" lengthAdjust="spacingAndGlyphs">(pg/ml)</text>
<text x="420.4" y="525.6" font-size="8.48" text-anchor="middle" textLength="11.5" lengthAdjust="spacingAndGlyphs">(%)</text>
<text x="453.1" y="525.6" font-size="8.48" text-anchor="middle" textLength="19.2" lengthAdjust="spacingAndGlyphs">(RLU)</text>
<rect x="422.9" y="535.3" width="6.6" height="3" fill="#fde3c1" stroke="#555" stroke-width="0.6"/>
<text x="432" y="538.4" font-size="4.88" textLength="23" lengthAdjust="spacingAndGlyphs">Not tested</text>
<line x1="472.3" y1="381" x2="472.3" y2="447.6" stroke="#000" stroke-width="1"/>
<line x1="472" y1="447.1" x2="497" y2="447.1" stroke="#000" stroke-width="1"/>
<line x1="483.4" y1="447.1" x2="483.4" y2="445.5" stroke="#000" stroke-width="0.8"/>
<line x1="494.6" y1="447.1" x2="494.6" y2="445.5" stroke="#000" stroke-width="0.8"/>
<line x1="470.1" y1="385.3" x2="472.3" y2="385.3" stroke="#000" stroke-width="0.8"/>
<rect x="472.8" y="382.1" width="11.8" height="6.4" fill="#c6c6cb"/>
<line x1="470.1" y1="392.9" x2="472.3" y2="392.9" stroke="#000" stroke-width="0.8"/>
<rect x="472.8" y="389.7" width="10.26" height="6.4" fill="#c6c6cb"/>
<line x1="470.1" y1="400.5" x2="472.3" y2="400.5" stroke="#000" stroke-width="0.8"/>
<rect x="472.8" y="397.3" width="3.08" height="6.4" fill="#c6c6cb"/>
<line x1="470.1" y1="408.1" x2="472.3" y2="408.1" stroke="#000" stroke-width="0.8"/>
<rect x="472.8" y="404.9" width="3.08" height="6.4" fill="#c6c6cb"/>
<line x1="470.1" y1="415.7" x2="472.3" y2="415.7" stroke="#000" stroke-width="0.8"/>
<line x1="470.1" y1="423.3" x2="472.3" y2="423.3" stroke="#000" stroke-width="0.8"/>
<line x1="470.1" y1="432.57" x2="472.3" y2="432.57" stroke="#000" stroke-width="0.8"/>
<line x1="470.1" y1="439.93" x2="472.3" y2="439.93" stroke="#000" stroke-width="0.8"/>
<line x1="472.3" y1="453" x2="472.3" y2="505.3" stroke="#000" stroke-width="1"/>
<line x1="472" y1="504.8" x2="497" y2="504.8" stroke="#000" stroke-width="1"/>
<line x1="483.4" y1="504.8" x2="483.4" y2="503.2" stroke="#000" stroke-width="0.8"/>
<line x1="494.6" y1="504.8" x2="494.6" y2="503.2" stroke="#000" stroke-width="0.8"/>
<line x1="470.1" y1="456.6" x2="472.3" y2="456.6" stroke="#000" stroke-width="0.8"/>
<rect x="472.8" y="453.4" width="17.7" height="6.4" fill="#c6c6cb"/>
<line x1="470.1" y1="464.2" x2="472.3" y2="464.2" stroke="#000" stroke-width="0.8"/>
<rect x="472.8" y="461" width="2.05" height="6.4" fill="#c6c6cb"/>
<line x1="470.1" y1="471.8" x2="472.3" y2="471.8" stroke="#000" stroke-width="0.8"/>
<line x1="470.1" y1="479.4" x2="472.3" y2="479.4" stroke="#000" stroke-width="0.8"/>
<line x1="470.1" y1="487" x2="472.3" y2="487" stroke="#000" stroke-width="0.8"/>
<line x1="470.1" y1="494.6" x2="472.3" y2="494.6" stroke="#000" stroke-width="0.8"/>
<text x="472.5" y="516.2" font-size="6.2" text-anchor="middle">0</text>
<text x="482.6" y="516.2" font-size="6.2" text-anchor="middle">20</text>
<text x="493" y="516.2" font-size="6.2" text-anchor="middle">40</text>
<text x="483.5" y="528.9" font-size="8.8" text-anchor="middle" textLength="30.6" lengthAdjust="spacingAndGlyphs">% of CEF</text>
<text x="483.5" y="538.7" font-size="8.8" text-anchor="middle" textLength="27.9" lengthAdjust="spacingAndGlyphs">reactive</text>
<text x="483.5" y="548.4" font-size="8.8" text-anchor="middle" textLength="21.3" lengthAdjust="spacingAndGlyphs">T cells</text>
<line x1="234.4" y1="414.6" x2="234.4" y2="540.1" stroke="#000" stroke-width="1.1"/>
<line x1="234" y1="539.5" x2="312" y2="539.5" stroke="#000" stroke-width="1.1"/>
<line x1="231.3" y1="539.5" x2="234.4" y2="539.5" stroke="#000" stroke-width="0.8"/>
<text x="228.4" y="541.6" font-size="5.9" text-anchor="end">0</text>
<line x1="231.3" y1="515" x2="234.4" y2="515" stroke="#000" stroke-width="0.8"/>
<text x="228.4" y="517.1" font-size="5.9" text-anchor="end">200</text>
<line x1="231.3" y1="490.5" x2="234.4" y2="490.5" stroke="#000" stroke-width="0.8"/>
<text x="228.4" y="492.6" font-size="5.9" text-anchor="end">400</text>
<line x1="231.3" y1="466" x2="234.4" y2="466" stroke="#000" stroke-width="0.8"/>
<text x="228.4" y="468.1" font-size="5.9" text-anchor="end">600</text>
<line x1="231.3" y1="441.5" x2="234.4" y2="441.5" stroke="#000" stroke-width="0.8"/>
<text x="228.4" y="443.6" font-size="5.9" text-anchor="end">800</text>
<line x1="231.3" y1="417" x2="234.4" y2="417" stroke="#000" stroke-width="0.8"/>
<text x="228.4" y="419.1" font-size="5.9" text-anchor="end">1000</text>
<line x1="245.2" y1="539.5" x2="245.2" y2="541.5" stroke="#000" stroke-width="0.8"/>
<text x="245.2" y="551.2" font-size="6.0" text-anchor="middle">10<tspan font-size="4.0" dy="-2.4">1</tspan></text>
<line x1="255.75" y1="539.5" x2="255.75" y2="541.5" stroke="#000" stroke-width="0.8"/>
<text x="255.75" y="551.2" font-size="6.0" text-anchor="middle">10<tspan font-size="4.0" dy="-2.4">2</tspan></text>
<line x1="266.3" y1="539.5" x2="266.3" y2="541.5" stroke="#000" stroke-width="0.8"/>
<text x="266.3" y="551.2" font-size="6.0" text-anchor="middle">10<tspan font-size="4.0" dy="-2.4">3</tspan></text>
<line x1="276.85" y1="539.5" x2="276.85" y2="541.5" stroke="#000" stroke-width="0.8"/>
<text x="276.85" y="551.2" font-size="6.0" text-anchor="middle">10<tspan font-size="4.0" dy="-2.4">4</tspan></text>
<line x1="287.4" y1="539.5" x2="287.4" y2="541.5" stroke="#000" stroke-width="0.8"/>
<text x="287.4" y="551.2" font-size="6.0" text-anchor="middle">10<tspan font-size="4.0" dy="-2.4">5</tspan></text>
<line x1="297.95" y1="539.5" x2="297.95" y2="541.5" stroke="#000" stroke-width="0.8"/>
<text x="297.95" y="551.2" font-size="6.0" text-anchor="middle">10<tspan font-size="4.0" dy="-2.4">6</tspan></text>
<line x1="308.5" y1="539.5" x2="308.5" y2="541.5" stroke="#000" stroke-width="0.8"/>
<text x="308.5" y="551.2" font-size="6.0" text-anchor="middle">10<tspan font-size="4.0" dy="-2.4">7</tspan></text>
<text x="273.6" y="562.5" font-size="8.9" text-anchor="middle" textLength="69.5" lengthAdjust="spacingAndGlyphs">M1 peptide (pg/ml)</text>
<text x="208.9" y="477.4" font-size="8.48" text-anchor="middle" transform="rotate(-90 208.9 477.4)" textLength="41" lengthAdjust="spacingAndGlyphs">IL-2 (pg/ml)</text>
<polyline points="245.2,535.83 255.75,537.66 266.3,524.31 276.85,497.24 287.4,453.75 297.95,447.26 308.5,441.75" fill="none" stroke="#e39a86" stroke-width="1.35"/>
<circle cx="245.2" cy="535.83" r="1.6" fill="#e39a86"/>
<circle cx="255.75" cy="537.66" r="1.6" fill="#e39a86"/>
<circle cx="266.3" cy="524.31" r="1.6" fill="#e39a86"/>
<circle cx="276.85" cy="497.24" r="1.6" fill="#e39a86"/>
<circle cx="287.4" cy="453.75" r="1.6" fill="#e39a86"/>
<circle cx="297.95" cy="447.26" r="1.6" fill="#e39a86"/>
<circle cx="308.5" cy="441.75" r="1.6" fill="#e39a86"/>
<polyline points="245.2,534.6 255.75,536.8 266.3,488.05 276.85,453.75 287.4,436.36 297.95,437.82 308.5,429" fill="none" stroke="#eeae9c" stroke-width="1.35"/>
<circle cx="245.2" cy="534.6" r="1.6" fill="#eeae9c"/>
<circle cx="255.75" cy="536.8" r="1.6" fill="#eeae9c"/>
<circle cx="266.3" cy="488.05" r="1.6" fill="#eeae9c"/>
<circle cx="276.85" cy="453.75" r="1.6" fill="#eeae9c"/>
<circle cx="287.4" cy="436.36" r="1.6" fill="#eeae9c"/>
<circle cx="297.95" cy="437.82" r="1.6" fill="#eeae9c"/>
<circle cx="308.5" cy="429" r="1.6" fill="#eeae9c"/>
<polyline points="245.2,539.25 255.75,538.27 266.3,496.99 276.85,453.75 287.4,443.95 297.95,445.67 308.5,440.64" fill="none" stroke="#b0123e" stroke-width="1.35"/>
<circle cx="245.2" cy="539.25" r="1.6" fill="#b0123e"/>
<circle cx="255.75" cy="538.27" r="1.6" fill="#b0123e"/>
<circle cx="266.3" cy="496.99" r="1.6" fill="#b0123e"/>
<circle cx="276.85" cy="453.75" r="1.6" fill="#b0123e"/>
<circle cx="287.4" cy="443.95" r="1.6" fill="#b0123e"/>
<circle cx="297.95" cy="445.67" r="1.6" fill="#b0123e"/>
<circle cx="308.5" cy="440.64" r="1.6" fill="#b0123e"/>
<polyline points="245.2,539.13 255.75,537.66 266.3,483.15 276.85,449.34 287.4,441.75 297.95,443.95 308.5,436.36" fill="none" stroke="#b0123e" stroke-width="1.35"/>
<circle cx="245.2" cy="539.13" r="1.6" fill="#b0123e"/>
<circle cx="255.75" cy="537.66" r="1.6" fill="#b0123e"/>
<circle cx="266.3" cy="483.15" r="1.6" fill="#b0123e"/>
<circle cx="276.85" cy="449.34" r="1.6" fill="#b0123e"/>
<circle cx="287.4" cy="441.75" r="1.6" fill="#b0123e"/>
<circle cx="297.95" cy="443.95" r="1.6" fill="#b0123e"/>
<circle cx="308.5" cy="436.36" r="1.6" fill="#b0123e"/>
<polyline points="245.2,538.89 255.75,535.58 266.3,476.78 276.85,442.73 287.4,432.56 297.95,437.82 308.5,434.03" fill="none" stroke="#b0123e" stroke-width="1.35"/>
<path d="M243.6 539.89L246.8 539.89L245.2 537.19Z" fill="#b0123e"/>
<path d="M254.15 536.58L257.35 536.58L255.75 533.88Z" fill="#b0123e"/>
<path d="M264.7 477.78L267.9 477.78L266.3 475.08Z" fill="#b0123e"/>
<path d="M275.25 443.73L278.45 443.73L276.85 441.03Z" fill="#b0123e"/>
<path d="M285.8 433.56L289 433.56L287.4 430.86Z" fill="#b0123e"/>
<path d="M296.35 438.82L299.55 438.82L297.95 436.12Z" fill="#b0123e"/>
<path d="M306.9 435.03L310.1 435.03L308.5 432.33Z" fill="#b0123e"/>
<line x1="245.2" y1="529.7" x2="245.2" y2="539.5" stroke="#b0123e" stroke-width="0.6"/>
<line x1="244" y1="529.7" x2="246.4" y2="529.7" stroke="#b0123e" stroke-width="0.6"/>
<line x1="245.2" y1="532.15" x2="245.2" y2="538.27" stroke="#e39a86" stroke-width="0.6"/>
<line x1="244" y1="532.15" x2="246.4" y2="532.15" stroke="#e39a86" stroke-width="0.6"/>
<line x1="266.3" y1="473.35" x2="266.3" y2="485.6" stroke="#b0123e" stroke-width="0.6"/>
<line x1="265.1" y1="473.35" x2="267.5" y2="473.35" stroke="#b0123e" stroke-width="0.6"/>
<line x1="276.85" y1="441.5" x2="276.85" y2="454.98" stroke="#b0123e" stroke-width="0.6"/>
<line x1="275.65" y1="441.5" x2="278.05" y2="441.5" stroke="#b0123e" stroke-width="0.6"/>
<line x1="276.85" y1="494.18" x2="276.85" y2="499.07" stroke="#e39a86" stroke-width="0.6"/>
<line x1="275.65" y1="494.18" x2="278.05" y2="494.18" stroke="#e39a86" stroke-width="0.6"/>
<line x1="308.5" y1="431.7" x2="308.5" y2="442.73" stroke="#b0123e" stroke-width="0.6"/>
<line x1="307.3" y1="431.7" x2="309.7" y2="431.7" stroke="#b0123e" stroke-width="0.6"/>
<line x1="287.4" y1="430.48" x2="287.4" y2="445.18" stroke="#b0123e" stroke-width="0.6"/>
<line x1="286.2" y1="430.48" x2="288.6" y2="430.48" stroke="#b0123e" stroke-width="0.6"/>
<line x1="288.6" y1="499.2" x2="295" y2="499.2" stroke="#b0123e" stroke-width="1"/>
<circle cx="291.8" cy="499.2" r="1.3" fill="#b0123e"/>
<text x="298.6" y="501" font-size="5" fill="#b0123e">1.4</text>
<line x1="288.6" y1="505.1" x2="295" y2="505.1" stroke="#b0123e" stroke-width="1"/>
<circle cx="291.8" cy="505.1" r="1.3" fill="#b0123e"/>
<text x="298.6" y="506.9" font-size="5" fill="#b0123e">1.6</text>
<line x1="288.6" y1="511" x2="295" y2="511" stroke="#e39a86" stroke-width="1"/>
<circle cx="291.8" cy="511" r="1.3" fill="#e39a86"/>
<text x="298.6" y="512.8" font-size="5" fill="#e39a86">1.7</text>
<line x1="288.6" y1="516.9" x2="295" y2="516.9" stroke="#eeae9c" stroke-width="1"/>
<circle cx="291.8" cy="516.9" r="1.3" fill="#eeae9c"/>
<text x="298.6" y="518.7" font-size="5" fill="#eeae9c">1.8</text>
<line x1="288.6" y1="522.8" x2="295" y2="522.8" stroke="#b0123e" stroke-width="1"/>
<path d="M290.2 523.8L293.4 523.8L291.8 521.1Z" fill="#b0123e"/>
<text x="298.6" y="524.6" font-size="5" fill="#b0123e">2.5</text></svg></body></html>
